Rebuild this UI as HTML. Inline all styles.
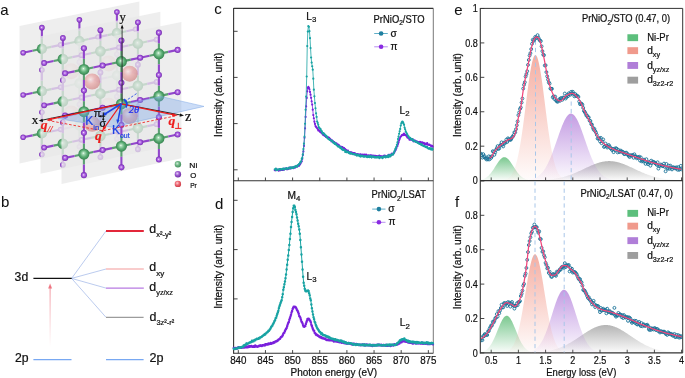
<!DOCTYPE html>
<html><head><meta charset="utf-8"><style>
html,body{margin:0;padding:0;background:#fff;width:685px;height:378px;overflow:hidden}
svg{display:block;will-change:transform}
</style></head><body>
<svg width="685" height="378" viewBox="0 0 685 378">
<defs><clipPath id="clipe"><rect x="480.8" y="8.9" width="201.4" height="171.2"/></clipPath>
<clipPath id="clipf"><rect x="480.8" y="181.1" width="201.4" height="171.3"/></clipPath>
<linearGradient id="grek" gradientUnits="userSpaceOnUse" x1="0" y1="161.1" x2="0" y2="180.6"><stop offset="0" stop-color="#9c9c9c" stop-opacity="0.75"/><stop offset="1" stop-color="#9c9c9c" stop-opacity="0.03"/></linearGradient>
<linearGradient id="greg" gradientUnits="userSpaceOnUse" x1="0" y1="157.2" x2="0" y2="180.6"><stop offset="0" stop-color="#6cc283" stop-opacity="0.9"/><stop offset="1" stop-color="#6cc283" stop-opacity="0.03"/></linearGradient>
<linearGradient id="grev" gradientUnits="userSpaceOnUse" x1="0" y1="113.6" x2="0" y2="180.6"><stop offset="0" stop-color="#b584dc" stop-opacity="0.8"/><stop offset="1" stop-color="#b584dc" stop-opacity="0.03"/></linearGradient>
<linearGradient id="grep" gradientUnits="userSpaceOnUse" x1="0" y1="55.1" x2="0" y2="180.6"><stop offset="0" stop-color="#f3a092" stop-opacity="0.85"/><stop offset="1" stop-color="#f3a092" stop-opacity="0.03"/></linearGradient>
<linearGradient id="grfk" gradientUnits="userSpaceOnUse" x1="0" y1="325" x2="0" y2="352.9"><stop offset="0" stop-color="#9c9c9c" stop-opacity="0.75"/><stop offset="1" stop-color="#9c9c9c" stop-opacity="0.03"/></linearGradient>
<linearGradient id="grfg" gradientUnits="userSpaceOnUse" x1="0" y1="315.7" x2="0" y2="352.9"><stop offset="0" stop-color="#6cc283" stop-opacity="0.9"/><stop offset="1" stop-color="#6cc283" stop-opacity="0.03"/></linearGradient>
<linearGradient id="grfv" gradientUnits="userSpaceOnUse" x1="0" y1="289.7" x2="0" y2="352.9"><stop offset="0" stop-color="#b584dc" stop-opacity="0.8"/><stop offset="1" stop-color="#b584dc" stop-opacity="0.03"/></linearGradient>
<linearGradient id="grfp" gradientUnits="userSpaceOnUse" x1="0" y1="254.2" x2="0" y2="352.9"><stop offset="0" stop-color="#f3a092" stop-opacity="0.85"/><stop offset="1" stop-color="#f3a092" stop-opacity="0.03"/></linearGradient>
<linearGradient id="redarrow" x1="0" y1="347" x2="0" y2="284" gradientUnits="userSpaceOnUse"><stop offset="0" stop-color="#f07a85" stop-opacity="0"/><stop offset="1" stop-color="#ec6674" stop-opacity="0.85"/></linearGradient>
<radialGradient id="gNi" cx="0.5" cy="0.5" r="0.55" fx="0.45" fy="0.42"><stop offset="0" stop-color="#f4fff7"/><stop offset="0.18" stop-color="#a9dcb7"/><stop offset="0.55" stop-color="#5dae76"/><stop offset="0.85" stop-color="#3d8e57"/><stop offset="1" stop-color="#2c7043"/></radialGradient>
<radialGradient id="gO" cx="0.5" cy="0.5" r="0.55" fx="0.45" fy="0.45"><stop offset="0" stop-color="#fbe2ff"/><stop offset="0.25" stop-color="#c084ea"/><stop offset="0.65" stop-color="#9444d2"/><stop offset="1" stop-color="#6a2a9e"/></radialGradient>
<radialGradient id="gPr" cx="0.4" cy="0.38" r="0.68"><stop offset="0" stop-color="#ffe4e4"/><stop offset="0.4" stop-color="#ea8f8f"/><stop offset="1" stop-color="#c45a5a"/></radialGradient>
<radialGradient id="gPrL" cx="0.4" cy="0.38" r="0.68"><stop offset="0" stop-color="#ffd0d4"/><stop offset="0.45" stop-color="#ee6a76"/><stop offset="1" stop-color="#c8333f"/></radialGradient>
<radialGradient id="gNiL" cx="0.4" cy="0.38" r="0.68"><stop offset="0" stop-color="#cfeed6"/><stop offset="0.45" stop-color="#6fb585"/><stop offset="1" stop-color="#3f8a58"/></radialGradient>
<radialGradient id="gOL" cx="0.4" cy="0.38" r="0.68"><stop offset="0" stop-color="#e6cdf7"/><stop offset="0.45" stop-color="#9d5bd0"/><stop offset="1" stop-color="#6a2aa0"/></radialGradient></defs>
<rect width="685" height="378" fill="#fff"/>
<text x="0.3" y="14.6" font-size="15" fill="#111" font-family='"Liberation Sans", sans-serif' stroke-width="0.05" stroke="#111">a</text>
<text x="1" y="207.3" font-size="15" fill="#111" font-family='"Liberation Sans", sans-serif' stroke-width="0.05" stroke="#111">b</text>
<text x="214.2" y="13.9" font-size="15" fill="#111" font-family='"Liberation Sans", sans-serif' stroke-width="0.05" stroke="#111">c</text>
<text x="215" y="209.2" font-size="15" fill="#111" font-family='"Liberation Sans", sans-serif' stroke-width="0.05" stroke="#111">d</text>
<text x="454.2" y="14.6" font-size="15" fill="#111" font-family='"Liberation Sans", sans-serif' stroke-width="0.05" stroke="#111">e</text>
<text x="455" y="207" font-size="15" fill="#111" font-family='"Liberation Sans", sans-serif' stroke-width="0.05" stroke="#111">f</text>
<path d="M233.6 8.4H433.3" stroke="#333" stroke-width="1.1" fill="none"/>
<path d="M433.3 8.4V353.3" stroke="#555" stroke-width="0.8" fill="none"/>
<path d="M233.6 7.9V353.8" stroke="#333" stroke-width="1.1" fill="none"/>
<path d="M233.6 180.7H433.3" stroke="#333" stroke-width="1.1" fill="none"/>
<path d="M233.6 353.3H433.3" stroke="#333" stroke-width="1.1" fill="none"/>
<path d="M233.6 31.3h4M233.6 77.4h4M233.6 123.6h4M233.6 169.8h4M233.6 200.3h4M233.6 249.6h4M233.6 298.9h4M233.6 348.2h4M238.3 180.7v-3.2M238.3 353.3v-3.2M265.45 180.7v-3.2M265.45 353.3v-3.2M292.6 180.7v-3.2M292.6 353.3v-3.2M319.75 180.7v-3.2M319.75 353.3v-3.2M346.9 180.7v-3.2M346.9 353.3v-3.2M374.05 180.7v-3.2M374.05 353.3v-3.2M401.2 180.7v-3.2M401.2 353.3v-3.2M428.35 180.7v-3.2M428.35 353.3v-3.2" stroke="#333" stroke-width="0.9" fill="none"/>
<text x="238.3" y="364.1" font-size="10.2" fill="#111" font-family='"Liberation Sans", sans-serif' text-anchor="middle" textLength="16.3" lengthAdjust="spacingAndGlyphs"  stroke="#111" stroke-width="0.22">840</text>
<text x="265.45" y="364.1" font-size="10.2" fill="#111" font-family='"Liberation Sans", sans-serif' text-anchor="middle" textLength="16.3" lengthAdjust="spacingAndGlyphs"  stroke="#111" stroke-width="0.22">845</text>
<text x="292.6" y="364.1" font-size="10.2" fill="#111" font-family='"Liberation Sans", sans-serif' text-anchor="middle" textLength="16.3" lengthAdjust="spacingAndGlyphs"  stroke="#111" stroke-width="0.22">850</text>
<text x="319.75" y="364.1" font-size="10.2" fill="#111" font-family='"Liberation Sans", sans-serif' text-anchor="middle" textLength="16.3" lengthAdjust="spacingAndGlyphs"  stroke="#111" stroke-width="0.22">855</text>
<text x="346.9" y="364.1" font-size="10.2" fill="#111" font-family='"Liberation Sans", sans-serif' text-anchor="middle" textLength="16.3" lengthAdjust="spacingAndGlyphs"  stroke="#111" stroke-width="0.22">860</text>
<text x="374.05" y="364.1" font-size="10.2" fill="#111" font-family='"Liberation Sans", sans-serif' text-anchor="middle" textLength="16.3" lengthAdjust="spacingAndGlyphs"  stroke="#111" stroke-width="0.22">865</text>
<text x="401.2" y="364.1" font-size="10.2" fill="#111" font-family='"Liberation Sans", sans-serif' text-anchor="middle" textLength="16.3" lengthAdjust="spacingAndGlyphs"  stroke="#111" stroke-width="0.22">870</text>
<text x="428.35" y="364.1" font-size="10.2" fill="#111" font-family='"Liberation Sans", sans-serif' text-anchor="middle" textLength="16.3" lengthAdjust="spacingAndGlyphs"  stroke="#111" stroke-width="0.22">875</text>
<text x="290.5" y="375.6" font-size="10.3" fill="#111" font-family='"Liberation Sans", sans-serif' textLength="86.5" lengthAdjust="spacingAndGlyphs"  stroke="#111" stroke-width="0.22">Photon energy (eV)</text>
<text transform="translate(221.5,136.9) rotate(-90)" font-size="10" fill="#111" font-family='"Liberation Sans", sans-serif' textLength="84.3" lengthAdjust="spacingAndGlyphs" stroke="#111" stroke-width="0.22">Intensity (arb. unit)</text>
<text transform="translate(221.5,308.8) rotate(-90)" font-size="10" fill="#111" font-family='"Liberation Sans", sans-serif' textLength="84.3" lengthAdjust="spacingAndGlyphs" stroke="#111" stroke-width="0.22">Intensity (arb. unit)</text>
<path d="M480.3 8.4H682.7V352.9" stroke="#333" stroke-width="1.0" fill="none"/>
<path d="M480.3 7.9V353.4" stroke="#333" stroke-width="1.1" fill="none"/>
<path d="M480.3 180.6H682.7M480.3 352.9H682.7" stroke="#333" stroke-width="1.1" fill="none"/>
<path d="M480.3 180.6h4M480.3 352.9h4M480.3 146.18h4M480.3 318.5h4M480.3 111.76h4M480.3 284.1h4M480.3 77.34h4M480.3 249.7h4M480.3 42.92h4M480.3 215.3h4M480.3 8.5h4M480.3 180.9h4M491.2 180.6v-3.2M491.2 352.9v-3.2M518.4 180.6v-3.2M518.4 352.9v-3.2M545.6 180.6v-3.2M545.6 352.9v-3.2M572.8 180.6v-3.2M572.8 352.9v-3.2M600 180.6v-3.2M600 352.9v-3.2M627.2 180.6v-3.2M627.2 352.9v-3.2M654.4 180.6v-3.2M654.4 352.9v-3.2M681.6 180.6v-3.2M681.6 352.9v-3.2" stroke="#333" stroke-width="0.9" fill="none"/>
<text x="477.8" y="184.3" font-size="10.2" fill="#111" font-family='"Liberation Sans", sans-serif' text-anchor="end" textLength="5" lengthAdjust="spacingAndGlyphs"  stroke="#111" stroke-width="0.22">0</text>
<text x="477.8" y="149.88" font-size="10.2" fill="#111" font-family='"Liberation Sans", sans-serif' text-anchor="end" textLength="12.6" lengthAdjust="spacingAndGlyphs"  stroke="#111" stroke-width="0.22">0.2</text>
<text x="477.8" y="115.46" font-size="10.2" fill="#111" font-family='"Liberation Sans", sans-serif' text-anchor="end" textLength="12.6" lengthAdjust="spacingAndGlyphs"  stroke="#111" stroke-width="0.22">0.4</text>
<text x="477.8" y="81.04" font-size="10.2" fill="#111" font-family='"Liberation Sans", sans-serif' text-anchor="end" textLength="12.6" lengthAdjust="spacingAndGlyphs"  stroke="#111" stroke-width="0.22">0.6</text>
<text x="477.8" y="46.62" font-size="10.2" fill="#111" font-family='"Liberation Sans", sans-serif' text-anchor="end" textLength="12.6" lengthAdjust="spacingAndGlyphs"  stroke="#111" stroke-width="0.22">0.8</text>
<text x="477.8" y="12.2" font-size="10.2" fill="#111" font-family='"Liberation Sans", sans-serif' text-anchor="end" textLength="5" lengthAdjust="spacingAndGlyphs"  stroke="#111" stroke-width="0.22">1</text>
<text x="477.8" y="356.6" font-size="10.2" fill="#111" font-family='"Liberation Sans", sans-serif' text-anchor="end" textLength="5" lengthAdjust="spacingAndGlyphs"  stroke="#111" stroke-width="0.22">0</text>
<text x="477.8" y="322.2" font-size="10.2" fill="#111" font-family='"Liberation Sans", sans-serif' text-anchor="end" textLength="12.6" lengthAdjust="spacingAndGlyphs"  stroke="#111" stroke-width="0.22">0.2</text>
<text x="477.8" y="287.8" font-size="10.2" fill="#111" font-family='"Liberation Sans", sans-serif' text-anchor="end" textLength="12.6" lengthAdjust="spacingAndGlyphs"  stroke="#111" stroke-width="0.22">0.4</text>
<text x="477.8" y="253.4" font-size="10.2" fill="#111" font-family='"Liberation Sans", sans-serif' text-anchor="end" textLength="12.6" lengthAdjust="spacingAndGlyphs"  stroke="#111" stroke-width="0.22">0.6</text>
<text x="477.8" y="219" font-size="10.2" fill="#111" font-family='"Liberation Sans", sans-serif' text-anchor="end" textLength="12.6" lengthAdjust="spacingAndGlyphs"  stroke="#111" stroke-width="0.22">0.8</text>
<text x="491.2" y="363.9" font-size="10.2" fill="#111" font-family='"Liberation Sans", sans-serif' text-anchor="middle" textLength="12.6" lengthAdjust="spacingAndGlyphs"  stroke="#111" stroke-width="0.22">0.5</text>
<text x="518.4" y="363.9" font-size="10.2" fill="#111" font-family='"Liberation Sans", sans-serif' text-anchor="middle" textLength="5" lengthAdjust="spacingAndGlyphs"  stroke="#111" stroke-width="0.22">1</text>
<text x="545.6" y="363.9" font-size="10.2" fill="#111" font-family='"Liberation Sans", sans-serif' text-anchor="middle" textLength="12.6" lengthAdjust="spacingAndGlyphs"  stroke="#111" stroke-width="0.22">1.5</text>
<text x="572.8" y="363.9" font-size="10.2" fill="#111" font-family='"Liberation Sans", sans-serif' text-anchor="middle" textLength="5" lengthAdjust="spacingAndGlyphs"  stroke="#111" stroke-width="0.22">2</text>
<text x="600" y="363.9" font-size="10.2" fill="#111" font-family='"Liberation Sans", sans-serif' text-anchor="middle" textLength="12.6" lengthAdjust="spacingAndGlyphs"  stroke="#111" stroke-width="0.22">2.5</text>
<text x="627.2" y="363.9" font-size="10.2" fill="#111" font-family='"Liberation Sans", sans-serif' text-anchor="middle" textLength="5" lengthAdjust="spacingAndGlyphs"  stroke="#111" stroke-width="0.22">3</text>
<text x="654.4" y="363.9" font-size="10.2" fill="#111" font-family='"Liberation Sans", sans-serif' text-anchor="middle" textLength="12.6" lengthAdjust="spacingAndGlyphs"  stroke="#111" stroke-width="0.22">3.5</text>
<text x="681.6" y="363.9" font-size="10.2" fill="#111" font-family='"Liberation Sans", sans-serif' text-anchor="middle" textLength="5" lengthAdjust="spacingAndGlyphs"  stroke="#111" stroke-width="0.22">4</text>
<text x="546.3" y="375.6" font-size="10.3" fill="#111" font-family='"Liberation Sans", sans-serif' textLength="70" lengthAdjust="spacingAndGlyphs"  stroke="#111" stroke-width="0.22">Energy loss (eV)</text>
<text transform="translate(461.2,137.0) rotate(-90)" font-size="10" fill="#111" font-family='"Liberation Sans", sans-serif' textLength="84" lengthAdjust="spacingAndGlyphs" stroke="#111" stroke-width="0.22">Intensity (arb. unit)</text>
<text transform="translate(461.2,309.2) rotate(-90)" font-size="10" fill="#111" font-family='"Liberation Sans", sans-serif' textLength="84" lengthAdjust="spacingAndGlyphs" stroke="#111" stroke-width="0.22">Intensity (arb. unit)</text>
<path d="M274.8 170.2 275.35 170.33 275.9 170.07 276.45 169.77 277 169.95 277.55 169.69 278.1 170.13 278.65 170.67 279.2 169.81 279.75 169.72 280.3 170.17 280.85 170.07 281.4 169.91 281.95 169.39 282.5 169.74 283.05 170.01 283.6 169.04 284.15 169.38 284.7 168.68 285.25 168.89 285.8 168.57 286.35 169.22 286.9 168.66 287.45 169.25 288 169.09 288.55 168.83 289.1 167.66 289.65 168.43 290.2 168.53 290.75 168.48 291.3 167.61 291.85 167.95 292.4 167.58 292.95 167.5 293.5 168.18 294.05 167.16 294.6 167.33 295.15 167.54 295.7 166.68 296.25 166.68 296.8 166.54 297.35 166.26 297.9 165.38 298.45 165.63 299 165.81 299.55 164 300.1 164.4 300.65 163.2 301.2 161.78 301.75 161.4 302.3 158.74 302.85 155.01 303.4 151.41 303.95 145.92 304.5 137.85 305.05 128.37 305.6 116.94 306.15 106.35 306.7 97.93 307.25 91.31 307.8 87.88 308.35 86.89 308.9 87.84 309.45 89.27 310 91.88 310.55 94.65 311.1 97.79 311.65 101.36 312.2 104.59 312.75 109.65 313.3 115.11 313.85 118.23 314.4 121.67 314.95 123.92 315.5 126.07 316.05 126.96 316.6 127.45 317.15 128.24 317.7 129.01 318.25 130.49 318.8 130.26 319.35 130.91 319.9 131.76 320.45 132.07 321 132.54 321.55 132.61 322.1 133.58 322.65 133.84 323.2 134.99 323.75 135.17 324.3 135.27 324.85 135.98 325.4 135.91 325.95 136.94 326.5 136.86 327.05 137.52 327.6 137.07 328.15 138.2 328.7 137.68 329.25 137.91 329.8 139.08 330.35 139.19 330.9 140.06 331.45 141.38 332 140.38 332.55 140.86 333.1 141.61 333.65 142.13 334.2 142.21 334.75 142.59 335.3 143.39 335.85 143.69 336.4 143.38 336.95 144.2 337.5 144.63 338.05 144.52 338.6 145.49 339.15 145.36 339.7 146.54 340.25 146.55 340.8 146.87 341.35 146.93 341.9 147.52 342.45 147.05 343 147.81 343.55 148.86 344.1 148.11 344.65 149.82 345.2 149.01 345.75 150.49 346.3 150.1 346.85 151.16 347.4 151.17 347.95 150.71 348.5 152.24 349.05 152.57 349.6 152.12 350.15 152.23 350.7 152.47 351.25 152.29 351.8 153.4 352.35 152.83 352.9 153.22 353.45 153.04 354 153.27 354.55 153.12 355.1 154.4 355.65 153.9 356.2 154.53 356.75 154.23 357.3 154.02 357.85 154.29 358.4 154.29 358.95 154.64 359.5 154.56 360.05 154.67 360.6 154.26 361.15 154.6 361.7 155.77 362.25 154.8 362.8 154.69 363.35 155.38 363.9 155.93 364.45 154.7 365 155.31 365.55 155.18 366.1 154.72 366.65 155.89 367.2 155.6 367.75 155.68 368.3 155.35 368.85 155.93 369.4 155.52 369.95 155.73 370.5 155.33 371.05 155.31 371.6 156.49 372.15 155.7 372.7 156.09 373.25 155.97 373.8 155.81 374.35 155.81 374.9 156.35 375.45 155.96 376 156.05 376.55 156.14 377.1 156.68 377.65 156.47 378.2 156.35 378.75 155.94 379.3 155.58 379.85 156.63 380.4 156.63 380.95 156.13 381.5 156.43 382.05 156.52 382.6 156.53 383.15 156.55 383.7 155.9 384.25 156.76 384.8 155.49 385.35 156.4 385.9 156.2 386.45 156.33 387 156.73 387.55 156.51 388.1 155.27 388.65 154.95 389.2 155.95 389.75 154.97 390.3 155.24 390.85 155.43 391.4 154.11 391.95 153.66 392.5 154.44 393.05 153.98 393.6 153.34 394.15 152.79 394.7 151.59 395.25 150.39 395.8 149.87 396.35 148.21 396.9 146.52 397.45 145.96 398 143.97 398.55 142.45 399.1 140.3 399.65 139.01 400.2 137.52 400.75 136.48 401.3 136.19 401.85 135.04 402.4 134.94 402.95 134.51 403.5 135.11 404.05 133.69 404.6 134.99 405.15 134.92 405.7 135.34 406.25 135.22 406.8 136.29 407.35 137.47 407.9 137.67 408.45 138.23 409 138.54 409.55 139.63 410.1 139.5 410.65 138.85 411.2 139.77 411.75 139.39 412.3 138.98 412.85 140.35 413.4 141.32 413.95 140.86 414.5 140.43 415.05 140.65 415.6 141.71 416.15 141.41 416.7 141.5 417.25 141.59 417.8 141.76 418.35 142.24 418.9 142.27 419.45 142.25 420 141.83 420.55 142.68 421.1 142.29 421.65 143.24 422.2 142.33 422.75 143 423.3 143.21 423.85 142.78 424.4 144.31 424.95 144.36 425.5 143.65 426.05 144.37 426.6 144.35 427.15 143.17 427.7 144.62 428.25 144.64 428.8 144.87 429.35 144.51 429.9 145.04 430.45 145.24 431 146.03 431.55 145.81 432.1 145.82 432.65 146.68" stroke="#7a20dc" stroke-width="0.8" fill="none"/>
<path d="M273.7 170.2a1.1 1.1 0 1 0 2.2 0a1.1 1.1 0 1 0 -2.2 0M274.25 170.33a1.1 1.1 0 1 0 2.2 0a1.1 1.1 0 1 0 -2.2 0M274.8 170.07a1.1 1.1 0 1 0 2.2 0a1.1 1.1 0 1 0 -2.2 0M275.35 169.77a1.1 1.1 0 1 0 2.2 0a1.1 1.1 0 1 0 -2.2 0M275.9 169.95a1.1 1.1 0 1 0 2.2 0a1.1 1.1 0 1 0 -2.2 0M276.45 169.69a1.1 1.1 0 1 0 2.2 0a1.1 1.1 0 1 0 -2.2 0M277 170.13a1.1 1.1 0 1 0 2.2 0a1.1 1.1 0 1 0 -2.2 0M277.55 170.67a1.1 1.1 0 1 0 2.2 0a1.1 1.1 0 1 0 -2.2 0M278.1 169.81a1.1 1.1 0 1 0 2.2 0a1.1 1.1 0 1 0 -2.2 0M278.65 169.72a1.1 1.1 0 1 0 2.2 0a1.1 1.1 0 1 0 -2.2 0M279.2 170.17a1.1 1.1 0 1 0 2.2 0a1.1 1.1 0 1 0 -2.2 0M279.75 170.07a1.1 1.1 0 1 0 2.2 0a1.1 1.1 0 1 0 -2.2 0M280.3 169.91a1.1 1.1 0 1 0 2.2 0a1.1 1.1 0 1 0 -2.2 0M280.85 169.39a1.1 1.1 0 1 0 2.2 0a1.1 1.1 0 1 0 -2.2 0M281.4 169.74a1.1 1.1 0 1 0 2.2 0a1.1 1.1 0 1 0 -2.2 0M281.95 170.01a1.1 1.1 0 1 0 2.2 0a1.1 1.1 0 1 0 -2.2 0M282.5 169.04a1.1 1.1 0 1 0 2.2 0a1.1 1.1 0 1 0 -2.2 0M283.05 169.38a1.1 1.1 0 1 0 2.2 0a1.1 1.1 0 1 0 -2.2 0M283.6 168.68a1.1 1.1 0 1 0 2.2 0a1.1 1.1 0 1 0 -2.2 0M284.15 168.89a1.1 1.1 0 1 0 2.2 0a1.1 1.1 0 1 0 -2.2 0M284.7 168.57a1.1 1.1 0 1 0 2.2 0a1.1 1.1 0 1 0 -2.2 0M285.25 169.22a1.1 1.1 0 1 0 2.2 0a1.1 1.1 0 1 0 -2.2 0M285.8 168.66a1.1 1.1 0 1 0 2.2 0a1.1 1.1 0 1 0 -2.2 0M286.35 169.25a1.1 1.1 0 1 0 2.2 0a1.1 1.1 0 1 0 -2.2 0M286.9 169.09a1.1 1.1 0 1 0 2.2 0a1.1 1.1 0 1 0 -2.2 0M287.45 168.83a1.1 1.1 0 1 0 2.2 0a1.1 1.1 0 1 0 -2.2 0M288 167.66a1.1 1.1 0 1 0 2.2 0a1.1 1.1 0 1 0 -2.2 0M288.55 168.43a1.1 1.1 0 1 0 2.2 0a1.1 1.1 0 1 0 -2.2 0M289.1 168.53a1.1 1.1 0 1 0 2.2 0a1.1 1.1 0 1 0 -2.2 0M289.65 168.48a1.1 1.1 0 1 0 2.2 0a1.1 1.1 0 1 0 -2.2 0M290.2 167.61a1.1 1.1 0 1 0 2.2 0a1.1 1.1 0 1 0 -2.2 0M290.75 167.95a1.1 1.1 0 1 0 2.2 0a1.1 1.1 0 1 0 -2.2 0M291.3 167.58a1.1 1.1 0 1 0 2.2 0a1.1 1.1 0 1 0 -2.2 0M291.85 167.5a1.1 1.1 0 1 0 2.2 0a1.1 1.1 0 1 0 -2.2 0M292.4 168.18a1.1 1.1 0 1 0 2.2 0a1.1 1.1 0 1 0 -2.2 0M292.95 167.16a1.1 1.1 0 1 0 2.2 0a1.1 1.1 0 1 0 -2.2 0M293.5 167.33a1.1 1.1 0 1 0 2.2 0a1.1 1.1 0 1 0 -2.2 0M294.05 167.54a1.1 1.1 0 1 0 2.2 0a1.1 1.1 0 1 0 -2.2 0M294.6 166.68a1.1 1.1 0 1 0 2.2 0a1.1 1.1 0 1 0 -2.2 0M295.15 166.68a1.1 1.1 0 1 0 2.2 0a1.1 1.1 0 1 0 -2.2 0M295.7 166.54a1.1 1.1 0 1 0 2.2 0a1.1 1.1 0 1 0 -2.2 0M296.25 166.26a1.1 1.1 0 1 0 2.2 0a1.1 1.1 0 1 0 -2.2 0M296.8 165.38a1.1 1.1 0 1 0 2.2 0a1.1 1.1 0 1 0 -2.2 0M297.35 165.63a1.1 1.1 0 1 0 2.2 0a1.1 1.1 0 1 0 -2.2 0M297.9 165.81a1.1 1.1 0 1 0 2.2 0a1.1 1.1 0 1 0 -2.2 0M298.45 164a1.1 1.1 0 1 0 2.2 0a1.1 1.1 0 1 0 -2.2 0M299 164.4a1.1 1.1 0 1 0 2.2 0a1.1 1.1 0 1 0 -2.2 0M299.55 163.2a1.1 1.1 0 1 0 2.2 0a1.1 1.1 0 1 0 -2.2 0M300.1 161.78a1.1 1.1 0 1 0 2.2 0a1.1 1.1 0 1 0 -2.2 0M300.65 161.4a1.1 1.1 0 1 0 2.2 0a1.1 1.1 0 1 0 -2.2 0M301.2 158.74a1.1 1.1 0 1 0 2.2 0a1.1 1.1 0 1 0 -2.2 0M301.75 155.01a1.1 1.1 0 1 0 2.2 0a1.1 1.1 0 1 0 -2.2 0M302.3 151.41a1.1 1.1 0 1 0 2.2 0a1.1 1.1 0 1 0 -2.2 0M302.85 145.92a1.1 1.1 0 1 0 2.2 0a1.1 1.1 0 1 0 -2.2 0M303.4 137.85a1.1 1.1 0 1 0 2.2 0a1.1 1.1 0 1 0 -2.2 0M303.95 128.37a1.1 1.1 0 1 0 2.2 0a1.1 1.1 0 1 0 -2.2 0M304.5 116.94a1.1 1.1 0 1 0 2.2 0a1.1 1.1 0 1 0 -2.2 0M305.05 106.35a1.1 1.1 0 1 0 2.2 0a1.1 1.1 0 1 0 -2.2 0M305.6 97.93a1.1 1.1 0 1 0 2.2 0a1.1 1.1 0 1 0 -2.2 0M306.15 91.31a1.1 1.1 0 1 0 2.2 0a1.1 1.1 0 1 0 -2.2 0M306.7 87.88a1.1 1.1 0 1 0 2.2 0a1.1 1.1 0 1 0 -2.2 0M307.25 86.89a1.1 1.1 0 1 0 2.2 0a1.1 1.1 0 1 0 -2.2 0M307.8 87.84a1.1 1.1 0 1 0 2.2 0a1.1 1.1 0 1 0 -2.2 0M308.35 89.27a1.1 1.1 0 1 0 2.2 0a1.1 1.1 0 1 0 -2.2 0M308.9 91.88a1.1 1.1 0 1 0 2.2 0a1.1 1.1 0 1 0 -2.2 0M309.45 94.65a1.1 1.1 0 1 0 2.2 0a1.1 1.1 0 1 0 -2.2 0M310 97.79a1.1 1.1 0 1 0 2.2 0a1.1 1.1 0 1 0 -2.2 0M310.55 101.36a1.1 1.1 0 1 0 2.2 0a1.1 1.1 0 1 0 -2.2 0M311.1 104.59a1.1 1.1 0 1 0 2.2 0a1.1 1.1 0 1 0 -2.2 0M311.65 109.65a1.1 1.1 0 1 0 2.2 0a1.1 1.1 0 1 0 -2.2 0M312.2 115.11a1.1 1.1 0 1 0 2.2 0a1.1 1.1 0 1 0 -2.2 0M312.75 118.23a1.1 1.1 0 1 0 2.2 0a1.1 1.1 0 1 0 -2.2 0M313.3 121.67a1.1 1.1 0 1 0 2.2 0a1.1 1.1 0 1 0 -2.2 0M313.85 123.92a1.1 1.1 0 1 0 2.2 0a1.1 1.1 0 1 0 -2.2 0M314.4 126.07a1.1 1.1 0 1 0 2.2 0a1.1 1.1 0 1 0 -2.2 0M314.95 126.96a1.1 1.1 0 1 0 2.2 0a1.1 1.1 0 1 0 -2.2 0M315.5 127.45a1.1 1.1 0 1 0 2.2 0a1.1 1.1 0 1 0 -2.2 0M316.05 128.24a1.1 1.1 0 1 0 2.2 0a1.1 1.1 0 1 0 -2.2 0M316.6 129.01a1.1 1.1 0 1 0 2.2 0a1.1 1.1 0 1 0 -2.2 0M317.15 130.49a1.1 1.1 0 1 0 2.2 0a1.1 1.1 0 1 0 -2.2 0M317.7 130.26a1.1 1.1 0 1 0 2.2 0a1.1 1.1 0 1 0 -2.2 0M318.25 130.91a1.1 1.1 0 1 0 2.2 0a1.1 1.1 0 1 0 -2.2 0M318.8 131.76a1.1 1.1 0 1 0 2.2 0a1.1 1.1 0 1 0 -2.2 0M319.35 132.07a1.1 1.1 0 1 0 2.2 0a1.1 1.1 0 1 0 -2.2 0M319.9 132.54a1.1 1.1 0 1 0 2.2 0a1.1 1.1 0 1 0 -2.2 0M320.45 132.61a1.1 1.1 0 1 0 2.2 0a1.1 1.1 0 1 0 -2.2 0M321 133.58a1.1 1.1 0 1 0 2.2 0a1.1 1.1 0 1 0 -2.2 0M321.55 133.84a1.1 1.1 0 1 0 2.2 0a1.1 1.1 0 1 0 -2.2 0M322.1 134.99a1.1 1.1 0 1 0 2.2 0a1.1 1.1 0 1 0 -2.2 0M322.65 135.17a1.1 1.1 0 1 0 2.2 0a1.1 1.1 0 1 0 -2.2 0M323.2 135.27a1.1 1.1 0 1 0 2.2 0a1.1 1.1 0 1 0 -2.2 0M323.75 135.98a1.1 1.1 0 1 0 2.2 0a1.1 1.1 0 1 0 -2.2 0M324.3 135.91a1.1 1.1 0 1 0 2.2 0a1.1 1.1 0 1 0 -2.2 0M324.85 136.94a1.1 1.1 0 1 0 2.2 0a1.1 1.1 0 1 0 -2.2 0M325.4 136.86a1.1 1.1 0 1 0 2.2 0a1.1 1.1 0 1 0 -2.2 0M325.95 137.52a1.1 1.1 0 1 0 2.2 0a1.1 1.1 0 1 0 -2.2 0M326.5 137.07a1.1 1.1 0 1 0 2.2 0a1.1 1.1 0 1 0 -2.2 0M327.05 138.2a1.1 1.1 0 1 0 2.2 0a1.1 1.1 0 1 0 -2.2 0M327.6 137.68a1.1 1.1 0 1 0 2.2 0a1.1 1.1 0 1 0 -2.2 0M328.15 137.91a1.1 1.1 0 1 0 2.2 0a1.1 1.1 0 1 0 -2.2 0M328.7 139.08a1.1 1.1 0 1 0 2.2 0a1.1 1.1 0 1 0 -2.2 0M329.25 139.19a1.1 1.1 0 1 0 2.2 0a1.1 1.1 0 1 0 -2.2 0M329.8 140.06a1.1 1.1 0 1 0 2.2 0a1.1 1.1 0 1 0 -2.2 0M330.35 141.38a1.1 1.1 0 1 0 2.2 0a1.1 1.1 0 1 0 -2.2 0M330.9 140.38a1.1 1.1 0 1 0 2.2 0a1.1 1.1 0 1 0 -2.2 0M331.45 140.86a1.1 1.1 0 1 0 2.2 0a1.1 1.1 0 1 0 -2.2 0M332 141.61a1.1 1.1 0 1 0 2.2 0a1.1 1.1 0 1 0 -2.2 0M332.55 142.13a1.1 1.1 0 1 0 2.2 0a1.1 1.1 0 1 0 -2.2 0M333.1 142.21a1.1 1.1 0 1 0 2.2 0a1.1 1.1 0 1 0 -2.2 0M333.65 142.59a1.1 1.1 0 1 0 2.2 0a1.1 1.1 0 1 0 -2.2 0M334.2 143.39a1.1 1.1 0 1 0 2.2 0a1.1 1.1 0 1 0 -2.2 0M334.75 143.69a1.1 1.1 0 1 0 2.2 0a1.1 1.1 0 1 0 -2.2 0M335.3 143.38a1.1 1.1 0 1 0 2.2 0a1.1 1.1 0 1 0 -2.2 0M335.85 144.2a1.1 1.1 0 1 0 2.2 0a1.1 1.1 0 1 0 -2.2 0M336.4 144.63a1.1 1.1 0 1 0 2.2 0a1.1 1.1 0 1 0 -2.2 0M336.95 144.52a1.1 1.1 0 1 0 2.2 0a1.1 1.1 0 1 0 -2.2 0M337.5 145.49a1.1 1.1 0 1 0 2.2 0a1.1 1.1 0 1 0 -2.2 0M338.05 145.36a1.1 1.1 0 1 0 2.2 0a1.1 1.1 0 1 0 -2.2 0M338.6 146.54a1.1 1.1 0 1 0 2.2 0a1.1 1.1 0 1 0 -2.2 0M339.15 146.55a1.1 1.1 0 1 0 2.2 0a1.1 1.1 0 1 0 -2.2 0M339.7 146.87a1.1 1.1 0 1 0 2.2 0a1.1 1.1 0 1 0 -2.2 0M340.25 146.93a1.1 1.1 0 1 0 2.2 0a1.1 1.1 0 1 0 -2.2 0M340.8 147.52a1.1 1.1 0 1 0 2.2 0a1.1 1.1 0 1 0 -2.2 0M341.35 147.05a1.1 1.1 0 1 0 2.2 0a1.1 1.1 0 1 0 -2.2 0M341.9 147.81a1.1 1.1 0 1 0 2.2 0a1.1 1.1 0 1 0 -2.2 0M342.45 148.86a1.1 1.1 0 1 0 2.2 0a1.1 1.1 0 1 0 -2.2 0M343 148.11a1.1 1.1 0 1 0 2.2 0a1.1 1.1 0 1 0 -2.2 0M343.55 149.82a1.1 1.1 0 1 0 2.2 0a1.1 1.1 0 1 0 -2.2 0M344.1 149.01a1.1 1.1 0 1 0 2.2 0a1.1 1.1 0 1 0 -2.2 0M344.65 150.49a1.1 1.1 0 1 0 2.2 0a1.1 1.1 0 1 0 -2.2 0M345.2 150.1a1.1 1.1 0 1 0 2.2 0a1.1 1.1 0 1 0 -2.2 0M345.75 151.16a1.1 1.1 0 1 0 2.2 0a1.1 1.1 0 1 0 -2.2 0M346.3 151.17a1.1 1.1 0 1 0 2.2 0a1.1 1.1 0 1 0 -2.2 0M346.85 150.71a1.1 1.1 0 1 0 2.2 0a1.1 1.1 0 1 0 -2.2 0M347.4 152.24a1.1 1.1 0 1 0 2.2 0a1.1 1.1 0 1 0 -2.2 0M347.95 152.57a1.1 1.1 0 1 0 2.2 0a1.1 1.1 0 1 0 -2.2 0M348.5 152.12a1.1 1.1 0 1 0 2.2 0a1.1 1.1 0 1 0 -2.2 0M349.05 152.23a1.1 1.1 0 1 0 2.2 0a1.1 1.1 0 1 0 -2.2 0M349.6 152.47a1.1 1.1 0 1 0 2.2 0a1.1 1.1 0 1 0 -2.2 0M350.15 152.29a1.1 1.1 0 1 0 2.2 0a1.1 1.1 0 1 0 -2.2 0M350.7 153.4a1.1 1.1 0 1 0 2.2 0a1.1 1.1 0 1 0 -2.2 0M351.25 152.83a1.1 1.1 0 1 0 2.2 0a1.1 1.1 0 1 0 -2.2 0M351.8 153.22a1.1 1.1 0 1 0 2.2 0a1.1 1.1 0 1 0 -2.2 0M352.35 153.04a1.1 1.1 0 1 0 2.2 0a1.1 1.1 0 1 0 -2.2 0M352.9 153.27a1.1 1.1 0 1 0 2.2 0a1.1 1.1 0 1 0 -2.2 0M353.45 153.12a1.1 1.1 0 1 0 2.2 0a1.1 1.1 0 1 0 -2.2 0M354 154.4a1.1 1.1 0 1 0 2.2 0a1.1 1.1 0 1 0 -2.2 0M354.55 153.9a1.1 1.1 0 1 0 2.2 0a1.1 1.1 0 1 0 -2.2 0M355.1 154.53a1.1 1.1 0 1 0 2.2 0a1.1 1.1 0 1 0 -2.2 0M355.65 154.23a1.1 1.1 0 1 0 2.2 0a1.1 1.1 0 1 0 -2.2 0M356.2 154.02a1.1 1.1 0 1 0 2.2 0a1.1 1.1 0 1 0 -2.2 0M356.75 154.29a1.1 1.1 0 1 0 2.2 0a1.1 1.1 0 1 0 -2.2 0M357.3 154.29a1.1 1.1 0 1 0 2.2 0a1.1 1.1 0 1 0 -2.2 0M357.85 154.64a1.1 1.1 0 1 0 2.2 0a1.1 1.1 0 1 0 -2.2 0M358.4 154.56a1.1 1.1 0 1 0 2.2 0a1.1 1.1 0 1 0 -2.2 0M358.95 154.67a1.1 1.1 0 1 0 2.2 0a1.1 1.1 0 1 0 -2.2 0M359.5 154.26a1.1 1.1 0 1 0 2.2 0a1.1 1.1 0 1 0 -2.2 0M360.05 154.6a1.1 1.1 0 1 0 2.2 0a1.1 1.1 0 1 0 -2.2 0M360.6 155.77a1.1 1.1 0 1 0 2.2 0a1.1 1.1 0 1 0 -2.2 0M361.15 154.8a1.1 1.1 0 1 0 2.2 0a1.1 1.1 0 1 0 -2.2 0M361.7 154.69a1.1 1.1 0 1 0 2.2 0a1.1 1.1 0 1 0 -2.2 0M362.25 155.38a1.1 1.1 0 1 0 2.2 0a1.1 1.1 0 1 0 -2.2 0M362.8 155.93a1.1 1.1 0 1 0 2.2 0a1.1 1.1 0 1 0 -2.2 0M363.35 154.7a1.1 1.1 0 1 0 2.2 0a1.1 1.1 0 1 0 -2.2 0M363.9 155.31a1.1 1.1 0 1 0 2.2 0a1.1 1.1 0 1 0 -2.2 0M364.45 155.18a1.1 1.1 0 1 0 2.2 0a1.1 1.1 0 1 0 -2.2 0M365 154.72a1.1 1.1 0 1 0 2.2 0a1.1 1.1 0 1 0 -2.2 0M365.55 155.89a1.1 1.1 0 1 0 2.2 0a1.1 1.1 0 1 0 -2.2 0M366.1 155.6a1.1 1.1 0 1 0 2.2 0a1.1 1.1 0 1 0 -2.2 0M366.65 155.68a1.1 1.1 0 1 0 2.2 0a1.1 1.1 0 1 0 -2.2 0M367.2 155.35a1.1 1.1 0 1 0 2.2 0a1.1 1.1 0 1 0 -2.2 0M367.75 155.93a1.1 1.1 0 1 0 2.2 0a1.1 1.1 0 1 0 -2.2 0M368.3 155.52a1.1 1.1 0 1 0 2.2 0a1.1 1.1 0 1 0 -2.2 0M368.85 155.73a1.1 1.1 0 1 0 2.2 0a1.1 1.1 0 1 0 -2.2 0M369.4 155.33a1.1 1.1 0 1 0 2.2 0a1.1 1.1 0 1 0 -2.2 0M369.95 155.31a1.1 1.1 0 1 0 2.2 0a1.1 1.1 0 1 0 -2.2 0M370.5 156.49a1.1 1.1 0 1 0 2.2 0a1.1 1.1 0 1 0 -2.2 0M371.05 155.7a1.1 1.1 0 1 0 2.2 0a1.1 1.1 0 1 0 -2.2 0M371.6 156.09a1.1 1.1 0 1 0 2.2 0a1.1 1.1 0 1 0 -2.2 0M372.15 155.97a1.1 1.1 0 1 0 2.2 0a1.1 1.1 0 1 0 -2.2 0M372.7 155.81a1.1 1.1 0 1 0 2.2 0a1.1 1.1 0 1 0 -2.2 0M373.25 155.81a1.1 1.1 0 1 0 2.2 0a1.1 1.1 0 1 0 -2.2 0M373.8 156.35a1.1 1.1 0 1 0 2.2 0a1.1 1.1 0 1 0 -2.2 0M374.35 155.96a1.1 1.1 0 1 0 2.2 0a1.1 1.1 0 1 0 -2.2 0M374.9 156.05a1.1 1.1 0 1 0 2.2 0a1.1 1.1 0 1 0 -2.2 0M375.45 156.14a1.1 1.1 0 1 0 2.2 0a1.1 1.1 0 1 0 -2.2 0M376 156.68a1.1 1.1 0 1 0 2.2 0a1.1 1.1 0 1 0 -2.2 0M376.55 156.47a1.1 1.1 0 1 0 2.2 0a1.1 1.1 0 1 0 -2.2 0M377.1 156.35a1.1 1.1 0 1 0 2.2 0a1.1 1.1 0 1 0 -2.2 0M377.65 155.94a1.1 1.1 0 1 0 2.2 0a1.1 1.1 0 1 0 -2.2 0M378.2 155.58a1.1 1.1 0 1 0 2.2 0a1.1 1.1 0 1 0 -2.2 0M378.75 156.63a1.1 1.1 0 1 0 2.2 0a1.1 1.1 0 1 0 -2.2 0M379.3 156.63a1.1 1.1 0 1 0 2.2 0a1.1 1.1 0 1 0 -2.2 0M379.85 156.13a1.1 1.1 0 1 0 2.2 0a1.1 1.1 0 1 0 -2.2 0M380.4 156.43a1.1 1.1 0 1 0 2.2 0a1.1 1.1 0 1 0 -2.2 0M380.95 156.52a1.1 1.1 0 1 0 2.2 0a1.1 1.1 0 1 0 -2.2 0M381.5 156.53a1.1 1.1 0 1 0 2.2 0a1.1 1.1 0 1 0 -2.2 0M382.05 156.55a1.1 1.1 0 1 0 2.2 0a1.1 1.1 0 1 0 -2.2 0M382.6 155.9a1.1 1.1 0 1 0 2.2 0a1.1 1.1 0 1 0 -2.2 0M383.15 156.76a1.1 1.1 0 1 0 2.2 0a1.1 1.1 0 1 0 -2.2 0M383.7 155.49a1.1 1.1 0 1 0 2.2 0a1.1 1.1 0 1 0 -2.2 0M384.25 156.4a1.1 1.1 0 1 0 2.2 0a1.1 1.1 0 1 0 -2.2 0M384.8 156.2a1.1 1.1 0 1 0 2.2 0a1.1 1.1 0 1 0 -2.2 0M385.35 156.33a1.1 1.1 0 1 0 2.2 0a1.1 1.1 0 1 0 -2.2 0M385.9 156.73a1.1 1.1 0 1 0 2.2 0a1.1 1.1 0 1 0 -2.2 0M386.45 156.51a1.1 1.1 0 1 0 2.2 0a1.1 1.1 0 1 0 -2.2 0M387 155.27a1.1 1.1 0 1 0 2.2 0a1.1 1.1 0 1 0 -2.2 0M387.55 154.95a1.1 1.1 0 1 0 2.2 0a1.1 1.1 0 1 0 -2.2 0M388.1 155.95a1.1 1.1 0 1 0 2.2 0a1.1 1.1 0 1 0 -2.2 0M388.65 154.97a1.1 1.1 0 1 0 2.2 0a1.1 1.1 0 1 0 -2.2 0M389.2 155.24a1.1 1.1 0 1 0 2.2 0a1.1 1.1 0 1 0 -2.2 0M389.75 155.43a1.1 1.1 0 1 0 2.2 0a1.1 1.1 0 1 0 -2.2 0M390.3 154.11a1.1 1.1 0 1 0 2.2 0a1.1 1.1 0 1 0 -2.2 0M390.85 153.66a1.1 1.1 0 1 0 2.2 0a1.1 1.1 0 1 0 -2.2 0M391.4 154.44a1.1 1.1 0 1 0 2.2 0a1.1 1.1 0 1 0 -2.2 0M391.95 153.98a1.1 1.1 0 1 0 2.2 0a1.1 1.1 0 1 0 -2.2 0M392.5 153.34a1.1 1.1 0 1 0 2.2 0a1.1 1.1 0 1 0 -2.2 0M393.05 152.79a1.1 1.1 0 1 0 2.2 0a1.1 1.1 0 1 0 -2.2 0M393.6 151.59a1.1 1.1 0 1 0 2.2 0a1.1 1.1 0 1 0 -2.2 0M394.15 150.39a1.1 1.1 0 1 0 2.2 0a1.1 1.1 0 1 0 -2.2 0M394.7 149.87a1.1 1.1 0 1 0 2.2 0a1.1 1.1 0 1 0 -2.2 0M395.25 148.21a1.1 1.1 0 1 0 2.2 0a1.1 1.1 0 1 0 -2.2 0M395.8 146.52a1.1 1.1 0 1 0 2.2 0a1.1 1.1 0 1 0 -2.2 0M396.35 145.96a1.1 1.1 0 1 0 2.2 0a1.1 1.1 0 1 0 -2.2 0M396.9 143.97a1.1 1.1 0 1 0 2.2 0a1.1 1.1 0 1 0 -2.2 0M397.45 142.45a1.1 1.1 0 1 0 2.2 0a1.1 1.1 0 1 0 -2.2 0M398 140.3a1.1 1.1 0 1 0 2.2 0a1.1 1.1 0 1 0 -2.2 0M398.55 139.01a1.1 1.1 0 1 0 2.2 0a1.1 1.1 0 1 0 -2.2 0M399.1 137.52a1.1 1.1 0 1 0 2.2 0a1.1 1.1 0 1 0 -2.2 0M399.65 136.48a1.1 1.1 0 1 0 2.2 0a1.1 1.1 0 1 0 -2.2 0M400.2 136.19a1.1 1.1 0 1 0 2.2 0a1.1 1.1 0 1 0 -2.2 0M400.75 135.04a1.1 1.1 0 1 0 2.2 0a1.1 1.1 0 1 0 -2.2 0M401.3 134.94a1.1 1.1 0 1 0 2.2 0a1.1 1.1 0 1 0 -2.2 0M401.85 134.51a1.1 1.1 0 1 0 2.2 0a1.1 1.1 0 1 0 -2.2 0M402.4 135.11a1.1 1.1 0 1 0 2.2 0a1.1 1.1 0 1 0 -2.2 0M402.95 133.69a1.1 1.1 0 1 0 2.2 0a1.1 1.1 0 1 0 -2.2 0M403.5 134.99a1.1 1.1 0 1 0 2.2 0a1.1 1.1 0 1 0 -2.2 0M404.05 134.92a1.1 1.1 0 1 0 2.2 0a1.1 1.1 0 1 0 -2.2 0M404.6 135.34a1.1 1.1 0 1 0 2.2 0a1.1 1.1 0 1 0 -2.2 0M405.15 135.22a1.1 1.1 0 1 0 2.2 0a1.1 1.1 0 1 0 -2.2 0M405.7 136.29a1.1 1.1 0 1 0 2.2 0a1.1 1.1 0 1 0 -2.2 0M406.25 137.47a1.1 1.1 0 1 0 2.2 0a1.1 1.1 0 1 0 -2.2 0M406.8 137.67a1.1 1.1 0 1 0 2.2 0a1.1 1.1 0 1 0 -2.2 0M407.35 138.23a1.1 1.1 0 1 0 2.2 0a1.1 1.1 0 1 0 -2.2 0M407.9 138.54a1.1 1.1 0 1 0 2.2 0a1.1 1.1 0 1 0 -2.2 0M408.45 139.63a1.1 1.1 0 1 0 2.2 0a1.1 1.1 0 1 0 -2.2 0M409 139.5a1.1 1.1 0 1 0 2.2 0a1.1 1.1 0 1 0 -2.2 0M409.55 138.85a1.1 1.1 0 1 0 2.2 0a1.1 1.1 0 1 0 -2.2 0M410.1 139.77a1.1 1.1 0 1 0 2.2 0a1.1 1.1 0 1 0 -2.2 0M410.65 139.39a1.1 1.1 0 1 0 2.2 0a1.1 1.1 0 1 0 -2.2 0M411.2 138.98a1.1 1.1 0 1 0 2.2 0a1.1 1.1 0 1 0 -2.2 0M411.75 140.35a1.1 1.1 0 1 0 2.2 0a1.1 1.1 0 1 0 -2.2 0M412.3 141.32a1.1 1.1 0 1 0 2.2 0a1.1 1.1 0 1 0 -2.2 0M412.85 140.86a1.1 1.1 0 1 0 2.2 0a1.1 1.1 0 1 0 -2.2 0M413.4 140.43a1.1 1.1 0 1 0 2.2 0a1.1 1.1 0 1 0 -2.2 0M413.95 140.65a1.1 1.1 0 1 0 2.2 0a1.1 1.1 0 1 0 -2.2 0M414.5 141.71a1.1 1.1 0 1 0 2.2 0a1.1 1.1 0 1 0 -2.2 0M415.05 141.41a1.1 1.1 0 1 0 2.2 0a1.1 1.1 0 1 0 -2.2 0M415.6 141.5a1.1 1.1 0 1 0 2.2 0a1.1 1.1 0 1 0 -2.2 0M416.15 141.59a1.1 1.1 0 1 0 2.2 0a1.1 1.1 0 1 0 -2.2 0M416.7 141.76a1.1 1.1 0 1 0 2.2 0a1.1 1.1 0 1 0 -2.2 0M417.25 142.24a1.1 1.1 0 1 0 2.2 0a1.1 1.1 0 1 0 -2.2 0M417.8 142.27a1.1 1.1 0 1 0 2.2 0a1.1 1.1 0 1 0 -2.2 0M418.35 142.25a1.1 1.1 0 1 0 2.2 0a1.1 1.1 0 1 0 -2.2 0M418.9 141.83a1.1 1.1 0 1 0 2.2 0a1.1 1.1 0 1 0 -2.2 0M419.45 142.68a1.1 1.1 0 1 0 2.2 0a1.1 1.1 0 1 0 -2.2 0M420 142.29a1.1 1.1 0 1 0 2.2 0a1.1 1.1 0 1 0 -2.2 0M420.55 143.24a1.1 1.1 0 1 0 2.2 0a1.1 1.1 0 1 0 -2.2 0M421.1 142.33a1.1 1.1 0 1 0 2.2 0a1.1 1.1 0 1 0 -2.2 0M421.65 143a1.1 1.1 0 1 0 2.2 0a1.1 1.1 0 1 0 -2.2 0M422.2 143.21a1.1 1.1 0 1 0 2.2 0a1.1 1.1 0 1 0 -2.2 0M422.75 142.78a1.1 1.1 0 1 0 2.2 0a1.1 1.1 0 1 0 -2.2 0M423.3 144.31a1.1 1.1 0 1 0 2.2 0a1.1 1.1 0 1 0 -2.2 0M423.85 144.36a1.1 1.1 0 1 0 2.2 0a1.1 1.1 0 1 0 -2.2 0M424.4 143.65a1.1 1.1 0 1 0 2.2 0a1.1 1.1 0 1 0 -2.2 0M424.95 144.37a1.1 1.1 0 1 0 2.2 0a1.1 1.1 0 1 0 -2.2 0M425.5 144.35a1.1 1.1 0 1 0 2.2 0a1.1 1.1 0 1 0 -2.2 0M426.05 143.17a1.1 1.1 0 1 0 2.2 0a1.1 1.1 0 1 0 -2.2 0M426.6 144.62a1.1 1.1 0 1 0 2.2 0a1.1 1.1 0 1 0 -2.2 0M427.15 144.64a1.1 1.1 0 1 0 2.2 0a1.1 1.1 0 1 0 -2.2 0M427.7 144.87a1.1 1.1 0 1 0 2.2 0a1.1 1.1 0 1 0 -2.2 0M428.25 144.51a1.1 1.1 0 1 0 2.2 0a1.1 1.1 0 1 0 -2.2 0M428.8 145.04a1.1 1.1 0 1 0 2.2 0a1.1 1.1 0 1 0 -2.2 0M429.35 145.24a1.1 1.1 0 1 0 2.2 0a1.1 1.1 0 1 0 -2.2 0M429.9 146.03a1.1 1.1 0 1 0 2.2 0a1.1 1.1 0 1 0 -2.2 0M430.45 145.81a1.1 1.1 0 1 0 2.2 0a1.1 1.1 0 1 0 -2.2 0M431 145.82a1.1 1.1 0 1 0 2.2 0a1.1 1.1 0 1 0 -2.2 0M431.55 146.68a1.1 1.1 0 1 0 2.2 0a1.1 1.1 0 1 0 -2.2 0" fill="#7a20dc"/>
<path d="M274.8 169.35 275.35 169.38 275.9 168.7 276.45 170.18 277 169.87 277.55 169.8 278.1 169.65 278.65 169.35 279.2 169.36 279.75 169.11 280.3 169.09 280.85 169.16 281.4 169.77 281.95 169.3 282.5 168.98 283.05 168.71 283.6 168.64 284.15 169.6 284.7 169.06 285.25 168.81 285.8 168.57 286.35 168.17 286.9 168.58 287.45 168.94 288 168.31 288.55 168.31 289.1 168.24 289.65 168.31 290.2 167.45 290.75 167.95 291.3 167.56 291.85 168.21 292.4 167.31 292.95 167.76 293.5 168.02 294.05 167 294.6 166.68 295.15 166.83 295.7 166.52 296.25 165.83 296.8 166.21 297.35 166.6 297.9 165.23 298.45 164.86 299 164.03 299.55 164.07 300.1 162.61 300.65 161.72 301.2 161.6 301.75 158.9 302.3 157.48 302.85 154.42 303.4 149.06 303.95 143.7 304.5 136.53 305.05 123.77 305.6 109.73 306.15 96.49 306.7 76.52 307.25 46.07 307.8 31.55 308.35 26.19 308.9 26.84 309.45 31.19 310 38.13 310.55 48.12 311.1 57.49 311.65 62.55 312.2 66.25 312.75 69.65 313.3 78.69 313.85 89.65 314.4 96.29 314.95 103.12 315.5 108.27 316.05 113.32 316.6 116.96 317.15 121.53 317.7 122.97 318.25 124.85 318.8 127.19 319.35 128.2 319.9 128.77 320.45 128.94 321 130.34 321.55 130.92 322.1 132.18 322.65 133.53 323.2 133.22 323.75 133.37 324.3 133.81 324.85 134.91 325.4 135.44 325.95 135.57 326.5 136.7 327.05 136.68 327.6 138.23 328.15 138.72 328.7 139.22 329.25 139 329.8 139.91 330.35 140.05 330.9 140.37 331.45 140.8 332 140.78 332.55 141.13 333.1 142.55 333.65 142.53 334.2 143.15 334.75 143.94 335.3 143.15 335.85 144.02 336.4 144.89 336.95 145.43 337.5 145.51 338.05 146.57 338.6 146.61 339.15 146.37 339.7 146.88 340.25 148.03 340.8 148.24 341.35 147.54 341.9 149.37 342.45 149.39 343 150.08 343.55 149.66 344.1 150.05 344.65 150.01 345.2 151.99 345.75 151.09 346.3 152.2 346.85 151.49 347.4 152.14 347.95 151.59 348.5 152.42 349.05 153.27 349.6 152.49 350.15 153.74 350.7 153.6 351.25 153.16 351.8 153.59 352.35 153.78 352.9 154.13 353.45 154.07 354 154.1 354.55 154.49 355.1 154.3 355.65 154.33 356.2 155.02 356.75 155.56 357.3 154.6 357.85 155.4 358.4 155.22 358.95 155.18 359.5 156.1 360.05 155.58 360.6 156.57 361.15 155.63 361.7 156.24 362.25 156.05 362.8 155.89 363.35 156.58 363.9 156.32 364.45 156.73 365 156.51 365.55 156.11 366.1 156.61 366.65 156.74 367.2 157.21 367.75 156.42 368.3 156.86 368.85 156.15 369.4 157.25 369.95 156.51 370.5 156.22 371.05 157.04 371.6 157.59 372.15 156.44 372.7 156.67 373.25 156.86 373.8 156.71 374.35 157.42 374.9 156.91 375.45 156.98 376 157.59 376.55 157 377.1 157.56 377.65 156.94 378.2 156.84 378.75 156.57 379.3 158.24 379.85 157.26 380.4 157.5 380.95 157.36 381.5 157.43 382.05 157.34 382.6 158.14 383.15 156.77 383.7 156.48 384.25 156.67 384.8 156.46 385.35 157.33 385.9 157.29 386.45 156.41 387 156.13 387.55 156.51 388.1 157.21 388.65 155.2 389.2 156.55 389.75 155.65 390.3 156.38 390.85 155.19 391.4 155.25 391.95 154.32 392.5 154.07 393.05 154.57 393.6 153.57 394.15 152.07 394.7 150.76 395.25 149.07 395.8 148.28 396.35 146.73 396.9 144.76 397.45 142.37 398 139.11 398.55 136.71 399.1 133.74 399.65 131.32 400.2 128.9 400.75 125.53 401.3 123.36 401.85 122.16 402.4 121.58 402.95 122.11 403.5 123.4 404.05 124.85 404.6 127.61 405.15 129.25 405.7 131.27 406.25 132.54 406.8 133.54 407.35 134.53 407.9 135.75 408.45 136.36 409 137.38 409.55 137.88 410.1 137.81 410.65 138.94 411.2 138.75 411.75 139.47 412.3 139.96 412.85 139.47 413.4 140.73 413.95 141.04 414.5 141.17 415.05 141.34 415.6 141.64 416.15 141.65 416.7 142.25 417.25 142.4 417.8 142.96 418.35 142.64 418.9 143.56 419.45 143.79 420 143.94 420.55 144.08 421.1 144.8 421.65 144.09 422.2 145.32 422.75 145.51 423.3 145.8 423.85 146.12 424.4 145.92 424.95 146.36 425.5 147.02 426.05 147.18 426.6 147.34 427.15 146.81 427.7 147.98 428.25 148.51 428.8 148.69 429.35 148.58 429.9 148.01 430.45 149.37 431 149.11 431.55 148.27 432.1 149.81 432.65 149.19" stroke="#18a3a3" stroke-width="0.8" fill="none"/>
<path d="M273.7 169.35a1.1 1.1 0 1 0 2.2 0a1.1 1.1 0 1 0 -2.2 0M274.25 169.38a1.1 1.1 0 1 0 2.2 0a1.1 1.1 0 1 0 -2.2 0M274.8 168.7a1.1 1.1 0 1 0 2.2 0a1.1 1.1 0 1 0 -2.2 0M275.35 170.18a1.1 1.1 0 1 0 2.2 0a1.1 1.1 0 1 0 -2.2 0M275.9 169.87a1.1 1.1 0 1 0 2.2 0a1.1 1.1 0 1 0 -2.2 0M276.45 169.8a1.1 1.1 0 1 0 2.2 0a1.1 1.1 0 1 0 -2.2 0M277 169.65a1.1 1.1 0 1 0 2.2 0a1.1 1.1 0 1 0 -2.2 0M277.55 169.35a1.1 1.1 0 1 0 2.2 0a1.1 1.1 0 1 0 -2.2 0M278.1 169.36a1.1 1.1 0 1 0 2.2 0a1.1 1.1 0 1 0 -2.2 0M278.65 169.11a1.1 1.1 0 1 0 2.2 0a1.1 1.1 0 1 0 -2.2 0M279.2 169.09a1.1 1.1 0 1 0 2.2 0a1.1 1.1 0 1 0 -2.2 0M279.75 169.16a1.1 1.1 0 1 0 2.2 0a1.1 1.1 0 1 0 -2.2 0M280.3 169.77a1.1 1.1 0 1 0 2.2 0a1.1 1.1 0 1 0 -2.2 0M280.85 169.3a1.1 1.1 0 1 0 2.2 0a1.1 1.1 0 1 0 -2.2 0M281.4 168.98a1.1 1.1 0 1 0 2.2 0a1.1 1.1 0 1 0 -2.2 0M281.95 168.71a1.1 1.1 0 1 0 2.2 0a1.1 1.1 0 1 0 -2.2 0M282.5 168.64a1.1 1.1 0 1 0 2.2 0a1.1 1.1 0 1 0 -2.2 0M283.05 169.6a1.1 1.1 0 1 0 2.2 0a1.1 1.1 0 1 0 -2.2 0M283.6 169.06a1.1 1.1 0 1 0 2.2 0a1.1 1.1 0 1 0 -2.2 0M284.15 168.81a1.1 1.1 0 1 0 2.2 0a1.1 1.1 0 1 0 -2.2 0M284.7 168.57a1.1 1.1 0 1 0 2.2 0a1.1 1.1 0 1 0 -2.2 0M285.25 168.17a1.1 1.1 0 1 0 2.2 0a1.1 1.1 0 1 0 -2.2 0M285.8 168.58a1.1 1.1 0 1 0 2.2 0a1.1 1.1 0 1 0 -2.2 0M286.35 168.94a1.1 1.1 0 1 0 2.2 0a1.1 1.1 0 1 0 -2.2 0M286.9 168.31a1.1 1.1 0 1 0 2.2 0a1.1 1.1 0 1 0 -2.2 0M287.45 168.31a1.1 1.1 0 1 0 2.2 0a1.1 1.1 0 1 0 -2.2 0M288 168.24a1.1 1.1 0 1 0 2.2 0a1.1 1.1 0 1 0 -2.2 0M288.55 168.31a1.1 1.1 0 1 0 2.2 0a1.1 1.1 0 1 0 -2.2 0M289.1 167.45a1.1 1.1 0 1 0 2.2 0a1.1 1.1 0 1 0 -2.2 0M289.65 167.95a1.1 1.1 0 1 0 2.2 0a1.1 1.1 0 1 0 -2.2 0M290.2 167.56a1.1 1.1 0 1 0 2.2 0a1.1 1.1 0 1 0 -2.2 0M290.75 168.21a1.1 1.1 0 1 0 2.2 0a1.1 1.1 0 1 0 -2.2 0M291.3 167.31a1.1 1.1 0 1 0 2.2 0a1.1 1.1 0 1 0 -2.2 0M291.85 167.76a1.1 1.1 0 1 0 2.2 0a1.1 1.1 0 1 0 -2.2 0M292.4 168.02a1.1 1.1 0 1 0 2.2 0a1.1 1.1 0 1 0 -2.2 0M292.95 167a1.1 1.1 0 1 0 2.2 0a1.1 1.1 0 1 0 -2.2 0M293.5 166.68a1.1 1.1 0 1 0 2.2 0a1.1 1.1 0 1 0 -2.2 0M294.05 166.83a1.1 1.1 0 1 0 2.2 0a1.1 1.1 0 1 0 -2.2 0M294.6 166.52a1.1 1.1 0 1 0 2.2 0a1.1 1.1 0 1 0 -2.2 0M295.15 165.83a1.1 1.1 0 1 0 2.2 0a1.1 1.1 0 1 0 -2.2 0M295.7 166.21a1.1 1.1 0 1 0 2.2 0a1.1 1.1 0 1 0 -2.2 0M296.25 166.6a1.1 1.1 0 1 0 2.2 0a1.1 1.1 0 1 0 -2.2 0M296.8 165.23a1.1 1.1 0 1 0 2.2 0a1.1 1.1 0 1 0 -2.2 0M297.35 164.86a1.1 1.1 0 1 0 2.2 0a1.1 1.1 0 1 0 -2.2 0M297.9 164.03a1.1 1.1 0 1 0 2.2 0a1.1 1.1 0 1 0 -2.2 0M298.45 164.07a1.1 1.1 0 1 0 2.2 0a1.1 1.1 0 1 0 -2.2 0M299 162.61a1.1 1.1 0 1 0 2.2 0a1.1 1.1 0 1 0 -2.2 0M299.55 161.72a1.1 1.1 0 1 0 2.2 0a1.1 1.1 0 1 0 -2.2 0M300.1 161.6a1.1 1.1 0 1 0 2.2 0a1.1 1.1 0 1 0 -2.2 0M300.65 158.9a1.1 1.1 0 1 0 2.2 0a1.1 1.1 0 1 0 -2.2 0M301.2 157.48a1.1 1.1 0 1 0 2.2 0a1.1 1.1 0 1 0 -2.2 0M301.75 154.42a1.1 1.1 0 1 0 2.2 0a1.1 1.1 0 1 0 -2.2 0M302.3 149.06a1.1 1.1 0 1 0 2.2 0a1.1 1.1 0 1 0 -2.2 0M302.85 143.7a1.1 1.1 0 1 0 2.2 0a1.1 1.1 0 1 0 -2.2 0M303.4 136.53a1.1 1.1 0 1 0 2.2 0a1.1 1.1 0 1 0 -2.2 0M303.95 123.77a1.1 1.1 0 1 0 2.2 0a1.1 1.1 0 1 0 -2.2 0M304.5 109.73a1.1 1.1 0 1 0 2.2 0a1.1 1.1 0 1 0 -2.2 0M305.05 96.49a1.1 1.1 0 1 0 2.2 0a1.1 1.1 0 1 0 -2.2 0M305.6 76.52a1.1 1.1 0 1 0 2.2 0a1.1 1.1 0 1 0 -2.2 0M306.15 46.07a1.1 1.1 0 1 0 2.2 0a1.1 1.1 0 1 0 -2.2 0M306.7 31.55a1.1 1.1 0 1 0 2.2 0a1.1 1.1 0 1 0 -2.2 0M307.25 26.19a1.1 1.1 0 1 0 2.2 0a1.1 1.1 0 1 0 -2.2 0M307.8 26.84a1.1 1.1 0 1 0 2.2 0a1.1 1.1 0 1 0 -2.2 0M308.35 31.19a1.1 1.1 0 1 0 2.2 0a1.1 1.1 0 1 0 -2.2 0M308.9 38.13a1.1 1.1 0 1 0 2.2 0a1.1 1.1 0 1 0 -2.2 0M309.45 48.12a1.1 1.1 0 1 0 2.2 0a1.1 1.1 0 1 0 -2.2 0M310 57.49a1.1 1.1 0 1 0 2.2 0a1.1 1.1 0 1 0 -2.2 0M310.55 62.55a1.1 1.1 0 1 0 2.2 0a1.1 1.1 0 1 0 -2.2 0M311.1 66.25a1.1 1.1 0 1 0 2.2 0a1.1 1.1 0 1 0 -2.2 0M311.65 69.65a1.1 1.1 0 1 0 2.2 0a1.1 1.1 0 1 0 -2.2 0M312.2 78.69a1.1 1.1 0 1 0 2.2 0a1.1 1.1 0 1 0 -2.2 0M312.75 89.65a1.1 1.1 0 1 0 2.2 0a1.1 1.1 0 1 0 -2.2 0M313.3 96.29a1.1 1.1 0 1 0 2.2 0a1.1 1.1 0 1 0 -2.2 0M313.85 103.12a1.1 1.1 0 1 0 2.2 0a1.1 1.1 0 1 0 -2.2 0M314.4 108.27a1.1 1.1 0 1 0 2.2 0a1.1 1.1 0 1 0 -2.2 0M314.95 113.32a1.1 1.1 0 1 0 2.2 0a1.1 1.1 0 1 0 -2.2 0M315.5 116.96a1.1 1.1 0 1 0 2.2 0a1.1 1.1 0 1 0 -2.2 0M316.05 121.53a1.1 1.1 0 1 0 2.2 0a1.1 1.1 0 1 0 -2.2 0M316.6 122.97a1.1 1.1 0 1 0 2.2 0a1.1 1.1 0 1 0 -2.2 0M317.15 124.85a1.1 1.1 0 1 0 2.2 0a1.1 1.1 0 1 0 -2.2 0M317.7 127.19a1.1 1.1 0 1 0 2.2 0a1.1 1.1 0 1 0 -2.2 0M318.25 128.2a1.1 1.1 0 1 0 2.2 0a1.1 1.1 0 1 0 -2.2 0M318.8 128.77a1.1 1.1 0 1 0 2.2 0a1.1 1.1 0 1 0 -2.2 0M319.35 128.94a1.1 1.1 0 1 0 2.2 0a1.1 1.1 0 1 0 -2.2 0M319.9 130.34a1.1 1.1 0 1 0 2.2 0a1.1 1.1 0 1 0 -2.2 0M320.45 130.92a1.1 1.1 0 1 0 2.2 0a1.1 1.1 0 1 0 -2.2 0M321 132.18a1.1 1.1 0 1 0 2.2 0a1.1 1.1 0 1 0 -2.2 0M321.55 133.53a1.1 1.1 0 1 0 2.2 0a1.1 1.1 0 1 0 -2.2 0M322.1 133.22a1.1 1.1 0 1 0 2.2 0a1.1 1.1 0 1 0 -2.2 0M322.65 133.37a1.1 1.1 0 1 0 2.2 0a1.1 1.1 0 1 0 -2.2 0M323.2 133.81a1.1 1.1 0 1 0 2.2 0a1.1 1.1 0 1 0 -2.2 0M323.75 134.91a1.1 1.1 0 1 0 2.2 0a1.1 1.1 0 1 0 -2.2 0M324.3 135.44a1.1 1.1 0 1 0 2.2 0a1.1 1.1 0 1 0 -2.2 0M324.85 135.57a1.1 1.1 0 1 0 2.2 0a1.1 1.1 0 1 0 -2.2 0M325.4 136.7a1.1 1.1 0 1 0 2.2 0a1.1 1.1 0 1 0 -2.2 0M325.95 136.68a1.1 1.1 0 1 0 2.2 0a1.1 1.1 0 1 0 -2.2 0M326.5 138.23a1.1 1.1 0 1 0 2.2 0a1.1 1.1 0 1 0 -2.2 0M327.05 138.72a1.1 1.1 0 1 0 2.2 0a1.1 1.1 0 1 0 -2.2 0M327.6 139.22a1.1 1.1 0 1 0 2.2 0a1.1 1.1 0 1 0 -2.2 0M328.15 139a1.1 1.1 0 1 0 2.2 0a1.1 1.1 0 1 0 -2.2 0M328.7 139.91a1.1 1.1 0 1 0 2.2 0a1.1 1.1 0 1 0 -2.2 0M329.25 140.05a1.1 1.1 0 1 0 2.2 0a1.1 1.1 0 1 0 -2.2 0M329.8 140.37a1.1 1.1 0 1 0 2.2 0a1.1 1.1 0 1 0 -2.2 0M330.35 140.8a1.1 1.1 0 1 0 2.2 0a1.1 1.1 0 1 0 -2.2 0M330.9 140.78a1.1 1.1 0 1 0 2.2 0a1.1 1.1 0 1 0 -2.2 0M331.45 141.13a1.1 1.1 0 1 0 2.2 0a1.1 1.1 0 1 0 -2.2 0M332 142.55a1.1 1.1 0 1 0 2.2 0a1.1 1.1 0 1 0 -2.2 0M332.55 142.53a1.1 1.1 0 1 0 2.2 0a1.1 1.1 0 1 0 -2.2 0M333.1 143.15a1.1 1.1 0 1 0 2.2 0a1.1 1.1 0 1 0 -2.2 0M333.65 143.94a1.1 1.1 0 1 0 2.2 0a1.1 1.1 0 1 0 -2.2 0M334.2 143.15a1.1 1.1 0 1 0 2.2 0a1.1 1.1 0 1 0 -2.2 0M334.75 144.02a1.1 1.1 0 1 0 2.2 0a1.1 1.1 0 1 0 -2.2 0M335.3 144.89a1.1 1.1 0 1 0 2.2 0a1.1 1.1 0 1 0 -2.2 0M335.85 145.43a1.1 1.1 0 1 0 2.2 0a1.1 1.1 0 1 0 -2.2 0M336.4 145.51a1.1 1.1 0 1 0 2.2 0a1.1 1.1 0 1 0 -2.2 0M336.95 146.57a1.1 1.1 0 1 0 2.2 0a1.1 1.1 0 1 0 -2.2 0M337.5 146.61a1.1 1.1 0 1 0 2.2 0a1.1 1.1 0 1 0 -2.2 0M338.05 146.37a1.1 1.1 0 1 0 2.2 0a1.1 1.1 0 1 0 -2.2 0M338.6 146.88a1.1 1.1 0 1 0 2.2 0a1.1 1.1 0 1 0 -2.2 0M339.15 148.03a1.1 1.1 0 1 0 2.2 0a1.1 1.1 0 1 0 -2.2 0M339.7 148.24a1.1 1.1 0 1 0 2.2 0a1.1 1.1 0 1 0 -2.2 0M340.25 147.54a1.1 1.1 0 1 0 2.2 0a1.1 1.1 0 1 0 -2.2 0M340.8 149.37a1.1 1.1 0 1 0 2.2 0a1.1 1.1 0 1 0 -2.2 0M341.35 149.39a1.1 1.1 0 1 0 2.2 0a1.1 1.1 0 1 0 -2.2 0M341.9 150.08a1.1 1.1 0 1 0 2.2 0a1.1 1.1 0 1 0 -2.2 0M342.45 149.66a1.1 1.1 0 1 0 2.2 0a1.1 1.1 0 1 0 -2.2 0M343 150.05a1.1 1.1 0 1 0 2.2 0a1.1 1.1 0 1 0 -2.2 0M343.55 150.01a1.1 1.1 0 1 0 2.2 0a1.1 1.1 0 1 0 -2.2 0M344.1 151.99a1.1 1.1 0 1 0 2.2 0a1.1 1.1 0 1 0 -2.2 0M344.65 151.09a1.1 1.1 0 1 0 2.2 0a1.1 1.1 0 1 0 -2.2 0M345.2 152.2a1.1 1.1 0 1 0 2.2 0a1.1 1.1 0 1 0 -2.2 0M345.75 151.49a1.1 1.1 0 1 0 2.2 0a1.1 1.1 0 1 0 -2.2 0M346.3 152.14a1.1 1.1 0 1 0 2.2 0a1.1 1.1 0 1 0 -2.2 0M346.85 151.59a1.1 1.1 0 1 0 2.2 0a1.1 1.1 0 1 0 -2.2 0M347.4 152.42a1.1 1.1 0 1 0 2.2 0a1.1 1.1 0 1 0 -2.2 0M347.95 153.27a1.1 1.1 0 1 0 2.2 0a1.1 1.1 0 1 0 -2.2 0M348.5 152.49a1.1 1.1 0 1 0 2.2 0a1.1 1.1 0 1 0 -2.2 0M349.05 153.74a1.1 1.1 0 1 0 2.2 0a1.1 1.1 0 1 0 -2.2 0M349.6 153.6a1.1 1.1 0 1 0 2.2 0a1.1 1.1 0 1 0 -2.2 0M350.15 153.16a1.1 1.1 0 1 0 2.2 0a1.1 1.1 0 1 0 -2.2 0M350.7 153.59a1.1 1.1 0 1 0 2.2 0a1.1 1.1 0 1 0 -2.2 0M351.25 153.78a1.1 1.1 0 1 0 2.2 0a1.1 1.1 0 1 0 -2.2 0M351.8 154.13a1.1 1.1 0 1 0 2.2 0a1.1 1.1 0 1 0 -2.2 0M352.35 154.07a1.1 1.1 0 1 0 2.2 0a1.1 1.1 0 1 0 -2.2 0M352.9 154.1a1.1 1.1 0 1 0 2.2 0a1.1 1.1 0 1 0 -2.2 0M353.45 154.49a1.1 1.1 0 1 0 2.2 0a1.1 1.1 0 1 0 -2.2 0M354 154.3a1.1 1.1 0 1 0 2.2 0a1.1 1.1 0 1 0 -2.2 0M354.55 154.33a1.1 1.1 0 1 0 2.2 0a1.1 1.1 0 1 0 -2.2 0M355.1 155.02a1.1 1.1 0 1 0 2.2 0a1.1 1.1 0 1 0 -2.2 0M355.65 155.56a1.1 1.1 0 1 0 2.2 0a1.1 1.1 0 1 0 -2.2 0M356.2 154.6a1.1 1.1 0 1 0 2.2 0a1.1 1.1 0 1 0 -2.2 0M356.75 155.4a1.1 1.1 0 1 0 2.2 0a1.1 1.1 0 1 0 -2.2 0M357.3 155.22a1.1 1.1 0 1 0 2.2 0a1.1 1.1 0 1 0 -2.2 0M357.85 155.18a1.1 1.1 0 1 0 2.2 0a1.1 1.1 0 1 0 -2.2 0M358.4 156.1a1.1 1.1 0 1 0 2.2 0a1.1 1.1 0 1 0 -2.2 0M358.95 155.58a1.1 1.1 0 1 0 2.2 0a1.1 1.1 0 1 0 -2.2 0M359.5 156.57a1.1 1.1 0 1 0 2.2 0a1.1 1.1 0 1 0 -2.2 0M360.05 155.63a1.1 1.1 0 1 0 2.2 0a1.1 1.1 0 1 0 -2.2 0M360.6 156.24a1.1 1.1 0 1 0 2.2 0a1.1 1.1 0 1 0 -2.2 0M361.15 156.05a1.1 1.1 0 1 0 2.2 0a1.1 1.1 0 1 0 -2.2 0M361.7 155.89a1.1 1.1 0 1 0 2.2 0a1.1 1.1 0 1 0 -2.2 0M362.25 156.58a1.1 1.1 0 1 0 2.2 0a1.1 1.1 0 1 0 -2.2 0M362.8 156.32a1.1 1.1 0 1 0 2.2 0a1.1 1.1 0 1 0 -2.2 0M363.35 156.73a1.1 1.1 0 1 0 2.2 0a1.1 1.1 0 1 0 -2.2 0M363.9 156.51a1.1 1.1 0 1 0 2.2 0a1.1 1.1 0 1 0 -2.2 0M364.45 156.11a1.1 1.1 0 1 0 2.2 0a1.1 1.1 0 1 0 -2.2 0M365 156.61a1.1 1.1 0 1 0 2.2 0a1.1 1.1 0 1 0 -2.2 0M365.55 156.74a1.1 1.1 0 1 0 2.2 0a1.1 1.1 0 1 0 -2.2 0M366.1 157.21a1.1 1.1 0 1 0 2.2 0a1.1 1.1 0 1 0 -2.2 0M366.65 156.42a1.1 1.1 0 1 0 2.2 0a1.1 1.1 0 1 0 -2.2 0M367.2 156.86a1.1 1.1 0 1 0 2.2 0a1.1 1.1 0 1 0 -2.2 0M367.75 156.15a1.1 1.1 0 1 0 2.2 0a1.1 1.1 0 1 0 -2.2 0M368.3 157.25a1.1 1.1 0 1 0 2.2 0a1.1 1.1 0 1 0 -2.2 0M368.85 156.51a1.1 1.1 0 1 0 2.2 0a1.1 1.1 0 1 0 -2.2 0M369.4 156.22a1.1 1.1 0 1 0 2.2 0a1.1 1.1 0 1 0 -2.2 0M369.95 157.04a1.1 1.1 0 1 0 2.2 0a1.1 1.1 0 1 0 -2.2 0M370.5 157.59a1.1 1.1 0 1 0 2.2 0a1.1 1.1 0 1 0 -2.2 0M371.05 156.44a1.1 1.1 0 1 0 2.2 0a1.1 1.1 0 1 0 -2.2 0M371.6 156.67a1.1 1.1 0 1 0 2.2 0a1.1 1.1 0 1 0 -2.2 0M372.15 156.86a1.1 1.1 0 1 0 2.2 0a1.1 1.1 0 1 0 -2.2 0M372.7 156.71a1.1 1.1 0 1 0 2.2 0a1.1 1.1 0 1 0 -2.2 0M373.25 157.42a1.1 1.1 0 1 0 2.2 0a1.1 1.1 0 1 0 -2.2 0M373.8 156.91a1.1 1.1 0 1 0 2.2 0a1.1 1.1 0 1 0 -2.2 0M374.35 156.98a1.1 1.1 0 1 0 2.2 0a1.1 1.1 0 1 0 -2.2 0M374.9 157.59a1.1 1.1 0 1 0 2.2 0a1.1 1.1 0 1 0 -2.2 0M375.45 157a1.1 1.1 0 1 0 2.2 0a1.1 1.1 0 1 0 -2.2 0M376 157.56a1.1 1.1 0 1 0 2.2 0a1.1 1.1 0 1 0 -2.2 0M376.55 156.94a1.1 1.1 0 1 0 2.2 0a1.1 1.1 0 1 0 -2.2 0M377.1 156.84a1.1 1.1 0 1 0 2.2 0a1.1 1.1 0 1 0 -2.2 0M377.65 156.57a1.1 1.1 0 1 0 2.2 0a1.1 1.1 0 1 0 -2.2 0M378.2 158.24a1.1 1.1 0 1 0 2.2 0a1.1 1.1 0 1 0 -2.2 0M378.75 157.26a1.1 1.1 0 1 0 2.2 0a1.1 1.1 0 1 0 -2.2 0M379.3 157.5a1.1 1.1 0 1 0 2.2 0a1.1 1.1 0 1 0 -2.2 0M379.85 157.36a1.1 1.1 0 1 0 2.2 0a1.1 1.1 0 1 0 -2.2 0M380.4 157.43a1.1 1.1 0 1 0 2.2 0a1.1 1.1 0 1 0 -2.2 0M380.95 157.34a1.1 1.1 0 1 0 2.2 0a1.1 1.1 0 1 0 -2.2 0M381.5 158.14a1.1 1.1 0 1 0 2.2 0a1.1 1.1 0 1 0 -2.2 0M382.05 156.77a1.1 1.1 0 1 0 2.2 0a1.1 1.1 0 1 0 -2.2 0M382.6 156.48a1.1 1.1 0 1 0 2.2 0a1.1 1.1 0 1 0 -2.2 0M383.15 156.67a1.1 1.1 0 1 0 2.2 0a1.1 1.1 0 1 0 -2.2 0M383.7 156.46a1.1 1.1 0 1 0 2.2 0a1.1 1.1 0 1 0 -2.2 0M384.25 157.33a1.1 1.1 0 1 0 2.2 0a1.1 1.1 0 1 0 -2.2 0M384.8 157.29a1.1 1.1 0 1 0 2.2 0a1.1 1.1 0 1 0 -2.2 0M385.35 156.41a1.1 1.1 0 1 0 2.2 0a1.1 1.1 0 1 0 -2.2 0M385.9 156.13a1.1 1.1 0 1 0 2.2 0a1.1 1.1 0 1 0 -2.2 0M386.45 156.51a1.1 1.1 0 1 0 2.2 0a1.1 1.1 0 1 0 -2.2 0M387 157.21a1.1 1.1 0 1 0 2.2 0a1.1 1.1 0 1 0 -2.2 0M387.55 155.2a1.1 1.1 0 1 0 2.2 0a1.1 1.1 0 1 0 -2.2 0M388.1 156.55a1.1 1.1 0 1 0 2.2 0a1.1 1.1 0 1 0 -2.2 0M388.65 155.65a1.1 1.1 0 1 0 2.2 0a1.1 1.1 0 1 0 -2.2 0M389.2 156.38a1.1 1.1 0 1 0 2.2 0a1.1 1.1 0 1 0 -2.2 0M389.75 155.19a1.1 1.1 0 1 0 2.2 0a1.1 1.1 0 1 0 -2.2 0M390.3 155.25a1.1 1.1 0 1 0 2.2 0a1.1 1.1 0 1 0 -2.2 0M390.85 154.32a1.1 1.1 0 1 0 2.2 0a1.1 1.1 0 1 0 -2.2 0M391.4 154.07a1.1 1.1 0 1 0 2.2 0a1.1 1.1 0 1 0 -2.2 0M391.95 154.57a1.1 1.1 0 1 0 2.2 0a1.1 1.1 0 1 0 -2.2 0M392.5 153.57a1.1 1.1 0 1 0 2.2 0a1.1 1.1 0 1 0 -2.2 0M393.05 152.07a1.1 1.1 0 1 0 2.2 0a1.1 1.1 0 1 0 -2.2 0M393.6 150.76a1.1 1.1 0 1 0 2.2 0a1.1 1.1 0 1 0 -2.2 0M394.15 149.07a1.1 1.1 0 1 0 2.2 0a1.1 1.1 0 1 0 -2.2 0M394.7 148.28a1.1 1.1 0 1 0 2.2 0a1.1 1.1 0 1 0 -2.2 0M395.25 146.73a1.1 1.1 0 1 0 2.2 0a1.1 1.1 0 1 0 -2.2 0M395.8 144.76a1.1 1.1 0 1 0 2.2 0a1.1 1.1 0 1 0 -2.2 0M396.35 142.37a1.1 1.1 0 1 0 2.2 0a1.1 1.1 0 1 0 -2.2 0M396.9 139.11a1.1 1.1 0 1 0 2.2 0a1.1 1.1 0 1 0 -2.2 0M397.45 136.71a1.1 1.1 0 1 0 2.2 0a1.1 1.1 0 1 0 -2.2 0M398 133.74a1.1 1.1 0 1 0 2.2 0a1.1 1.1 0 1 0 -2.2 0M398.55 131.32a1.1 1.1 0 1 0 2.2 0a1.1 1.1 0 1 0 -2.2 0M399.1 128.9a1.1 1.1 0 1 0 2.2 0a1.1 1.1 0 1 0 -2.2 0M399.65 125.53a1.1 1.1 0 1 0 2.2 0a1.1 1.1 0 1 0 -2.2 0M400.2 123.36a1.1 1.1 0 1 0 2.2 0a1.1 1.1 0 1 0 -2.2 0M400.75 122.16a1.1 1.1 0 1 0 2.2 0a1.1 1.1 0 1 0 -2.2 0M401.3 121.58a1.1 1.1 0 1 0 2.2 0a1.1 1.1 0 1 0 -2.2 0M401.85 122.11a1.1 1.1 0 1 0 2.2 0a1.1 1.1 0 1 0 -2.2 0M402.4 123.4a1.1 1.1 0 1 0 2.2 0a1.1 1.1 0 1 0 -2.2 0M402.95 124.85a1.1 1.1 0 1 0 2.2 0a1.1 1.1 0 1 0 -2.2 0M403.5 127.61a1.1 1.1 0 1 0 2.2 0a1.1 1.1 0 1 0 -2.2 0M404.05 129.25a1.1 1.1 0 1 0 2.2 0a1.1 1.1 0 1 0 -2.2 0M404.6 131.27a1.1 1.1 0 1 0 2.2 0a1.1 1.1 0 1 0 -2.2 0M405.15 132.54a1.1 1.1 0 1 0 2.2 0a1.1 1.1 0 1 0 -2.2 0M405.7 133.54a1.1 1.1 0 1 0 2.2 0a1.1 1.1 0 1 0 -2.2 0M406.25 134.53a1.1 1.1 0 1 0 2.2 0a1.1 1.1 0 1 0 -2.2 0M406.8 135.75a1.1 1.1 0 1 0 2.2 0a1.1 1.1 0 1 0 -2.2 0M407.35 136.36a1.1 1.1 0 1 0 2.2 0a1.1 1.1 0 1 0 -2.2 0M407.9 137.38a1.1 1.1 0 1 0 2.2 0a1.1 1.1 0 1 0 -2.2 0M408.45 137.88a1.1 1.1 0 1 0 2.2 0a1.1 1.1 0 1 0 -2.2 0M409 137.81a1.1 1.1 0 1 0 2.2 0a1.1 1.1 0 1 0 -2.2 0M409.55 138.94a1.1 1.1 0 1 0 2.2 0a1.1 1.1 0 1 0 -2.2 0M410.1 138.75a1.1 1.1 0 1 0 2.2 0a1.1 1.1 0 1 0 -2.2 0M410.65 139.47a1.1 1.1 0 1 0 2.2 0a1.1 1.1 0 1 0 -2.2 0M411.2 139.96a1.1 1.1 0 1 0 2.2 0a1.1 1.1 0 1 0 -2.2 0M411.75 139.47a1.1 1.1 0 1 0 2.2 0a1.1 1.1 0 1 0 -2.2 0M412.3 140.73a1.1 1.1 0 1 0 2.2 0a1.1 1.1 0 1 0 -2.2 0M412.85 141.04a1.1 1.1 0 1 0 2.2 0a1.1 1.1 0 1 0 -2.2 0M413.4 141.17a1.1 1.1 0 1 0 2.2 0a1.1 1.1 0 1 0 -2.2 0M413.95 141.34a1.1 1.1 0 1 0 2.2 0a1.1 1.1 0 1 0 -2.2 0M414.5 141.64a1.1 1.1 0 1 0 2.2 0a1.1 1.1 0 1 0 -2.2 0M415.05 141.65a1.1 1.1 0 1 0 2.2 0a1.1 1.1 0 1 0 -2.2 0M415.6 142.25a1.1 1.1 0 1 0 2.2 0a1.1 1.1 0 1 0 -2.2 0M416.15 142.4a1.1 1.1 0 1 0 2.2 0a1.1 1.1 0 1 0 -2.2 0M416.7 142.96a1.1 1.1 0 1 0 2.2 0a1.1 1.1 0 1 0 -2.2 0M417.25 142.64a1.1 1.1 0 1 0 2.2 0a1.1 1.1 0 1 0 -2.2 0M417.8 143.56a1.1 1.1 0 1 0 2.2 0a1.1 1.1 0 1 0 -2.2 0M418.35 143.79a1.1 1.1 0 1 0 2.2 0a1.1 1.1 0 1 0 -2.2 0M418.9 143.94a1.1 1.1 0 1 0 2.2 0a1.1 1.1 0 1 0 -2.2 0M419.45 144.08a1.1 1.1 0 1 0 2.2 0a1.1 1.1 0 1 0 -2.2 0M420 144.8a1.1 1.1 0 1 0 2.2 0a1.1 1.1 0 1 0 -2.2 0M420.55 144.09a1.1 1.1 0 1 0 2.2 0a1.1 1.1 0 1 0 -2.2 0M421.1 145.32a1.1 1.1 0 1 0 2.2 0a1.1 1.1 0 1 0 -2.2 0M421.65 145.51a1.1 1.1 0 1 0 2.2 0a1.1 1.1 0 1 0 -2.2 0M422.2 145.8a1.1 1.1 0 1 0 2.2 0a1.1 1.1 0 1 0 -2.2 0M422.75 146.12a1.1 1.1 0 1 0 2.2 0a1.1 1.1 0 1 0 -2.2 0M423.3 145.92a1.1 1.1 0 1 0 2.2 0a1.1 1.1 0 1 0 -2.2 0M423.85 146.36a1.1 1.1 0 1 0 2.2 0a1.1 1.1 0 1 0 -2.2 0M424.4 147.02a1.1 1.1 0 1 0 2.2 0a1.1 1.1 0 1 0 -2.2 0M424.95 147.18a1.1 1.1 0 1 0 2.2 0a1.1 1.1 0 1 0 -2.2 0M425.5 147.34a1.1 1.1 0 1 0 2.2 0a1.1 1.1 0 1 0 -2.2 0M426.05 146.81a1.1 1.1 0 1 0 2.2 0a1.1 1.1 0 1 0 -2.2 0M426.6 147.98a1.1 1.1 0 1 0 2.2 0a1.1 1.1 0 1 0 -2.2 0M427.15 148.51a1.1 1.1 0 1 0 2.2 0a1.1 1.1 0 1 0 -2.2 0M427.7 148.69a1.1 1.1 0 1 0 2.2 0a1.1 1.1 0 1 0 -2.2 0M428.25 148.58a1.1 1.1 0 1 0 2.2 0a1.1 1.1 0 1 0 -2.2 0M428.8 148.01a1.1 1.1 0 1 0 2.2 0a1.1 1.1 0 1 0 -2.2 0M429.35 149.37a1.1 1.1 0 1 0 2.2 0a1.1 1.1 0 1 0 -2.2 0M429.9 149.11a1.1 1.1 0 1 0 2.2 0a1.1 1.1 0 1 0 -2.2 0M430.45 148.27a1.1 1.1 0 1 0 2.2 0a1.1 1.1 0 1 0 -2.2 0M431 149.81a1.1 1.1 0 1 0 2.2 0a1.1 1.1 0 1 0 -2.2 0M431.55 149.19a1.1 1.1 0 1 0 2.2 0a1.1 1.1 0 1 0 -2.2 0" fill="#18a3a3"/>
<path d="M233.8 348.01 234.35 348.13 234.9 348.62 235.45 348.05 236 348.17 236.55 348.53 237.1 348.42 237.65 347.84 238.2 347.73 238.75 347.36 239.3 347.47 239.85 347.74 240.4 347.68 240.95 347.54 241.5 347.75 242.05 347.17 242.6 347.34 243.15 347.53 243.7 347.44 244.25 347.54 244.8 347.3 245.35 347.04 245.9 347.2 246.45 346.74 247 346.51 247.55 347.13 248.1 346.9 248.65 346.96 249.2 346.32 249.75 346.68 250.3 346.57 250.85 346.45 251.4 345.99 251.95 346.53 252.5 346.86 253.05 346.66 253.6 346.32 254.15 346.45 254.7 346.64 255.25 345.53 255.8 346.27 256.35 346.41 256.9 346.39 257.45 346.63 258 346.39 258.55 346.07 259.1 345.98 259.65 346.04 260.2 345.56 260.75 345.61 261.3 345.8 261.85 346.01 262.4 345.27 262.95 345.2 263.5 345.16 264.05 345.4 264.6 344.87 265.15 345.21 265.7 344.37 266.25 344.49 266.8 344.37 267.35 344.54 267.9 344.5 268.45 343.61 269 343.66 269.55 343.9 270.1 343.46 270.65 343.05 271.2 343.66 271.75 343.33 272.3 343.16 272.85 342.69 273.4 342.94 273.95 342.36 274.5 342.53 275.05 341.69 275.6 341.44 276.15 341.47 276.7 340.88 277.25 340.96 277.8 340.47 278.35 339.72 278.9 339.6 279.45 339 280 338.79 280.55 337.66 281.1 336.99 281.65 336.7 282.2 336.19 282.75 335.28 283.3 333.86 283.85 333.04 284.4 332.52 284.95 331.06 285.5 329.78 286.05 329 286.6 327.91 287.15 326.19 287.7 324.46 288.25 322.93 288.8 321.89 289.35 319.74 289.9 318.19 290.45 316.51 291 314.69 291.55 312.46 292.1 310.94 292.65 308.92 293.2 307.66 293.75 306.73 294.3 306.98 294.85 306.7 295.4 306.94 295.95 307.68 296.5 308.68 297.05 310.19 297.6 310.74 298.15 312.15 298.7 313.66 299.25 315.89 299.8 316.79 300.35 317.86 300.9 319.58 301.45 321.47 302 322.22 302.55 323.51 303.1 325.45 303.65 326.46 304.2 326.77 304.75 326.08 305.3 326.01 305.85 324.12 306.4 322.13 306.95 320.68 307.5 318.89 308.05 319.24 308.6 318.75 309.15 319.22 309.7 320.15 310.25 320.94 310.8 322.21 311.35 324.66 311.9 325.96 312.45 327.72 313 329.13 313.55 330.42 314.1 330.87 314.65 332.83 315.2 333.3 315.75 334.24 316.3 335.11 316.85 335.08 317.4 335.01 317.95 335.7 318.5 335.96 319.05 336.5 319.6 336.99 320.15 336.65 320.7 337.61 321.25 337.3 321.8 338.06 322.35 338.15 322.9 338.27 323.45 338.52 324 338.55 324.55 338.68 325.1 338.51 325.65 339.15 326.2 339.85 326.75 340.02 327.3 339.94 327.85 339.88 328.4 339.58 328.95 340.33 329.5 339.99 330.05 340.1 330.6 340.14 331.15 340.36 331.7 340.31 332.25 340.52 332.8 340.33 333.35 340.66 333.9 341.56 334.45 340.97 335 341.02 335.55 341.35 336.1 341.51 336.65 341.06 337.2 341.43 337.75 341.87 338.3 341.77 338.85 341.83 339.4 342.36 339.95 341.79 340.5 342.12 341.05 342.04 341.6 342.75 342.15 341.82 342.7 342.32 343.25 342.47 343.8 342.93 344.35 343.02 344.9 343.37 345.45 342.58 346 343.38 346.55 343.17 347.1 343.16 347.65 343.61 348.2 343.26 348.75 343 349.3 343.59 349.85 343.33 350.4 343.66 350.95 344.03 351.5 344.08 352.05 344.53 352.6 344.06 353.15 343.73 353.7 344.03 354.25 344.04 354.8 344.01 355.35 344.56 355.9 344.29 356.45 343.95 357 344.8 357.55 344.6 358.1 344.79 358.65 344.75 359.2 344.94 359.75 344.8 360.3 345.19 360.85 344.97 361.4 344.99 361.95 345.02 362.5 344.49 363.05 344.9 363.6 344.9 364.15 345.07 364.7 344.62 365.25 345.55 365.8 345.11 366.35 344.74 366.9 344.61 367.45 345.06 368 345.14 368.55 344.97 369.1 345.23 369.65 345.03 370.2 345.4 370.75 345.03 371.3 345.25 371.85 345.56 372.4 346.05 372.95 344.98 373.5 345.15 374.05 345.05 374.6 345.53 375.15 344.96 375.7 345.15 376.25 345.29 376.8 345.01 377.35 345.01 377.9 345.16 378.45 344.67 379 344.87 379.55 345.18 380.1 345.34 380.65 345.24 381.2 344.77 381.75 345.16 382.3 345.54 382.85 345.47 383.4 345.28 383.95 345.03 384.5 345.49 385.05 345.13 385.6 344.95 386.15 345.06 386.7 345.73 387.25 345.37 387.8 345.65 388.35 345.16 388.9 345.58 389.45 345.12 390 345.25 390.55 346.04 391.1 345.5 391.65 345.08 392.2 345.16 392.75 345.22 393.3 345.42 393.85 344.83 394.4 344.37 394.95 344.72 395.5 344.71 396.05 344.59 396.6 344.77 397.15 344.26 397.7 344.18 398.25 343.35 398.8 343.6 399.35 343.58 399.9 342.8 400.45 342.3 401 341.96 401.55 342.13 402.1 341.02 402.65 341.05 403.2 341.14 403.75 341.26 404.3 341.02 404.85 341.38 405.4 341.36 405.95 341.63 406.5 341.68 407.05 341.51 407.6 341.99 408.15 342.4 408.7 341.98 409.25 342.31 409.8 342.67 410.35 342.22 410.9 342.65 411.45 342.33 412 343.04 412.55 343.44 413.1 343.4 413.65 342.77 414.2 343.09 414.75 342.94 415.3 342.97 415.85 343.44 416.4 342.61 416.95 343.35 417.5 343.05 418.05 343.52 418.6 343.18 419.15 342.95 419.7 343.27 420.25 343.43 420.8 343.26 421.35 343.42 421.9 343.15 422.45 342.69 423 343.63 423.55 343.6 424.1 343.46 424.65 343.47 425.2 343.79 425.75 343.37 426.3 343.32 426.85 343.5 427.4 343.94 427.95 343.19 428.5 343.99 429.05 343.46 429.6 343.34 430.15 344.07 430.7 343.69 431.25 343.35 431.8 343.65 432.35 344.06 432.9 344.15" stroke="#7a20dc" stroke-width="1.0" fill="none"/>
<path d="M232.55 348.01a1.25 1.25 0 1 0 2.5 0a1.25 1.25 0 1 0 -2.5 0M233.1 348.13a1.25 1.25 0 1 0 2.5 0a1.25 1.25 0 1 0 -2.5 0M233.65 348.62a1.25 1.25 0 1 0 2.5 0a1.25 1.25 0 1 0 -2.5 0M234.2 348.05a1.25 1.25 0 1 0 2.5 0a1.25 1.25 0 1 0 -2.5 0M234.75 348.17a1.25 1.25 0 1 0 2.5 0a1.25 1.25 0 1 0 -2.5 0M235.3 348.53a1.25 1.25 0 1 0 2.5 0a1.25 1.25 0 1 0 -2.5 0M235.85 348.42a1.25 1.25 0 1 0 2.5 0a1.25 1.25 0 1 0 -2.5 0M236.4 347.84a1.25 1.25 0 1 0 2.5 0a1.25 1.25 0 1 0 -2.5 0M236.95 347.73a1.25 1.25 0 1 0 2.5 0a1.25 1.25 0 1 0 -2.5 0M237.5 347.36a1.25 1.25 0 1 0 2.5 0a1.25 1.25 0 1 0 -2.5 0M238.05 347.47a1.25 1.25 0 1 0 2.5 0a1.25 1.25 0 1 0 -2.5 0M238.6 347.74a1.25 1.25 0 1 0 2.5 0a1.25 1.25 0 1 0 -2.5 0M239.15 347.68a1.25 1.25 0 1 0 2.5 0a1.25 1.25 0 1 0 -2.5 0M239.7 347.54a1.25 1.25 0 1 0 2.5 0a1.25 1.25 0 1 0 -2.5 0M240.25 347.75a1.25 1.25 0 1 0 2.5 0a1.25 1.25 0 1 0 -2.5 0M240.8 347.17a1.25 1.25 0 1 0 2.5 0a1.25 1.25 0 1 0 -2.5 0M241.35 347.34a1.25 1.25 0 1 0 2.5 0a1.25 1.25 0 1 0 -2.5 0M241.9 347.53a1.25 1.25 0 1 0 2.5 0a1.25 1.25 0 1 0 -2.5 0M242.45 347.44a1.25 1.25 0 1 0 2.5 0a1.25 1.25 0 1 0 -2.5 0M243 347.54a1.25 1.25 0 1 0 2.5 0a1.25 1.25 0 1 0 -2.5 0M243.55 347.3a1.25 1.25 0 1 0 2.5 0a1.25 1.25 0 1 0 -2.5 0M244.1 347.04a1.25 1.25 0 1 0 2.5 0a1.25 1.25 0 1 0 -2.5 0M244.65 347.2a1.25 1.25 0 1 0 2.5 0a1.25 1.25 0 1 0 -2.5 0M245.2 346.74a1.25 1.25 0 1 0 2.5 0a1.25 1.25 0 1 0 -2.5 0M245.75 346.51a1.25 1.25 0 1 0 2.5 0a1.25 1.25 0 1 0 -2.5 0M246.3 347.13a1.25 1.25 0 1 0 2.5 0a1.25 1.25 0 1 0 -2.5 0M246.85 346.9a1.25 1.25 0 1 0 2.5 0a1.25 1.25 0 1 0 -2.5 0M247.4 346.96a1.25 1.25 0 1 0 2.5 0a1.25 1.25 0 1 0 -2.5 0M247.95 346.32a1.25 1.25 0 1 0 2.5 0a1.25 1.25 0 1 0 -2.5 0M248.5 346.68a1.25 1.25 0 1 0 2.5 0a1.25 1.25 0 1 0 -2.5 0M249.05 346.57a1.25 1.25 0 1 0 2.5 0a1.25 1.25 0 1 0 -2.5 0M249.6 346.45a1.25 1.25 0 1 0 2.5 0a1.25 1.25 0 1 0 -2.5 0M250.15 345.99a1.25 1.25 0 1 0 2.5 0a1.25 1.25 0 1 0 -2.5 0M250.7 346.53a1.25 1.25 0 1 0 2.5 0a1.25 1.25 0 1 0 -2.5 0M251.25 346.86a1.25 1.25 0 1 0 2.5 0a1.25 1.25 0 1 0 -2.5 0M251.8 346.66a1.25 1.25 0 1 0 2.5 0a1.25 1.25 0 1 0 -2.5 0M252.35 346.32a1.25 1.25 0 1 0 2.5 0a1.25 1.25 0 1 0 -2.5 0M252.9 346.45a1.25 1.25 0 1 0 2.5 0a1.25 1.25 0 1 0 -2.5 0M253.45 346.64a1.25 1.25 0 1 0 2.5 0a1.25 1.25 0 1 0 -2.5 0M254 345.53a1.25 1.25 0 1 0 2.5 0a1.25 1.25 0 1 0 -2.5 0M254.55 346.27a1.25 1.25 0 1 0 2.5 0a1.25 1.25 0 1 0 -2.5 0M255.1 346.41a1.25 1.25 0 1 0 2.5 0a1.25 1.25 0 1 0 -2.5 0M255.65 346.39a1.25 1.25 0 1 0 2.5 0a1.25 1.25 0 1 0 -2.5 0M256.2 346.63a1.25 1.25 0 1 0 2.5 0a1.25 1.25 0 1 0 -2.5 0M256.75 346.39a1.25 1.25 0 1 0 2.5 0a1.25 1.25 0 1 0 -2.5 0M257.3 346.07a1.25 1.25 0 1 0 2.5 0a1.25 1.25 0 1 0 -2.5 0M257.85 345.98a1.25 1.25 0 1 0 2.5 0a1.25 1.25 0 1 0 -2.5 0M258.4 346.04a1.25 1.25 0 1 0 2.5 0a1.25 1.25 0 1 0 -2.5 0M258.95 345.56a1.25 1.25 0 1 0 2.5 0a1.25 1.25 0 1 0 -2.5 0M259.5 345.61a1.25 1.25 0 1 0 2.5 0a1.25 1.25 0 1 0 -2.5 0M260.05 345.8a1.25 1.25 0 1 0 2.5 0a1.25 1.25 0 1 0 -2.5 0M260.6 346.01a1.25 1.25 0 1 0 2.5 0a1.25 1.25 0 1 0 -2.5 0M261.15 345.27a1.25 1.25 0 1 0 2.5 0a1.25 1.25 0 1 0 -2.5 0M261.7 345.2a1.25 1.25 0 1 0 2.5 0a1.25 1.25 0 1 0 -2.5 0M262.25 345.16a1.25 1.25 0 1 0 2.5 0a1.25 1.25 0 1 0 -2.5 0M262.8 345.4a1.25 1.25 0 1 0 2.5 0a1.25 1.25 0 1 0 -2.5 0M263.35 344.87a1.25 1.25 0 1 0 2.5 0a1.25 1.25 0 1 0 -2.5 0M263.9 345.21a1.25 1.25 0 1 0 2.5 0a1.25 1.25 0 1 0 -2.5 0M264.45 344.37a1.25 1.25 0 1 0 2.5 0a1.25 1.25 0 1 0 -2.5 0M265 344.49a1.25 1.25 0 1 0 2.5 0a1.25 1.25 0 1 0 -2.5 0M265.55 344.37a1.25 1.25 0 1 0 2.5 0a1.25 1.25 0 1 0 -2.5 0M266.1 344.54a1.25 1.25 0 1 0 2.5 0a1.25 1.25 0 1 0 -2.5 0M266.65 344.5a1.25 1.25 0 1 0 2.5 0a1.25 1.25 0 1 0 -2.5 0M267.2 343.61a1.25 1.25 0 1 0 2.5 0a1.25 1.25 0 1 0 -2.5 0M267.75 343.66a1.25 1.25 0 1 0 2.5 0a1.25 1.25 0 1 0 -2.5 0M268.3 343.9a1.25 1.25 0 1 0 2.5 0a1.25 1.25 0 1 0 -2.5 0M268.85 343.46a1.25 1.25 0 1 0 2.5 0a1.25 1.25 0 1 0 -2.5 0M269.4 343.05a1.25 1.25 0 1 0 2.5 0a1.25 1.25 0 1 0 -2.5 0M269.95 343.66a1.25 1.25 0 1 0 2.5 0a1.25 1.25 0 1 0 -2.5 0M270.5 343.33a1.25 1.25 0 1 0 2.5 0a1.25 1.25 0 1 0 -2.5 0M271.05 343.16a1.25 1.25 0 1 0 2.5 0a1.25 1.25 0 1 0 -2.5 0M271.6 342.69a1.25 1.25 0 1 0 2.5 0a1.25 1.25 0 1 0 -2.5 0M272.15 342.94a1.25 1.25 0 1 0 2.5 0a1.25 1.25 0 1 0 -2.5 0M272.7 342.36a1.25 1.25 0 1 0 2.5 0a1.25 1.25 0 1 0 -2.5 0M273.25 342.53a1.25 1.25 0 1 0 2.5 0a1.25 1.25 0 1 0 -2.5 0M273.8 341.69a1.25 1.25 0 1 0 2.5 0a1.25 1.25 0 1 0 -2.5 0M274.35 341.44a1.25 1.25 0 1 0 2.5 0a1.25 1.25 0 1 0 -2.5 0M274.9 341.47a1.25 1.25 0 1 0 2.5 0a1.25 1.25 0 1 0 -2.5 0M275.45 340.88a1.25 1.25 0 1 0 2.5 0a1.25 1.25 0 1 0 -2.5 0M276 340.96a1.25 1.25 0 1 0 2.5 0a1.25 1.25 0 1 0 -2.5 0M276.55 340.47a1.25 1.25 0 1 0 2.5 0a1.25 1.25 0 1 0 -2.5 0M277.1 339.72a1.25 1.25 0 1 0 2.5 0a1.25 1.25 0 1 0 -2.5 0M277.65 339.6a1.25 1.25 0 1 0 2.5 0a1.25 1.25 0 1 0 -2.5 0M278.2 339a1.25 1.25 0 1 0 2.5 0a1.25 1.25 0 1 0 -2.5 0M278.75 338.79a1.25 1.25 0 1 0 2.5 0a1.25 1.25 0 1 0 -2.5 0M279.3 337.66a1.25 1.25 0 1 0 2.5 0a1.25 1.25 0 1 0 -2.5 0M279.85 336.99a1.25 1.25 0 1 0 2.5 0a1.25 1.25 0 1 0 -2.5 0M280.4 336.7a1.25 1.25 0 1 0 2.5 0a1.25 1.25 0 1 0 -2.5 0M280.95 336.19a1.25 1.25 0 1 0 2.5 0a1.25 1.25 0 1 0 -2.5 0M281.5 335.28a1.25 1.25 0 1 0 2.5 0a1.25 1.25 0 1 0 -2.5 0M282.05 333.86a1.25 1.25 0 1 0 2.5 0a1.25 1.25 0 1 0 -2.5 0M282.6 333.04a1.25 1.25 0 1 0 2.5 0a1.25 1.25 0 1 0 -2.5 0M283.15 332.52a1.25 1.25 0 1 0 2.5 0a1.25 1.25 0 1 0 -2.5 0M283.7 331.06a1.25 1.25 0 1 0 2.5 0a1.25 1.25 0 1 0 -2.5 0M284.25 329.78a1.25 1.25 0 1 0 2.5 0a1.25 1.25 0 1 0 -2.5 0M284.8 329a1.25 1.25 0 1 0 2.5 0a1.25 1.25 0 1 0 -2.5 0M285.35 327.91a1.25 1.25 0 1 0 2.5 0a1.25 1.25 0 1 0 -2.5 0M285.9 326.19a1.25 1.25 0 1 0 2.5 0a1.25 1.25 0 1 0 -2.5 0M286.45 324.46a1.25 1.25 0 1 0 2.5 0a1.25 1.25 0 1 0 -2.5 0M287 322.93a1.25 1.25 0 1 0 2.5 0a1.25 1.25 0 1 0 -2.5 0M287.55 321.89a1.25 1.25 0 1 0 2.5 0a1.25 1.25 0 1 0 -2.5 0M288.1 319.74a1.25 1.25 0 1 0 2.5 0a1.25 1.25 0 1 0 -2.5 0M288.65 318.19a1.25 1.25 0 1 0 2.5 0a1.25 1.25 0 1 0 -2.5 0M289.2 316.51a1.25 1.25 0 1 0 2.5 0a1.25 1.25 0 1 0 -2.5 0M289.75 314.69a1.25 1.25 0 1 0 2.5 0a1.25 1.25 0 1 0 -2.5 0M290.3 312.46a1.25 1.25 0 1 0 2.5 0a1.25 1.25 0 1 0 -2.5 0M290.85 310.94a1.25 1.25 0 1 0 2.5 0a1.25 1.25 0 1 0 -2.5 0M291.4 308.92a1.25 1.25 0 1 0 2.5 0a1.25 1.25 0 1 0 -2.5 0M291.95 307.66a1.25 1.25 0 1 0 2.5 0a1.25 1.25 0 1 0 -2.5 0M292.5 306.73a1.25 1.25 0 1 0 2.5 0a1.25 1.25 0 1 0 -2.5 0M293.05 306.98a1.25 1.25 0 1 0 2.5 0a1.25 1.25 0 1 0 -2.5 0M293.6 306.7a1.25 1.25 0 1 0 2.5 0a1.25 1.25 0 1 0 -2.5 0M294.15 306.94a1.25 1.25 0 1 0 2.5 0a1.25 1.25 0 1 0 -2.5 0M294.7 307.68a1.25 1.25 0 1 0 2.5 0a1.25 1.25 0 1 0 -2.5 0M295.25 308.68a1.25 1.25 0 1 0 2.5 0a1.25 1.25 0 1 0 -2.5 0M295.8 310.19a1.25 1.25 0 1 0 2.5 0a1.25 1.25 0 1 0 -2.5 0M296.35 310.74a1.25 1.25 0 1 0 2.5 0a1.25 1.25 0 1 0 -2.5 0M296.9 312.15a1.25 1.25 0 1 0 2.5 0a1.25 1.25 0 1 0 -2.5 0M297.45 313.66a1.25 1.25 0 1 0 2.5 0a1.25 1.25 0 1 0 -2.5 0M298 315.89a1.25 1.25 0 1 0 2.5 0a1.25 1.25 0 1 0 -2.5 0M298.55 316.79a1.25 1.25 0 1 0 2.5 0a1.25 1.25 0 1 0 -2.5 0M299.1 317.86a1.25 1.25 0 1 0 2.5 0a1.25 1.25 0 1 0 -2.5 0M299.65 319.58a1.25 1.25 0 1 0 2.5 0a1.25 1.25 0 1 0 -2.5 0M300.2 321.47a1.25 1.25 0 1 0 2.5 0a1.25 1.25 0 1 0 -2.5 0M300.75 322.22a1.25 1.25 0 1 0 2.5 0a1.25 1.25 0 1 0 -2.5 0M301.3 323.51a1.25 1.25 0 1 0 2.5 0a1.25 1.25 0 1 0 -2.5 0M301.85 325.45a1.25 1.25 0 1 0 2.5 0a1.25 1.25 0 1 0 -2.5 0M302.4 326.46a1.25 1.25 0 1 0 2.5 0a1.25 1.25 0 1 0 -2.5 0M302.95 326.77a1.25 1.25 0 1 0 2.5 0a1.25 1.25 0 1 0 -2.5 0M303.5 326.08a1.25 1.25 0 1 0 2.5 0a1.25 1.25 0 1 0 -2.5 0M304.05 326.01a1.25 1.25 0 1 0 2.5 0a1.25 1.25 0 1 0 -2.5 0M304.6 324.12a1.25 1.25 0 1 0 2.5 0a1.25 1.25 0 1 0 -2.5 0M305.15 322.13a1.25 1.25 0 1 0 2.5 0a1.25 1.25 0 1 0 -2.5 0M305.7 320.68a1.25 1.25 0 1 0 2.5 0a1.25 1.25 0 1 0 -2.5 0M306.25 318.89a1.25 1.25 0 1 0 2.5 0a1.25 1.25 0 1 0 -2.5 0M306.8 319.24a1.25 1.25 0 1 0 2.5 0a1.25 1.25 0 1 0 -2.5 0M307.35 318.75a1.25 1.25 0 1 0 2.5 0a1.25 1.25 0 1 0 -2.5 0M307.9 319.22a1.25 1.25 0 1 0 2.5 0a1.25 1.25 0 1 0 -2.5 0M308.45 320.15a1.25 1.25 0 1 0 2.5 0a1.25 1.25 0 1 0 -2.5 0M309 320.94a1.25 1.25 0 1 0 2.5 0a1.25 1.25 0 1 0 -2.5 0M309.55 322.21a1.25 1.25 0 1 0 2.5 0a1.25 1.25 0 1 0 -2.5 0M310.1 324.66a1.25 1.25 0 1 0 2.5 0a1.25 1.25 0 1 0 -2.5 0M310.65 325.96a1.25 1.25 0 1 0 2.5 0a1.25 1.25 0 1 0 -2.5 0M311.2 327.72a1.25 1.25 0 1 0 2.5 0a1.25 1.25 0 1 0 -2.5 0M311.75 329.13a1.25 1.25 0 1 0 2.5 0a1.25 1.25 0 1 0 -2.5 0M312.3 330.42a1.25 1.25 0 1 0 2.5 0a1.25 1.25 0 1 0 -2.5 0M312.85 330.87a1.25 1.25 0 1 0 2.5 0a1.25 1.25 0 1 0 -2.5 0M313.4 332.83a1.25 1.25 0 1 0 2.5 0a1.25 1.25 0 1 0 -2.5 0M313.95 333.3a1.25 1.25 0 1 0 2.5 0a1.25 1.25 0 1 0 -2.5 0M314.5 334.24a1.25 1.25 0 1 0 2.5 0a1.25 1.25 0 1 0 -2.5 0M315.05 335.11a1.25 1.25 0 1 0 2.5 0a1.25 1.25 0 1 0 -2.5 0M315.6 335.08a1.25 1.25 0 1 0 2.5 0a1.25 1.25 0 1 0 -2.5 0M316.15 335.01a1.25 1.25 0 1 0 2.5 0a1.25 1.25 0 1 0 -2.5 0M316.7 335.7a1.25 1.25 0 1 0 2.5 0a1.25 1.25 0 1 0 -2.5 0M317.25 335.96a1.25 1.25 0 1 0 2.5 0a1.25 1.25 0 1 0 -2.5 0M317.8 336.5a1.25 1.25 0 1 0 2.5 0a1.25 1.25 0 1 0 -2.5 0M318.35 336.99a1.25 1.25 0 1 0 2.5 0a1.25 1.25 0 1 0 -2.5 0M318.9 336.65a1.25 1.25 0 1 0 2.5 0a1.25 1.25 0 1 0 -2.5 0M319.45 337.61a1.25 1.25 0 1 0 2.5 0a1.25 1.25 0 1 0 -2.5 0M320 337.3a1.25 1.25 0 1 0 2.5 0a1.25 1.25 0 1 0 -2.5 0M320.55 338.06a1.25 1.25 0 1 0 2.5 0a1.25 1.25 0 1 0 -2.5 0M321.1 338.15a1.25 1.25 0 1 0 2.5 0a1.25 1.25 0 1 0 -2.5 0M321.65 338.27a1.25 1.25 0 1 0 2.5 0a1.25 1.25 0 1 0 -2.5 0M322.2 338.52a1.25 1.25 0 1 0 2.5 0a1.25 1.25 0 1 0 -2.5 0M322.75 338.55a1.25 1.25 0 1 0 2.5 0a1.25 1.25 0 1 0 -2.5 0M323.3 338.68a1.25 1.25 0 1 0 2.5 0a1.25 1.25 0 1 0 -2.5 0M323.85 338.51a1.25 1.25 0 1 0 2.5 0a1.25 1.25 0 1 0 -2.5 0M324.4 339.15a1.25 1.25 0 1 0 2.5 0a1.25 1.25 0 1 0 -2.5 0M324.95 339.85a1.25 1.25 0 1 0 2.5 0a1.25 1.25 0 1 0 -2.5 0M325.5 340.02a1.25 1.25 0 1 0 2.5 0a1.25 1.25 0 1 0 -2.5 0M326.05 339.94a1.25 1.25 0 1 0 2.5 0a1.25 1.25 0 1 0 -2.5 0M326.6 339.88a1.25 1.25 0 1 0 2.5 0a1.25 1.25 0 1 0 -2.5 0M327.15 339.58a1.25 1.25 0 1 0 2.5 0a1.25 1.25 0 1 0 -2.5 0M327.7 340.33a1.25 1.25 0 1 0 2.5 0a1.25 1.25 0 1 0 -2.5 0M328.25 339.99a1.25 1.25 0 1 0 2.5 0a1.25 1.25 0 1 0 -2.5 0M328.8 340.1a1.25 1.25 0 1 0 2.5 0a1.25 1.25 0 1 0 -2.5 0M329.35 340.14a1.25 1.25 0 1 0 2.5 0a1.25 1.25 0 1 0 -2.5 0M329.9 340.36a1.25 1.25 0 1 0 2.5 0a1.25 1.25 0 1 0 -2.5 0M330.45 340.31a1.25 1.25 0 1 0 2.5 0a1.25 1.25 0 1 0 -2.5 0M331 340.52a1.25 1.25 0 1 0 2.5 0a1.25 1.25 0 1 0 -2.5 0M331.55 340.33a1.25 1.25 0 1 0 2.5 0a1.25 1.25 0 1 0 -2.5 0M332.1 340.66a1.25 1.25 0 1 0 2.5 0a1.25 1.25 0 1 0 -2.5 0M332.65 341.56a1.25 1.25 0 1 0 2.5 0a1.25 1.25 0 1 0 -2.5 0M333.2 340.97a1.25 1.25 0 1 0 2.5 0a1.25 1.25 0 1 0 -2.5 0M333.75 341.02a1.25 1.25 0 1 0 2.5 0a1.25 1.25 0 1 0 -2.5 0M334.3 341.35a1.25 1.25 0 1 0 2.5 0a1.25 1.25 0 1 0 -2.5 0M334.85 341.51a1.25 1.25 0 1 0 2.5 0a1.25 1.25 0 1 0 -2.5 0M335.4 341.06a1.25 1.25 0 1 0 2.5 0a1.25 1.25 0 1 0 -2.5 0M335.95 341.43a1.25 1.25 0 1 0 2.5 0a1.25 1.25 0 1 0 -2.5 0M336.5 341.87a1.25 1.25 0 1 0 2.5 0a1.25 1.25 0 1 0 -2.5 0M337.05 341.77a1.25 1.25 0 1 0 2.5 0a1.25 1.25 0 1 0 -2.5 0M337.6 341.83a1.25 1.25 0 1 0 2.5 0a1.25 1.25 0 1 0 -2.5 0M338.15 342.36a1.25 1.25 0 1 0 2.5 0a1.25 1.25 0 1 0 -2.5 0M338.7 341.79a1.25 1.25 0 1 0 2.5 0a1.25 1.25 0 1 0 -2.5 0M339.25 342.12a1.25 1.25 0 1 0 2.5 0a1.25 1.25 0 1 0 -2.5 0M339.8 342.04a1.25 1.25 0 1 0 2.5 0a1.25 1.25 0 1 0 -2.5 0M340.35 342.75a1.25 1.25 0 1 0 2.5 0a1.25 1.25 0 1 0 -2.5 0M340.9 341.82a1.25 1.25 0 1 0 2.5 0a1.25 1.25 0 1 0 -2.5 0M341.45 342.32a1.25 1.25 0 1 0 2.5 0a1.25 1.25 0 1 0 -2.5 0M342 342.47a1.25 1.25 0 1 0 2.5 0a1.25 1.25 0 1 0 -2.5 0M342.55 342.93a1.25 1.25 0 1 0 2.5 0a1.25 1.25 0 1 0 -2.5 0M343.1 343.02a1.25 1.25 0 1 0 2.5 0a1.25 1.25 0 1 0 -2.5 0M343.65 343.37a1.25 1.25 0 1 0 2.5 0a1.25 1.25 0 1 0 -2.5 0M344.2 342.58a1.25 1.25 0 1 0 2.5 0a1.25 1.25 0 1 0 -2.5 0M344.75 343.38a1.25 1.25 0 1 0 2.5 0a1.25 1.25 0 1 0 -2.5 0M345.3 343.17a1.25 1.25 0 1 0 2.5 0a1.25 1.25 0 1 0 -2.5 0M345.85 343.16a1.25 1.25 0 1 0 2.5 0a1.25 1.25 0 1 0 -2.5 0M346.4 343.61a1.25 1.25 0 1 0 2.5 0a1.25 1.25 0 1 0 -2.5 0M346.95 343.26a1.25 1.25 0 1 0 2.5 0a1.25 1.25 0 1 0 -2.5 0M347.5 343a1.25 1.25 0 1 0 2.5 0a1.25 1.25 0 1 0 -2.5 0M348.05 343.59a1.25 1.25 0 1 0 2.5 0a1.25 1.25 0 1 0 -2.5 0M348.6 343.33a1.25 1.25 0 1 0 2.5 0a1.25 1.25 0 1 0 -2.5 0M349.15 343.66a1.25 1.25 0 1 0 2.5 0a1.25 1.25 0 1 0 -2.5 0M349.7 344.03a1.25 1.25 0 1 0 2.5 0a1.25 1.25 0 1 0 -2.5 0M350.25 344.08a1.25 1.25 0 1 0 2.5 0a1.25 1.25 0 1 0 -2.5 0M350.8 344.53a1.25 1.25 0 1 0 2.5 0a1.25 1.25 0 1 0 -2.5 0M351.35 344.06a1.25 1.25 0 1 0 2.5 0a1.25 1.25 0 1 0 -2.5 0M351.9 343.73a1.25 1.25 0 1 0 2.5 0a1.25 1.25 0 1 0 -2.5 0M352.45 344.03a1.25 1.25 0 1 0 2.5 0a1.25 1.25 0 1 0 -2.5 0M353 344.04a1.25 1.25 0 1 0 2.5 0a1.25 1.25 0 1 0 -2.5 0M353.55 344.01a1.25 1.25 0 1 0 2.5 0a1.25 1.25 0 1 0 -2.5 0M354.1 344.56a1.25 1.25 0 1 0 2.5 0a1.25 1.25 0 1 0 -2.5 0M354.65 344.29a1.25 1.25 0 1 0 2.5 0a1.25 1.25 0 1 0 -2.5 0M355.2 343.95a1.25 1.25 0 1 0 2.5 0a1.25 1.25 0 1 0 -2.5 0M355.75 344.8a1.25 1.25 0 1 0 2.5 0a1.25 1.25 0 1 0 -2.5 0M356.3 344.6a1.25 1.25 0 1 0 2.5 0a1.25 1.25 0 1 0 -2.5 0M356.85 344.79a1.25 1.25 0 1 0 2.5 0a1.25 1.25 0 1 0 -2.5 0M357.4 344.75a1.25 1.25 0 1 0 2.5 0a1.25 1.25 0 1 0 -2.5 0M357.95 344.94a1.25 1.25 0 1 0 2.5 0a1.25 1.25 0 1 0 -2.5 0M358.5 344.8a1.25 1.25 0 1 0 2.5 0a1.25 1.25 0 1 0 -2.5 0M359.05 345.19a1.25 1.25 0 1 0 2.5 0a1.25 1.25 0 1 0 -2.5 0M359.6 344.97a1.25 1.25 0 1 0 2.5 0a1.25 1.25 0 1 0 -2.5 0M360.15 344.99a1.25 1.25 0 1 0 2.5 0a1.25 1.25 0 1 0 -2.5 0M360.7 345.02a1.25 1.25 0 1 0 2.5 0a1.25 1.25 0 1 0 -2.5 0M361.25 344.49a1.25 1.25 0 1 0 2.5 0a1.25 1.25 0 1 0 -2.5 0M361.8 344.9a1.25 1.25 0 1 0 2.5 0a1.25 1.25 0 1 0 -2.5 0M362.35 344.9a1.25 1.25 0 1 0 2.5 0a1.25 1.25 0 1 0 -2.5 0M362.9 345.07a1.25 1.25 0 1 0 2.5 0a1.25 1.25 0 1 0 -2.5 0M363.45 344.62a1.25 1.25 0 1 0 2.5 0a1.25 1.25 0 1 0 -2.5 0M364 345.55a1.25 1.25 0 1 0 2.5 0a1.25 1.25 0 1 0 -2.5 0M364.55 345.11a1.25 1.25 0 1 0 2.5 0a1.25 1.25 0 1 0 -2.5 0M365.1 344.74a1.25 1.25 0 1 0 2.5 0a1.25 1.25 0 1 0 -2.5 0M365.65 344.61a1.25 1.25 0 1 0 2.5 0a1.25 1.25 0 1 0 -2.5 0M366.2 345.06a1.25 1.25 0 1 0 2.5 0a1.25 1.25 0 1 0 -2.5 0M366.75 345.14a1.25 1.25 0 1 0 2.5 0a1.25 1.25 0 1 0 -2.5 0M367.3 344.97a1.25 1.25 0 1 0 2.5 0a1.25 1.25 0 1 0 -2.5 0M367.85 345.23a1.25 1.25 0 1 0 2.5 0a1.25 1.25 0 1 0 -2.5 0M368.4 345.03a1.25 1.25 0 1 0 2.5 0a1.25 1.25 0 1 0 -2.5 0M368.95 345.4a1.25 1.25 0 1 0 2.5 0a1.25 1.25 0 1 0 -2.5 0M369.5 345.03a1.25 1.25 0 1 0 2.5 0a1.25 1.25 0 1 0 -2.5 0M370.05 345.25a1.25 1.25 0 1 0 2.5 0a1.25 1.25 0 1 0 -2.5 0M370.6 345.56a1.25 1.25 0 1 0 2.5 0a1.25 1.25 0 1 0 -2.5 0M371.15 346.05a1.25 1.25 0 1 0 2.5 0a1.25 1.25 0 1 0 -2.5 0M371.7 344.98a1.25 1.25 0 1 0 2.5 0a1.25 1.25 0 1 0 -2.5 0M372.25 345.15a1.25 1.25 0 1 0 2.5 0a1.25 1.25 0 1 0 -2.5 0M372.8 345.05a1.25 1.25 0 1 0 2.5 0a1.25 1.25 0 1 0 -2.5 0M373.35 345.53a1.25 1.25 0 1 0 2.5 0a1.25 1.25 0 1 0 -2.5 0M373.9 344.96a1.25 1.25 0 1 0 2.5 0a1.25 1.25 0 1 0 -2.5 0M374.45 345.15a1.25 1.25 0 1 0 2.5 0a1.25 1.25 0 1 0 -2.5 0M375 345.29a1.25 1.25 0 1 0 2.5 0a1.25 1.25 0 1 0 -2.5 0M375.55 345.01a1.25 1.25 0 1 0 2.5 0a1.25 1.25 0 1 0 -2.5 0M376.1 345.01a1.25 1.25 0 1 0 2.5 0a1.25 1.25 0 1 0 -2.5 0M376.65 345.16a1.25 1.25 0 1 0 2.5 0a1.25 1.25 0 1 0 -2.5 0M377.2 344.67a1.25 1.25 0 1 0 2.5 0a1.25 1.25 0 1 0 -2.5 0M377.75 344.87a1.25 1.25 0 1 0 2.5 0a1.25 1.25 0 1 0 -2.5 0M378.3 345.18a1.25 1.25 0 1 0 2.5 0a1.25 1.25 0 1 0 -2.5 0M378.85 345.34a1.25 1.25 0 1 0 2.5 0a1.25 1.25 0 1 0 -2.5 0M379.4 345.24a1.25 1.25 0 1 0 2.5 0a1.25 1.25 0 1 0 -2.5 0M379.95 344.77a1.25 1.25 0 1 0 2.5 0a1.25 1.25 0 1 0 -2.5 0M380.5 345.16a1.25 1.25 0 1 0 2.5 0a1.25 1.25 0 1 0 -2.5 0M381.05 345.54a1.25 1.25 0 1 0 2.5 0a1.25 1.25 0 1 0 -2.5 0M381.6 345.47a1.25 1.25 0 1 0 2.5 0a1.25 1.25 0 1 0 -2.5 0M382.15 345.28a1.25 1.25 0 1 0 2.5 0a1.25 1.25 0 1 0 -2.5 0M382.7 345.03a1.25 1.25 0 1 0 2.5 0a1.25 1.25 0 1 0 -2.5 0M383.25 345.49a1.25 1.25 0 1 0 2.5 0a1.25 1.25 0 1 0 -2.5 0M383.8 345.13a1.25 1.25 0 1 0 2.5 0a1.25 1.25 0 1 0 -2.5 0M384.35 344.95a1.25 1.25 0 1 0 2.5 0a1.25 1.25 0 1 0 -2.5 0M384.9 345.06a1.25 1.25 0 1 0 2.5 0a1.25 1.25 0 1 0 -2.5 0M385.45 345.73a1.25 1.25 0 1 0 2.5 0a1.25 1.25 0 1 0 -2.5 0M386 345.37a1.25 1.25 0 1 0 2.5 0a1.25 1.25 0 1 0 -2.5 0M386.55 345.65a1.25 1.25 0 1 0 2.5 0a1.25 1.25 0 1 0 -2.5 0M387.1 345.16a1.25 1.25 0 1 0 2.5 0a1.25 1.25 0 1 0 -2.5 0M387.65 345.58a1.25 1.25 0 1 0 2.5 0a1.25 1.25 0 1 0 -2.5 0M388.2 345.12a1.25 1.25 0 1 0 2.5 0a1.25 1.25 0 1 0 -2.5 0M388.75 345.25a1.25 1.25 0 1 0 2.5 0a1.25 1.25 0 1 0 -2.5 0M389.3 346.04a1.25 1.25 0 1 0 2.5 0a1.25 1.25 0 1 0 -2.5 0M389.85 345.5a1.25 1.25 0 1 0 2.5 0a1.25 1.25 0 1 0 -2.5 0M390.4 345.08a1.25 1.25 0 1 0 2.5 0a1.25 1.25 0 1 0 -2.5 0M390.95 345.16a1.25 1.25 0 1 0 2.5 0a1.25 1.25 0 1 0 -2.5 0M391.5 345.22a1.25 1.25 0 1 0 2.5 0a1.25 1.25 0 1 0 -2.5 0M392.05 345.42a1.25 1.25 0 1 0 2.5 0a1.25 1.25 0 1 0 -2.5 0M392.6 344.83a1.25 1.25 0 1 0 2.5 0a1.25 1.25 0 1 0 -2.5 0M393.15 344.37a1.25 1.25 0 1 0 2.5 0a1.25 1.25 0 1 0 -2.5 0M393.7 344.72a1.25 1.25 0 1 0 2.5 0a1.25 1.25 0 1 0 -2.5 0M394.25 344.71a1.25 1.25 0 1 0 2.5 0a1.25 1.25 0 1 0 -2.5 0M394.8 344.59a1.25 1.25 0 1 0 2.5 0a1.25 1.25 0 1 0 -2.5 0M395.35 344.77a1.25 1.25 0 1 0 2.5 0a1.25 1.25 0 1 0 -2.5 0M395.9 344.26a1.25 1.25 0 1 0 2.5 0a1.25 1.25 0 1 0 -2.5 0M396.45 344.18a1.25 1.25 0 1 0 2.5 0a1.25 1.25 0 1 0 -2.5 0M397 343.35a1.25 1.25 0 1 0 2.5 0a1.25 1.25 0 1 0 -2.5 0M397.55 343.6a1.25 1.25 0 1 0 2.5 0a1.25 1.25 0 1 0 -2.5 0M398.1 343.58a1.25 1.25 0 1 0 2.5 0a1.25 1.25 0 1 0 -2.5 0M398.65 342.8a1.25 1.25 0 1 0 2.5 0a1.25 1.25 0 1 0 -2.5 0M399.2 342.3a1.25 1.25 0 1 0 2.5 0a1.25 1.25 0 1 0 -2.5 0M399.75 341.96a1.25 1.25 0 1 0 2.5 0a1.25 1.25 0 1 0 -2.5 0M400.3 342.13a1.25 1.25 0 1 0 2.5 0a1.25 1.25 0 1 0 -2.5 0M400.85 341.02a1.25 1.25 0 1 0 2.5 0a1.25 1.25 0 1 0 -2.5 0M401.4 341.05a1.25 1.25 0 1 0 2.5 0a1.25 1.25 0 1 0 -2.5 0M401.95 341.14a1.25 1.25 0 1 0 2.5 0a1.25 1.25 0 1 0 -2.5 0M402.5 341.26a1.25 1.25 0 1 0 2.5 0a1.25 1.25 0 1 0 -2.5 0M403.05 341.02a1.25 1.25 0 1 0 2.5 0a1.25 1.25 0 1 0 -2.5 0M403.6 341.38a1.25 1.25 0 1 0 2.5 0a1.25 1.25 0 1 0 -2.5 0M404.15 341.36a1.25 1.25 0 1 0 2.5 0a1.25 1.25 0 1 0 -2.5 0M404.7 341.63a1.25 1.25 0 1 0 2.5 0a1.25 1.25 0 1 0 -2.5 0M405.25 341.68a1.25 1.25 0 1 0 2.5 0a1.25 1.25 0 1 0 -2.5 0M405.8 341.51a1.25 1.25 0 1 0 2.5 0a1.25 1.25 0 1 0 -2.5 0M406.35 341.99a1.25 1.25 0 1 0 2.5 0a1.25 1.25 0 1 0 -2.5 0M406.9 342.4a1.25 1.25 0 1 0 2.5 0a1.25 1.25 0 1 0 -2.5 0M407.45 341.98a1.25 1.25 0 1 0 2.5 0a1.25 1.25 0 1 0 -2.5 0M408 342.31a1.25 1.25 0 1 0 2.5 0a1.25 1.25 0 1 0 -2.5 0M408.55 342.67a1.25 1.25 0 1 0 2.5 0a1.25 1.25 0 1 0 -2.5 0M409.1 342.22a1.25 1.25 0 1 0 2.5 0a1.25 1.25 0 1 0 -2.5 0M409.65 342.65a1.25 1.25 0 1 0 2.5 0a1.25 1.25 0 1 0 -2.5 0M410.2 342.33a1.25 1.25 0 1 0 2.5 0a1.25 1.25 0 1 0 -2.5 0M410.75 343.04a1.25 1.25 0 1 0 2.5 0a1.25 1.25 0 1 0 -2.5 0M411.3 343.44a1.25 1.25 0 1 0 2.5 0a1.25 1.25 0 1 0 -2.5 0M411.85 343.4a1.25 1.25 0 1 0 2.5 0a1.25 1.25 0 1 0 -2.5 0M412.4 342.77a1.25 1.25 0 1 0 2.5 0a1.25 1.25 0 1 0 -2.5 0M412.95 343.09a1.25 1.25 0 1 0 2.5 0a1.25 1.25 0 1 0 -2.5 0M413.5 342.94a1.25 1.25 0 1 0 2.5 0a1.25 1.25 0 1 0 -2.5 0M414.05 342.97a1.25 1.25 0 1 0 2.5 0a1.25 1.25 0 1 0 -2.5 0M414.6 343.44a1.25 1.25 0 1 0 2.5 0a1.25 1.25 0 1 0 -2.5 0M415.15 342.61a1.25 1.25 0 1 0 2.5 0a1.25 1.25 0 1 0 -2.5 0M415.7 343.35a1.25 1.25 0 1 0 2.5 0a1.25 1.25 0 1 0 -2.5 0M416.25 343.05a1.25 1.25 0 1 0 2.5 0a1.25 1.25 0 1 0 -2.5 0M416.8 343.52a1.25 1.25 0 1 0 2.5 0a1.25 1.25 0 1 0 -2.5 0M417.35 343.18a1.25 1.25 0 1 0 2.5 0a1.25 1.25 0 1 0 -2.5 0M417.9 342.95a1.25 1.25 0 1 0 2.5 0a1.25 1.25 0 1 0 -2.5 0M418.45 343.27a1.25 1.25 0 1 0 2.5 0a1.25 1.25 0 1 0 -2.5 0M419 343.43a1.25 1.25 0 1 0 2.5 0a1.25 1.25 0 1 0 -2.5 0M419.55 343.26a1.25 1.25 0 1 0 2.5 0a1.25 1.25 0 1 0 -2.5 0M420.1 343.42a1.25 1.25 0 1 0 2.5 0a1.25 1.25 0 1 0 -2.5 0M420.65 343.15a1.25 1.25 0 1 0 2.5 0a1.25 1.25 0 1 0 -2.5 0M421.2 342.69a1.25 1.25 0 1 0 2.5 0a1.25 1.25 0 1 0 -2.5 0M421.75 343.63a1.25 1.25 0 1 0 2.5 0a1.25 1.25 0 1 0 -2.5 0M422.3 343.6a1.25 1.25 0 1 0 2.5 0a1.25 1.25 0 1 0 -2.5 0M422.85 343.46a1.25 1.25 0 1 0 2.5 0a1.25 1.25 0 1 0 -2.5 0M423.4 343.47a1.25 1.25 0 1 0 2.5 0a1.25 1.25 0 1 0 -2.5 0M423.95 343.79a1.25 1.25 0 1 0 2.5 0a1.25 1.25 0 1 0 -2.5 0M424.5 343.37a1.25 1.25 0 1 0 2.5 0a1.25 1.25 0 1 0 -2.5 0M425.05 343.32a1.25 1.25 0 1 0 2.5 0a1.25 1.25 0 1 0 -2.5 0M425.6 343.5a1.25 1.25 0 1 0 2.5 0a1.25 1.25 0 1 0 -2.5 0M426.15 343.94a1.25 1.25 0 1 0 2.5 0a1.25 1.25 0 1 0 -2.5 0M426.7 343.19a1.25 1.25 0 1 0 2.5 0a1.25 1.25 0 1 0 -2.5 0M427.25 343.99a1.25 1.25 0 1 0 2.5 0a1.25 1.25 0 1 0 -2.5 0M427.8 343.46a1.25 1.25 0 1 0 2.5 0a1.25 1.25 0 1 0 -2.5 0M428.35 343.34a1.25 1.25 0 1 0 2.5 0a1.25 1.25 0 1 0 -2.5 0M428.9 344.07a1.25 1.25 0 1 0 2.5 0a1.25 1.25 0 1 0 -2.5 0M429.45 343.69a1.25 1.25 0 1 0 2.5 0a1.25 1.25 0 1 0 -2.5 0M430 343.35a1.25 1.25 0 1 0 2.5 0a1.25 1.25 0 1 0 -2.5 0M430.55 343.65a1.25 1.25 0 1 0 2.5 0a1.25 1.25 0 1 0 -2.5 0M431.1 344.06a1.25 1.25 0 1 0 2.5 0a1.25 1.25 0 1 0 -2.5 0M431.65 344.15a1.25 1.25 0 1 0 2.5 0a1.25 1.25 0 1 0 -2.5 0" fill="#7a20dc"/>
<path d="M233.8 348.87 234.35 349.05 234.9 349.06 235.45 348.55 236 348.74 236.55 348.5 237.1 348.21 237.65 348.07 238.2 348.08 238.75 347.91 239.3 347.56 239.85 347.42 240.4 347.69 240.95 347.2 241.5 347.15 242.05 346.96 242.6 346.48 243.15 346.67 243.7 345.41 244.25 345.57 244.8 344.9 245.35 345.22 245.9 344.86 246.45 343.45 247 343.46 247.55 343.68 248.1 343.46 248.65 343.19 249.2 342.71 249.75 342.62 250.3 342.45 250.85 341.99 251.4 342.09 251.95 340.87 252.5 341.51 253.05 340.77 253.6 341.13 254.15 340.52 254.7 340.07 255.25 340.19 255.8 339.54 256.35 339.27 256.9 338.8 257.45 338.98 258 338.85 258.55 338.72 259.1 338.08 259.65 338.15 260.2 337.54 260.75 337.19 261.3 337.06 261.85 336.86 262.4 336.08 262.95 335.73 263.5 335.37 264.05 335.04 264.6 334.33 265.15 334.47 265.7 333.57 266.25 333.35 266.8 332.45 267.35 332.26 267.9 331.68 268.45 330.81 269 330.87 269.55 329.67 270.1 329.35 270.65 328.32 271.2 327.02 271.75 326.26 272.3 325.63 272.85 324.6 273.4 323.62 273.95 322.47 274.5 320.9 275.05 320.18 275.6 318.31 276.15 317.73 276.7 315.85 277.25 314.12 277.8 312.43 278.35 310.67 278.9 308.25 279.45 306.31 280 304.82 280.55 302.91 281.1 301.53 281.65 300.36 282.2 297.2 282.75 294.27 283.3 289.83 283.85 287.18 284.4 284.27 284.95 281.54 285.5 278.34 286.05 274.51 286.6 269.43 287.15 264.79 287.7 259.82 288.25 255.46 288.8 250.07 289.35 244.91 289.9 239.01 290.45 233.8 291 226.92 291.55 221.88 292.1 216.97 292.65 212.09 293.2 208.26 293.75 205.75 294.3 205.7 294.85 207.08 295.4 209.88 295.95 211.95 296.5 214.24 297.05 217.42 297.6 220.48 298.15 223.78 298.7 226.33 299.25 229.52 299.8 233.82 300.35 239.96 300.9 247.22 301.45 254.55 302 261.87 302.55 269.46 303.1 276.63 303.65 282.7 304.2 285.81 304.75 288.81 305.3 290.71 305.85 291.2 306.4 290.85 306.95 291.24 307.5 290.96 308.05 290.57 308.6 291.11 309.15 293.33 309.7 295.33 310.25 298.55 310.8 300.29 311.35 304.41 311.9 308.33 312.45 311.45 313 314.48 313.55 317.17 314.1 319.33 314.65 321.78 315.2 322.64 315.75 324.87 316.3 325.99 316.85 327.44 317.4 328.54 317.95 329.15 318.5 330.04 319.05 331.17 319.6 331.67 320.15 331.95 320.7 333.3 321.25 333.88 321.8 333.2 322.35 334.14 322.9 335.19 323.45 335.02 324 335.17 324.55 335.35 325.1 335.53 325.65 335.89 326.2 336.04 326.75 336.67 327.3 336.57 327.85 336.8 328.4 336.82 328.95 337.4 329.5 337.38 330.05 337.83 330.6 338.42 331.15 338.44 331.7 338.69 332.25 338.85 332.8 338.95 333.35 339.08 333.9 339.2 334.45 339.69 335 339.31 335.55 340.2 336.1 339.96 336.65 339.88 337.2 340.11 337.75 340.2 338.3 340.6 338.85 340.48 339.4 341.19 339.95 340.75 340.5 340.45 341.05 341.05 341.6 340.81 342.15 341.55 342.7 342.01 343.25 342.03 343.8 341.57 344.35 341.88 344.9 342.78 345.45 342.47 346 342.51 346.55 342.95 347.1 343.5 347.65 343.28 348.2 343.05 348.75 343.24 349.3 343.44 349.85 343.18 350.4 343.17 350.95 343.62 351.5 343.44 352.05 343.83 352.6 344.01 353.15 344.8 353.7 343.96 354.25 344.29 354.8 344.37 355.35 344.64 355.9 344.9 356.45 344.51 357 344.45 357.55 344.24 358.1 344.5 358.65 344.97 359.2 344.86 359.75 344.57 360.3 344.79 360.85 344.95 361.4 345.12 361.95 344.81 362.5 344.94 363.05 344.5 363.6 344.72 364.15 345.57 364.7 344.45 365.25 345.02 365.8 345.21 366.35 345.04 366.9 344.92 367.45 345.16 368 345.18 368.55 345.17 369.1 344.63 369.65 345.16 370.2 344.94 370.75 345.04 371.3 345.27 371.85 345.39 372.4 345.47 372.95 345.05 373.5 345.48 374.05 345.55 374.6 345.54 375.15 345.62 375.7 345.16 376.25 345.15 376.8 345.45 377.35 344.79 377.9 345.26 378.45 345.04 379 345.09 379.55 344.68 380.1 344.93 380.65 345.19 381.2 345.47 381.75 345.5 382.3 345.18 382.85 345.14 383.4 344.95 383.95 345.32 384.5 345.13 385.05 345.38 385.6 345.72 386.15 345.18 386.7 344.73 387.25 344.91 387.8 344.71 388.35 344.77 388.9 345.49 389.45 345.14 390 344.59 390.55 345.21 391.1 345.36 391.65 344.83 392.2 344.7 392.75 344.76 393.3 344.9 393.85 344.96 394.4 345.06 394.95 344.99 395.5 344.88 396.05 344.79 396.6 344.29 397.15 343.17 397.7 343.05 398.25 342.64 398.8 341.79 399.35 341.51 399.9 340.57 400.45 339.97 401 340.25 401.55 339.63 402.1 339.19 402.65 339.21 403.2 339.23 403.75 339.15 404.3 338.55 404.85 339.39 405.4 339.77 405.95 339.88 406.5 340.48 407.05 341.02 407.6 340.76 408.15 340.79 408.7 341.93 409.25 341.32 409.8 341.21 410.35 341.76 410.9 341.91 411.45 341.66 412 342.18 412.55 341.86 413.1 341.78 413.65 342.16 414.2 342.38 414.75 342 415.3 342.33 415.85 342.24 416.4 343.14 416.95 342.12 417.5 342.78 418.05 342.37 418.6 342.38 419.15 342.67 419.7 342.75 420.25 342.9 420.8 342.65 421.35 342.4 421.9 342.45 422.45 342.8 423 342.85 423.55 343.13 424.1 342.87 424.65 343.09 425.2 343.26 425.75 342.88 426.3 342.42 426.85 342.54 427.4 342.49 427.95 343.43 428.5 342.73 429.05 343.38 429.6 343.21 430.15 343.58 430.7 343.39 431.25 343.09 431.8 343.08 432.35 343.2 432.9 343.25" stroke="#18a3a3" stroke-width="1.0" fill="none"/>
<path d="M232.55 348.87a1.25 1.25 0 1 0 2.5 0a1.25 1.25 0 1 0 -2.5 0M233.1 349.05a1.25 1.25 0 1 0 2.5 0a1.25 1.25 0 1 0 -2.5 0M233.65 349.06a1.25 1.25 0 1 0 2.5 0a1.25 1.25 0 1 0 -2.5 0M234.2 348.55a1.25 1.25 0 1 0 2.5 0a1.25 1.25 0 1 0 -2.5 0M234.75 348.74a1.25 1.25 0 1 0 2.5 0a1.25 1.25 0 1 0 -2.5 0M235.3 348.5a1.25 1.25 0 1 0 2.5 0a1.25 1.25 0 1 0 -2.5 0M235.85 348.21a1.25 1.25 0 1 0 2.5 0a1.25 1.25 0 1 0 -2.5 0M236.4 348.07a1.25 1.25 0 1 0 2.5 0a1.25 1.25 0 1 0 -2.5 0M236.95 348.08a1.25 1.25 0 1 0 2.5 0a1.25 1.25 0 1 0 -2.5 0M237.5 347.91a1.25 1.25 0 1 0 2.5 0a1.25 1.25 0 1 0 -2.5 0M238.05 347.56a1.25 1.25 0 1 0 2.5 0a1.25 1.25 0 1 0 -2.5 0M238.6 347.42a1.25 1.25 0 1 0 2.5 0a1.25 1.25 0 1 0 -2.5 0M239.15 347.69a1.25 1.25 0 1 0 2.5 0a1.25 1.25 0 1 0 -2.5 0M239.7 347.2a1.25 1.25 0 1 0 2.5 0a1.25 1.25 0 1 0 -2.5 0M240.25 347.15a1.25 1.25 0 1 0 2.5 0a1.25 1.25 0 1 0 -2.5 0M240.8 346.96a1.25 1.25 0 1 0 2.5 0a1.25 1.25 0 1 0 -2.5 0M241.35 346.48a1.25 1.25 0 1 0 2.5 0a1.25 1.25 0 1 0 -2.5 0M241.9 346.67a1.25 1.25 0 1 0 2.5 0a1.25 1.25 0 1 0 -2.5 0M242.45 345.41a1.25 1.25 0 1 0 2.5 0a1.25 1.25 0 1 0 -2.5 0M243 345.57a1.25 1.25 0 1 0 2.5 0a1.25 1.25 0 1 0 -2.5 0M243.55 344.9a1.25 1.25 0 1 0 2.5 0a1.25 1.25 0 1 0 -2.5 0M244.1 345.22a1.25 1.25 0 1 0 2.5 0a1.25 1.25 0 1 0 -2.5 0M244.65 344.86a1.25 1.25 0 1 0 2.5 0a1.25 1.25 0 1 0 -2.5 0M245.2 343.45a1.25 1.25 0 1 0 2.5 0a1.25 1.25 0 1 0 -2.5 0M245.75 343.46a1.25 1.25 0 1 0 2.5 0a1.25 1.25 0 1 0 -2.5 0M246.3 343.68a1.25 1.25 0 1 0 2.5 0a1.25 1.25 0 1 0 -2.5 0M246.85 343.46a1.25 1.25 0 1 0 2.5 0a1.25 1.25 0 1 0 -2.5 0M247.4 343.19a1.25 1.25 0 1 0 2.5 0a1.25 1.25 0 1 0 -2.5 0M247.95 342.71a1.25 1.25 0 1 0 2.5 0a1.25 1.25 0 1 0 -2.5 0M248.5 342.62a1.25 1.25 0 1 0 2.5 0a1.25 1.25 0 1 0 -2.5 0M249.05 342.45a1.25 1.25 0 1 0 2.5 0a1.25 1.25 0 1 0 -2.5 0M249.6 341.99a1.25 1.25 0 1 0 2.5 0a1.25 1.25 0 1 0 -2.5 0M250.15 342.09a1.25 1.25 0 1 0 2.5 0a1.25 1.25 0 1 0 -2.5 0M250.7 340.87a1.25 1.25 0 1 0 2.5 0a1.25 1.25 0 1 0 -2.5 0M251.25 341.51a1.25 1.25 0 1 0 2.5 0a1.25 1.25 0 1 0 -2.5 0M251.8 340.77a1.25 1.25 0 1 0 2.5 0a1.25 1.25 0 1 0 -2.5 0M252.35 341.13a1.25 1.25 0 1 0 2.5 0a1.25 1.25 0 1 0 -2.5 0M252.9 340.52a1.25 1.25 0 1 0 2.5 0a1.25 1.25 0 1 0 -2.5 0M253.45 340.07a1.25 1.25 0 1 0 2.5 0a1.25 1.25 0 1 0 -2.5 0M254 340.19a1.25 1.25 0 1 0 2.5 0a1.25 1.25 0 1 0 -2.5 0M254.55 339.54a1.25 1.25 0 1 0 2.5 0a1.25 1.25 0 1 0 -2.5 0M255.1 339.27a1.25 1.25 0 1 0 2.5 0a1.25 1.25 0 1 0 -2.5 0M255.65 338.8a1.25 1.25 0 1 0 2.5 0a1.25 1.25 0 1 0 -2.5 0M256.2 338.98a1.25 1.25 0 1 0 2.5 0a1.25 1.25 0 1 0 -2.5 0M256.75 338.85a1.25 1.25 0 1 0 2.5 0a1.25 1.25 0 1 0 -2.5 0M257.3 338.72a1.25 1.25 0 1 0 2.5 0a1.25 1.25 0 1 0 -2.5 0M257.85 338.08a1.25 1.25 0 1 0 2.5 0a1.25 1.25 0 1 0 -2.5 0M258.4 338.15a1.25 1.25 0 1 0 2.5 0a1.25 1.25 0 1 0 -2.5 0M258.95 337.54a1.25 1.25 0 1 0 2.5 0a1.25 1.25 0 1 0 -2.5 0M259.5 337.19a1.25 1.25 0 1 0 2.5 0a1.25 1.25 0 1 0 -2.5 0M260.05 337.06a1.25 1.25 0 1 0 2.5 0a1.25 1.25 0 1 0 -2.5 0M260.6 336.86a1.25 1.25 0 1 0 2.5 0a1.25 1.25 0 1 0 -2.5 0M261.15 336.08a1.25 1.25 0 1 0 2.5 0a1.25 1.25 0 1 0 -2.5 0M261.7 335.73a1.25 1.25 0 1 0 2.5 0a1.25 1.25 0 1 0 -2.5 0M262.25 335.37a1.25 1.25 0 1 0 2.5 0a1.25 1.25 0 1 0 -2.5 0M262.8 335.04a1.25 1.25 0 1 0 2.5 0a1.25 1.25 0 1 0 -2.5 0M263.35 334.33a1.25 1.25 0 1 0 2.5 0a1.25 1.25 0 1 0 -2.5 0M263.9 334.47a1.25 1.25 0 1 0 2.5 0a1.25 1.25 0 1 0 -2.5 0M264.45 333.57a1.25 1.25 0 1 0 2.5 0a1.25 1.25 0 1 0 -2.5 0M265 333.35a1.25 1.25 0 1 0 2.5 0a1.25 1.25 0 1 0 -2.5 0M265.55 332.45a1.25 1.25 0 1 0 2.5 0a1.25 1.25 0 1 0 -2.5 0M266.1 332.26a1.25 1.25 0 1 0 2.5 0a1.25 1.25 0 1 0 -2.5 0M266.65 331.68a1.25 1.25 0 1 0 2.5 0a1.25 1.25 0 1 0 -2.5 0M267.2 330.81a1.25 1.25 0 1 0 2.5 0a1.25 1.25 0 1 0 -2.5 0M267.75 330.87a1.25 1.25 0 1 0 2.5 0a1.25 1.25 0 1 0 -2.5 0M268.3 329.67a1.25 1.25 0 1 0 2.5 0a1.25 1.25 0 1 0 -2.5 0M268.85 329.35a1.25 1.25 0 1 0 2.5 0a1.25 1.25 0 1 0 -2.5 0M269.4 328.32a1.25 1.25 0 1 0 2.5 0a1.25 1.25 0 1 0 -2.5 0M269.95 327.02a1.25 1.25 0 1 0 2.5 0a1.25 1.25 0 1 0 -2.5 0M270.5 326.26a1.25 1.25 0 1 0 2.5 0a1.25 1.25 0 1 0 -2.5 0M271.05 325.63a1.25 1.25 0 1 0 2.5 0a1.25 1.25 0 1 0 -2.5 0M271.6 324.6a1.25 1.25 0 1 0 2.5 0a1.25 1.25 0 1 0 -2.5 0M272.15 323.62a1.25 1.25 0 1 0 2.5 0a1.25 1.25 0 1 0 -2.5 0M272.7 322.47a1.25 1.25 0 1 0 2.5 0a1.25 1.25 0 1 0 -2.5 0M273.25 320.9a1.25 1.25 0 1 0 2.5 0a1.25 1.25 0 1 0 -2.5 0M273.8 320.18a1.25 1.25 0 1 0 2.5 0a1.25 1.25 0 1 0 -2.5 0M274.35 318.31a1.25 1.25 0 1 0 2.5 0a1.25 1.25 0 1 0 -2.5 0M274.9 317.73a1.25 1.25 0 1 0 2.5 0a1.25 1.25 0 1 0 -2.5 0M275.45 315.85a1.25 1.25 0 1 0 2.5 0a1.25 1.25 0 1 0 -2.5 0M276 314.12a1.25 1.25 0 1 0 2.5 0a1.25 1.25 0 1 0 -2.5 0M276.55 312.43a1.25 1.25 0 1 0 2.5 0a1.25 1.25 0 1 0 -2.5 0M277.1 310.67a1.25 1.25 0 1 0 2.5 0a1.25 1.25 0 1 0 -2.5 0M277.65 308.25a1.25 1.25 0 1 0 2.5 0a1.25 1.25 0 1 0 -2.5 0M278.2 306.31a1.25 1.25 0 1 0 2.5 0a1.25 1.25 0 1 0 -2.5 0M278.75 304.82a1.25 1.25 0 1 0 2.5 0a1.25 1.25 0 1 0 -2.5 0M279.3 302.91a1.25 1.25 0 1 0 2.5 0a1.25 1.25 0 1 0 -2.5 0M279.85 301.53a1.25 1.25 0 1 0 2.5 0a1.25 1.25 0 1 0 -2.5 0M280.4 300.36a1.25 1.25 0 1 0 2.5 0a1.25 1.25 0 1 0 -2.5 0M280.95 297.2a1.25 1.25 0 1 0 2.5 0a1.25 1.25 0 1 0 -2.5 0M281.5 294.27a1.25 1.25 0 1 0 2.5 0a1.25 1.25 0 1 0 -2.5 0M282.05 289.83a1.25 1.25 0 1 0 2.5 0a1.25 1.25 0 1 0 -2.5 0M282.6 287.18a1.25 1.25 0 1 0 2.5 0a1.25 1.25 0 1 0 -2.5 0M283.15 284.27a1.25 1.25 0 1 0 2.5 0a1.25 1.25 0 1 0 -2.5 0M283.7 281.54a1.25 1.25 0 1 0 2.5 0a1.25 1.25 0 1 0 -2.5 0M284.25 278.34a1.25 1.25 0 1 0 2.5 0a1.25 1.25 0 1 0 -2.5 0M284.8 274.51a1.25 1.25 0 1 0 2.5 0a1.25 1.25 0 1 0 -2.5 0M285.35 269.43a1.25 1.25 0 1 0 2.5 0a1.25 1.25 0 1 0 -2.5 0M285.9 264.79a1.25 1.25 0 1 0 2.5 0a1.25 1.25 0 1 0 -2.5 0M286.45 259.82a1.25 1.25 0 1 0 2.5 0a1.25 1.25 0 1 0 -2.5 0M287 255.46a1.25 1.25 0 1 0 2.5 0a1.25 1.25 0 1 0 -2.5 0M287.55 250.07a1.25 1.25 0 1 0 2.5 0a1.25 1.25 0 1 0 -2.5 0M288.1 244.91a1.25 1.25 0 1 0 2.5 0a1.25 1.25 0 1 0 -2.5 0M288.65 239.01a1.25 1.25 0 1 0 2.5 0a1.25 1.25 0 1 0 -2.5 0M289.2 233.8a1.25 1.25 0 1 0 2.5 0a1.25 1.25 0 1 0 -2.5 0M289.75 226.92a1.25 1.25 0 1 0 2.5 0a1.25 1.25 0 1 0 -2.5 0M290.3 221.88a1.25 1.25 0 1 0 2.5 0a1.25 1.25 0 1 0 -2.5 0M290.85 216.97a1.25 1.25 0 1 0 2.5 0a1.25 1.25 0 1 0 -2.5 0M291.4 212.09a1.25 1.25 0 1 0 2.5 0a1.25 1.25 0 1 0 -2.5 0M291.95 208.26a1.25 1.25 0 1 0 2.5 0a1.25 1.25 0 1 0 -2.5 0M292.5 205.75a1.25 1.25 0 1 0 2.5 0a1.25 1.25 0 1 0 -2.5 0M293.05 205.7a1.25 1.25 0 1 0 2.5 0a1.25 1.25 0 1 0 -2.5 0M293.6 207.08a1.25 1.25 0 1 0 2.5 0a1.25 1.25 0 1 0 -2.5 0M294.15 209.88a1.25 1.25 0 1 0 2.5 0a1.25 1.25 0 1 0 -2.5 0M294.7 211.95a1.25 1.25 0 1 0 2.5 0a1.25 1.25 0 1 0 -2.5 0M295.25 214.24a1.25 1.25 0 1 0 2.5 0a1.25 1.25 0 1 0 -2.5 0M295.8 217.42a1.25 1.25 0 1 0 2.5 0a1.25 1.25 0 1 0 -2.5 0M296.35 220.48a1.25 1.25 0 1 0 2.5 0a1.25 1.25 0 1 0 -2.5 0M296.9 223.78a1.25 1.25 0 1 0 2.5 0a1.25 1.25 0 1 0 -2.5 0M297.45 226.33a1.25 1.25 0 1 0 2.5 0a1.25 1.25 0 1 0 -2.5 0M298 229.52a1.25 1.25 0 1 0 2.5 0a1.25 1.25 0 1 0 -2.5 0M298.55 233.82a1.25 1.25 0 1 0 2.5 0a1.25 1.25 0 1 0 -2.5 0M299.1 239.96a1.25 1.25 0 1 0 2.5 0a1.25 1.25 0 1 0 -2.5 0M299.65 247.22a1.25 1.25 0 1 0 2.5 0a1.25 1.25 0 1 0 -2.5 0M300.2 254.55a1.25 1.25 0 1 0 2.5 0a1.25 1.25 0 1 0 -2.5 0M300.75 261.87a1.25 1.25 0 1 0 2.5 0a1.25 1.25 0 1 0 -2.5 0M301.3 269.46a1.25 1.25 0 1 0 2.5 0a1.25 1.25 0 1 0 -2.5 0M301.85 276.63a1.25 1.25 0 1 0 2.5 0a1.25 1.25 0 1 0 -2.5 0M302.4 282.7a1.25 1.25 0 1 0 2.5 0a1.25 1.25 0 1 0 -2.5 0M302.95 285.81a1.25 1.25 0 1 0 2.5 0a1.25 1.25 0 1 0 -2.5 0M303.5 288.81a1.25 1.25 0 1 0 2.5 0a1.25 1.25 0 1 0 -2.5 0M304.05 290.71a1.25 1.25 0 1 0 2.5 0a1.25 1.25 0 1 0 -2.5 0M304.6 291.2a1.25 1.25 0 1 0 2.5 0a1.25 1.25 0 1 0 -2.5 0M305.15 290.85a1.25 1.25 0 1 0 2.5 0a1.25 1.25 0 1 0 -2.5 0M305.7 291.24a1.25 1.25 0 1 0 2.5 0a1.25 1.25 0 1 0 -2.5 0M306.25 290.96a1.25 1.25 0 1 0 2.5 0a1.25 1.25 0 1 0 -2.5 0M306.8 290.57a1.25 1.25 0 1 0 2.5 0a1.25 1.25 0 1 0 -2.5 0M307.35 291.11a1.25 1.25 0 1 0 2.5 0a1.25 1.25 0 1 0 -2.5 0M307.9 293.33a1.25 1.25 0 1 0 2.5 0a1.25 1.25 0 1 0 -2.5 0M308.45 295.33a1.25 1.25 0 1 0 2.5 0a1.25 1.25 0 1 0 -2.5 0M309 298.55a1.25 1.25 0 1 0 2.5 0a1.25 1.25 0 1 0 -2.5 0M309.55 300.29a1.25 1.25 0 1 0 2.5 0a1.25 1.25 0 1 0 -2.5 0M310.1 304.41a1.25 1.25 0 1 0 2.5 0a1.25 1.25 0 1 0 -2.5 0M310.65 308.33a1.25 1.25 0 1 0 2.5 0a1.25 1.25 0 1 0 -2.5 0M311.2 311.45a1.25 1.25 0 1 0 2.5 0a1.25 1.25 0 1 0 -2.5 0M311.75 314.48a1.25 1.25 0 1 0 2.5 0a1.25 1.25 0 1 0 -2.5 0M312.3 317.17a1.25 1.25 0 1 0 2.5 0a1.25 1.25 0 1 0 -2.5 0M312.85 319.33a1.25 1.25 0 1 0 2.5 0a1.25 1.25 0 1 0 -2.5 0M313.4 321.78a1.25 1.25 0 1 0 2.5 0a1.25 1.25 0 1 0 -2.5 0M313.95 322.64a1.25 1.25 0 1 0 2.5 0a1.25 1.25 0 1 0 -2.5 0M314.5 324.87a1.25 1.25 0 1 0 2.5 0a1.25 1.25 0 1 0 -2.5 0M315.05 325.99a1.25 1.25 0 1 0 2.5 0a1.25 1.25 0 1 0 -2.5 0M315.6 327.44a1.25 1.25 0 1 0 2.5 0a1.25 1.25 0 1 0 -2.5 0M316.15 328.54a1.25 1.25 0 1 0 2.5 0a1.25 1.25 0 1 0 -2.5 0M316.7 329.15a1.25 1.25 0 1 0 2.5 0a1.25 1.25 0 1 0 -2.5 0M317.25 330.04a1.25 1.25 0 1 0 2.5 0a1.25 1.25 0 1 0 -2.5 0M317.8 331.17a1.25 1.25 0 1 0 2.5 0a1.25 1.25 0 1 0 -2.5 0M318.35 331.67a1.25 1.25 0 1 0 2.5 0a1.25 1.25 0 1 0 -2.5 0M318.9 331.95a1.25 1.25 0 1 0 2.5 0a1.25 1.25 0 1 0 -2.5 0M319.45 333.3a1.25 1.25 0 1 0 2.5 0a1.25 1.25 0 1 0 -2.5 0M320 333.88a1.25 1.25 0 1 0 2.5 0a1.25 1.25 0 1 0 -2.5 0M320.55 333.2a1.25 1.25 0 1 0 2.5 0a1.25 1.25 0 1 0 -2.5 0M321.1 334.14a1.25 1.25 0 1 0 2.5 0a1.25 1.25 0 1 0 -2.5 0M321.65 335.19a1.25 1.25 0 1 0 2.5 0a1.25 1.25 0 1 0 -2.5 0M322.2 335.02a1.25 1.25 0 1 0 2.5 0a1.25 1.25 0 1 0 -2.5 0M322.75 335.17a1.25 1.25 0 1 0 2.5 0a1.25 1.25 0 1 0 -2.5 0M323.3 335.35a1.25 1.25 0 1 0 2.5 0a1.25 1.25 0 1 0 -2.5 0M323.85 335.53a1.25 1.25 0 1 0 2.5 0a1.25 1.25 0 1 0 -2.5 0M324.4 335.89a1.25 1.25 0 1 0 2.5 0a1.25 1.25 0 1 0 -2.5 0M324.95 336.04a1.25 1.25 0 1 0 2.5 0a1.25 1.25 0 1 0 -2.5 0M325.5 336.67a1.25 1.25 0 1 0 2.5 0a1.25 1.25 0 1 0 -2.5 0M326.05 336.57a1.25 1.25 0 1 0 2.5 0a1.25 1.25 0 1 0 -2.5 0M326.6 336.8a1.25 1.25 0 1 0 2.5 0a1.25 1.25 0 1 0 -2.5 0M327.15 336.82a1.25 1.25 0 1 0 2.5 0a1.25 1.25 0 1 0 -2.5 0M327.7 337.4a1.25 1.25 0 1 0 2.5 0a1.25 1.25 0 1 0 -2.5 0M328.25 337.38a1.25 1.25 0 1 0 2.5 0a1.25 1.25 0 1 0 -2.5 0M328.8 337.83a1.25 1.25 0 1 0 2.5 0a1.25 1.25 0 1 0 -2.5 0M329.35 338.42a1.25 1.25 0 1 0 2.5 0a1.25 1.25 0 1 0 -2.5 0M329.9 338.44a1.25 1.25 0 1 0 2.5 0a1.25 1.25 0 1 0 -2.5 0M330.45 338.69a1.25 1.25 0 1 0 2.5 0a1.25 1.25 0 1 0 -2.5 0M331 338.85a1.25 1.25 0 1 0 2.5 0a1.25 1.25 0 1 0 -2.5 0M331.55 338.95a1.25 1.25 0 1 0 2.5 0a1.25 1.25 0 1 0 -2.5 0M332.1 339.08a1.25 1.25 0 1 0 2.5 0a1.25 1.25 0 1 0 -2.5 0M332.65 339.2a1.25 1.25 0 1 0 2.5 0a1.25 1.25 0 1 0 -2.5 0M333.2 339.69a1.25 1.25 0 1 0 2.5 0a1.25 1.25 0 1 0 -2.5 0M333.75 339.31a1.25 1.25 0 1 0 2.5 0a1.25 1.25 0 1 0 -2.5 0M334.3 340.2a1.25 1.25 0 1 0 2.5 0a1.25 1.25 0 1 0 -2.5 0M334.85 339.96a1.25 1.25 0 1 0 2.5 0a1.25 1.25 0 1 0 -2.5 0M335.4 339.88a1.25 1.25 0 1 0 2.5 0a1.25 1.25 0 1 0 -2.5 0M335.95 340.11a1.25 1.25 0 1 0 2.5 0a1.25 1.25 0 1 0 -2.5 0M336.5 340.2a1.25 1.25 0 1 0 2.5 0a1.25 1.25 0 1 0 -2.5 0M337.05 340.6a1.25 1.25 0 1 0 2.5 0a1.25 1.25 0 1 0 -2.5 0M337.6 340.48a1.25 1.25 0 1 0 2.5 0a1.25 1.25 0 1 0 -2.5 0M338.15 341.19a1.25 1.25 0 1 0 2.5 0a1.25 1.25 0 1 0 -2.5 0M338.7 340.75a1.25 1.25 0 1 0 2.5 0a1.25 1.25 0 1 0 -2.5 0M339.25 340.45a1.25 1.25 0 1 0 2.5 0a1.25 1.25 0 1 0 -2.5 0M339.8 341.05a1.25 1.25 0 1 0 2.5 0a1.25 1.25 0 1 0 -2.5 0M340.35 340.81a1.25 1.25 0 1 0 2.5 0a1.25 1.25 0 1 0 -2.5 0M340.9 341.55a1.25 1.25 0 1 0 2.5 0a1.25 1.25 0 1 0 -2.5 0M341.45 342.01a1.25 1.25 0 1 0 2.5 0a1.25 1.25 0 1 0 -2.5 0M342 342.03a1.25 1.25 0 1 0 2.5 0a1.25 1.25 0 1 0 -2.5 0M342.55 341.57a1.25 1.25 0 1 0 2.5 0a1.25 1.25 0 1 0 -2.5 0M343.1 341.88a1.25 1.25 0 1 0 2.5 0a1.25 1.25 0 1 0 -2.5 0M343.65 342.78a1.25 1.25 0 1 0 2.5 0a1.25 1.25 0 1 0 -2.5 0M344.2 342.47a1.25 1.25 0 1 0 2.5 0a1.25 1.25 0 1 0 -2.5 0M344.75 342.51a1.25 1.25 0 1 0 2.5 0a1.25 1.25 0 1 0 -2.5 0M345.3 342.95a1.25 1.25 0 1 0 2.5 0a1.25 1.25 0 1 0 -2.5 0M345.85 343.5a1.25 1.25 0 1 0 2.5 0a1.25 1.25 0 1 0 -2.5 0M346.4 343.28a1.25 1.25 0 1 0 2.5 0a1.25 1.25 0 1 0 -2.5 0M346.95 343.05a1.25 1.25 0 1 0 2.5 0a1.25 1.25 0 1 0 -2.5 0M347.5 343.24a1.25 1.25 0 1 0 2.5 0a1.25 1.25 0 1 0 -2.5 0M348.05 343.44a1.25 1.25 0 1 0 2.5 0a1.25 1.25 0 1 0 -2.5 0M348.6 343.18a1.25 1.25 0 1 0 2.5 0a1.25 1.25 0 1 0 -2.5 0M349.15 343.17a1.25 1.25 0 1 0 2.5 0a1.25 1.25 0 1 0 -2.5 0M349.7 343.62a1.25 1.25 0 1 0 2.5 0a1.25 1.25 0 1 0 -2.5 0M350.25 343.44a1.25 1.25 0 1 0 2.5 0a1.25 1.25 0 1 0 -2.5 0M350.8 343.83a1.25 1.25 0 1 0 2.5 0a1.25 1.25 0 1 0 -2.5 0M351.35 344.01a1.25 1.25 0 1 0 2.5 0a1.25 1.25 0 1 0 -2.5 0M351.9 344.8a1.25 1.25 0 1 0 2.5 0a1.25 1.25 0 1 0 -2.5 0M352.45 343.96a1.25 1.25 0 1 0 2.5 0a1.25 1.25 0 1 0 -2.5 0M353 344.29a1.25 1.25 0 1 0 2.5 0a1.25 1.25 0 1 0 -2.5 0M353.55 344.37a1.25 1.25 0 1 0 2.5 0a1.25 1.25 0 1 0 -2.5 0M354.1 344.64a1.25 1.25 0 1 0 2.5 0a1.25 1.25 0 1 0 -2.5 0M354.65 344.9a1.25 1.25 0 1 0 2.5 0a1.25 1.25 0 1 0 -2.5 0M355.2 344.51a1.25 1.25 0 1 0 2.5 0a1.25 1.25 0 1 0 -2.5 0M355.75 344.45a1.25 1.25 0 1 0 2.5 0a1.25 1.25 0 1 0 -2.5 0M356.3 344.24a1.25 1.25 0 1 0 2.5 0a1.25 1.25 0 1 0 -2.5 0M356.85 344.5a1.25 1.25 0 1 0 2.5 0a1.25 1.25 0 1 0 -2.5 0M357.4 344.97a1.25 1.25 0 1 0 2.5 0a1.25 1.25 0 1 0 -2.5 0M357.95 344.86a1.25 1.25 0 1 0 2.5 0a1.25 1.25 0 1 0 -2.5 0M358.5 344.57a1.25 1.25 0 1 0 2.5 0a1.25 1.25 0 1 0 -2.5 0M359.05 344.79a1.25 1.25 0 1 0 2.5 0a1.25 1.25 0 1 0 -2.5 0M359.6 344.95a1.25 1.25 0 1 0 2.5 0a1.25 1.25 0 1 0 -2.5 0M360.15 345.12a1.25 1.25 0 1 0 2.5 0a1.25 1.25 0 1 0 -2.5 0M360.7 344.81a1.25 1.25 0 1 0 2.5 0a1.25 1.25 0 1 0 -2.5 0M361.25 344.94a1.25 1.25 0 1 0 2.5 0a1.25 1.25 0 1 0 -2.5 0M361.8 344.5a1.25 1.25 0 1 0 2.5 0a1.25 1.25 0 1 0 -2.5 0M362.35 344.72a1.25 1.25 0 1 0 2.5 0a1.25 1.25 0 1 0 -2.5 0M362.9 345.57a1.25 1.25 0 1 0 2.5 0a1.25 1.25 0 1 0 -2.5 0M363.45 344.45a1.25 1.25 0 1 0 2.5 0a1.25 1.25 0 1 0 -2.5 0M364 345.02a1.25 1.25 0 1 0 2.5 0a1.25 1.25 0 1 0 -2.5 0M364.55 345.21a1.25 1.25 0 1 0 2.5 0a1.25 1.25 0 1 0 -2.5 0M365.1 345.04a1.25 1.25 0 1 0 2.5 0a1.25 1.25 0 1 0 -2.5 0M365.65 344.92a1.25 1.25 0 1 0 2.5 0a1.25 1.25 0 1 0 -2.5 0M366.2 345.16a1.25 1.25 0 1 0 2.5 0a1.25 1.25 0 1 0 -2.5 0M366.75 345.18a1.25 1.25 0 1 0 2.5 0a1.25 1.25 0 1 0 -2.5 0M367.3 345.17a1.25 1.25 0 1 0 2.5 0a1.25 1.25 0 1 0 -2.5 0M367.85 344.63a1.25 1.25 0 1 0 2.5 0a1.25 1.25 0 1 0 -2.5 0M368.4 345.16a1.25 1.25 0 1 0 2.5 0a1.25 1.25 0 1 0 -2.5 0M368.95 344.94a1.25 1.25 0 1 0 2.5 0a1.25 1.25 0 1 0 -2.5 0M369.5 345.04a1.25 1.25 0 1 0 2.5 0a1.25 1.25 0 1 0 -2.5 0M370.05 345.27a1.25 1.25 0 1 0 2.5 0a1.25 1.25 0 1 0 -2.5 0M370.6 345.39a1.25 1.25 0 1 0 2.5 0a1.25 1.25 0 1 0 -2.5 0M371.15 345.47a1.25 1.25 0 1 0 2.5 0a1.25 1.25 0 1 0 -2.5 0M371.7 345.05a1.25 1.25 0 1 0 2.5 0a1.25 1.25 0 1 0 -2.5 0M372.25 345.48a1.25 1.25 0 1 0 2.5 0a1.25 1.25 0 1 0 -2.5 0M372.8 345.55a1.25 1.25 0 1 0 2.5 0a1.25 1.25 0 1 0 -2.5 0M373.35 345.54a1.25 1.25 0 1 0 2.5 0a1.25 1.25 0 1 0 -2.5 0M373.9 345.62a1.25 1.25 0 1 0 2.5 0a1.25 1.25 0 1 0 -2.5 0M374.45 345.16a1.25 1.25 0 1 0 2.5 0a1.25 1.25 0 1 0 -2.5 0M375 345.15a1.25 1.25 0 1 0 2.5 0a1.25 1.25 0 1 0 -2.5 0M375.55 345.45a1.25 1.25 0 1 0 2.5 0a1.25 1.25 0 1 0 -2.5 0M376.1 344.79a1.25 1.25 0 1 0 2.5 0a1.25 1.25 0 1 0 -2.5 0M376.65 345.26a1.25 1.25 0 1 0 2.5 0a1.25 1.25 0 1 0 -2.5 0M377.2 345.04a1.25 1.25 0 1 0 2.5 0a1.25 1.25 0 1 0 -2.5 0M377.75 345.09a1.25 1.25 0 1 0 2.5 0a1.25 1.25 0 1 0 -2.5 0M378.3 344.68a1.25 1.25 0 1 0 2.5 0a1.25 1.25 0 1 0 -2.5 0M378.85 344.93a1.25 1.25 0 1 0 2.5 0a1.25 1.25 0 1 0 -2.5 0M379.4 345.19a1.25 1.25 0 1 0 2.5 0a1.25 1.25 0 1 0 -2.5 0M379.95 345.47a1.25 1.25 0 1 0 2.5 0a1.25 1.25 0 1 0 -2.5 0M380.5 345.5a1.25 1.25 0 1 0 2.5 0a1.25 1.25 0 1 0 -2.5 0M381.05 345.18a1.25 1.25 0 1 0 2.5 0a1.25 1.25 0 1 0 -2.5 0M381.6 345.14a1.25 1.25 0 1 0 2.5 0a1.25 1.25 0 1 0 -2.5 0M382.15 344.95a1.25 1.25 0 1 0 2.5 0a1.25 1.25 0 1 0 -2.5 0M382.7 345.32a1.25 1.25 0 1 0 2.5 0a1.25 1.25 0 1 0 -2.5 0M383.25 345.13a1.25 1.25 0 1 0 2.5 0a1.25 1.25 0 1 0 -2.5 0M383.8 345.38a1.25 1.25 0 1 0 2.5 0a1.25 1.25 0 1 0 -2.5 0M384.35 345.72a1.25 1.25 0 1 0 2.5 0a1.25 1.25 0 1 0 -2.5 0M384.9 345.18a1.25 1.25 0 1 0 2.5 0a1.25 1.25 0 1 0 -2.5 0M385.45 344.73a1.25 1.25 0 1 0 2.5 0a1.25 1.25 0 1 0 -2.5 0M386 344.91a1.25 1.25 0 1 0 2.5 0a1.25 1.25 0 1 0 -2.5 0M386.55 344.71a1.25 1.25 0 1 0 2.5 0a1.25 1.25 0 1 0 -2.5 0M387.1 344.77a1.25 1.25 0 1 0 2.5 0a1.25 1.25 0 1 0 -2.5 0M387.65 345.49a1.25 1.25 0 1 0 2.5 0a1.25 1.25 0 1 0 -2.5 0M388.2 345.14a1.25 1.25 0 1 0 2.5 0a1.25 1.25 0 1 0 -2.5 0M388.75 344.59a1.25 1.25 0 1 0 2.5 0a1.25 1.25 0 1 0 -2.5 0M389.3 345.21a1.25 1.25 0 1 0 2.5 0a1.25 1.25 0 1 0 -2.5 0M389.85 345.36a1.25 1.25 0 1 0 2.5 0a1.25 1.25 0 1 0 -2.5 0M390.4 344.83a1.25 1.25 0 1 0 2.5 0a1.25 1.25 0 1 0 -2.5 0M390.95 344.7a1.25 1.25 0 1 0 2.5 0a1.25 1.25 0 1 0 -2.5 0M391.5 344.76a1.25 1.25 0 1 0 2.5 0a1.25 1.25 0 1 0 -2.5 0M392.05 344.9a1.25 1.25 0 1 0 2.5 0a1.25 1.25 0 1 0 -2.5 0M392.6 344.96a1.25 1.25 0 1 0 2.5 0a1.25 1.25 0 1 0 -2.5 0M393.15 345.06a1.25 1.25 0 1 0 2.5 0a1.25 1.25 0 1 0 -2.5 0M393.7 344.99a1.25 1.25 0 1 0 2.5 0a1.25 1.25 0 1 0 -2.5 0M394.25 344.88a1.25 1.25 0 1 0 2.5 0a1.25 1.25 0 1 0 -2.5 0M394.8 344.79a1.25 1.25 0 1 0 2.5 0a1.25 1.25 0 1 0 -2.5 0M395.35 344.29a1.25 1.25 0 1 0 2.5 0a1.25 1.25 0 1 0 -2.5 0M395.9 343.17a1.25 1.25 0 1 0 2.5 0a1.25 1.25 0 1 0 -2.5 0M396.45 343.05a1.25 1.25 0 1 0 2.5 0a1.25 1.25 0 1 0 -2.5 0M397 342.64a1.25 1.25 0 1 0 2.5 0a1.25 1.25 0 1 0 -2.5 0M397.55 341.79a1.25 1.25 0 1 0 2.5 0a1.25 1.25 0 1 0 -2.5 0M398.1 341.51a1.25 1.25 0 1 0 2.5 0a1.25 1.25 0 1 0 -2.5 0M398.65 340.57a1.25 1.25 0 1 0 2.5 0a1.25 1.25 0 1 0 -2.5 0M399.2 339.97a1.25 1.25 0 1 0 2.5 0a1.25 1.25 0 1 0 -2.5 0M399.75 340.25a1.25 1.25 0 1 0 2.5 0a1.25 1.25 0 1 0 -2.5 0M400.3 339.63a1.25 1.25 0 1 0 2.5 0a1.25 1.25 0 1 0 -2.5 0M400.85 339.19a1.25 1.25 0 1 0 2.5 0a1.25 1.25 0 1 0 -2.5 0M401.4 339.21a1.25 1.25 0 1 0 2.5 0a1.25 1.25 0 1 0 -2.5 0M401.95 339.23a1.25 1.25 0 1 0 2.5 0a1.25 1.25 0 1 0 -2.5 0M402.5 339.15a1.25 1.25 0 1 0 2.5 0a1.25 1.25 0 1 0 -2.5 0M403.05 338.55a1.25 1.25 0 1 0 2.5 0a1.25 1.25 0 1 0 -2.5 0M403.6 339.39a1.25 1.25 0 1 0 2.5 0a1.25 1.25 0 1 0 -2.5 0M404.15 339.77a1.25 1.25 0 1 0 2.5 0a1.25 1.25 0 1 0 -2.5 0M404.7 339.88a1.25 1.25 0 1 0 2.5 0a1.25 1.25 0 1 0 -2.5 0M405.25 340.48a1.25 1.25 0 1 0 2.5 0a1.25 1.25 0 1 0 -2.5 0M405.8 341.02a1.25 1.25 0 1 0 2.5 0a1.25 1.25 0 1 0 -2.5 0M406.35 340.76a1.25 1.25 0 1 0 2.5 0a1.25 1.25 0 1 0 -2.5 0M406.9 340.79a1.25 1.25 0 1 0 2.5 0a1.25 1.25 0 1 0 -2.5 0M407.45 341.93a1.25 1.25 0 1 0 2.5 0a1.25 1.25 0 1 0 -2.5 0M408 341.32a1.25 1.25 0 1 0 2.5 0a1.25 1.25 0 1 0 -2.5 0M408.55 341.21a1.25 1.25 0 1 0 2.5 0a1.25 1.25 0 1 0 -2.5 0M409.1 341.76a1.25 1.25 0 1 0 2.5 0a1.25 1.25 0 1 0 -2.5 0M409.65 341.91a1.25 1.25 0 1 0 2.5 0a1.25 1.25 0 1 0 -2.5 0M410.2 341.66a1.25 1.25 0 1 0 2.5 0a1.25 1.25 0 1 0 -2.5 0M410.75 342.18a1.25 1.25 0 1 0 2.5 0a1.25 1.25 0 1 0 -2.5 0M411.3 341.86a1.25 1.25 0 1 0 2.5 0a1.25 1.25 0 1 0 -2.5 0M411.85 341.78a1.25 1.25 0 1 0 2.5 0a1.25 1.25 0 1 0 -2.5 0M412.4 342.16a1.25 1.25 0 1 0 2.5 0a1.25 1.25 0 1 0 -2.5 0M412.95 342.38a1.25 1.25 0 1 0 2.5 0a1.25 1.25 0 1 0 -2.5 0M413.5 342a1.25 1.25 0 1 0 2.5 0a1.25 1.25 0 1 0 -2.5 0M414.05 342.33a1.25 1.25 0 1 0 2.5 0a1.25 1.25 0 1 0 -2.5 0M414.6 342.24a1.25 1.25 0 1 0 2.5 0a1.25 1.25 0 1 0 -2.5 0M415.15 343.14a1.25 1.25 0 1 0 2.5 0a1.25 1.25 0 1 0 -2.5 0M415.7 342.12a1.25 1.25 0 1 0 2.5 0a1.25 1.25 0 1 0 -2.5 0M416.25 342.78a1.25 1.25 0 1 0 2.5 0a1.25 1.25 0 1 0 -2.5 0M416.8 342.37a1.25 1.25 0 1 0 2.5 0a1.25 1.25 0 1 0 -2.5 0M417.35 342.38a1.25 1.25 0 1 0 2.5 0a1.25 1.25 0 1 0 -2.5 0M417.9 342.67a1.25 1.25 0 1 0 2.5 0a1.25 1.25 0 1 0 -2.5 0M418.45 342.75a1.25 1.25 0 1 0 2.5 0a1.25 1.25 0 1 0 -2.5 0M419 342.9a1.25 1.25 0 1 0 2.5 0a1.25 1.25 0 1 0 -2.5 0M419.55 342.65a1.25 1.25 0 1 0 2.5 0a1.25 1.25 0 1 0 -2.5 0M420.1 342.4a1.25 1.25 0 1 0 2.5 0a1.25 1.25 0 1 0 -2.5 0M420.65 342.45a1.25 1.25 0 1 0 2.5 0a1.25 1.25 0 1 0 -2.5 0M421.2 342.8a1.25 1.25 0 1 0 2.5 0a1.25 1.25 0 1 0 -2.5 0M421.75 342.85a1.25 1.25 0 1 0 2.5 0a1.25 1.25 0 1 0 -2.5 0M422.3 343.13a1.25 1.25 0 1 0 2.5 0a1.25 1.25 0 1 0 -2.5 0M422.85 342.87a1.25 1.25 0 1 0 2.5 0a1.25 1.25 0 1 0 -2.5 0M423.4 343.09a1.25 1.25 0 1 0 2.5 0a1.25 1.25 0 1 0 -2.5 0M423.95 343.26a1.25 1.25 0 1 0 2.5 0a1.25 1.25 0 1 0 -2.5 0M424.5 342.88a1.25 1.25 0 1 0 2.5 0a1.25 1.25 0 1 0 -2.5 0M425.05 342.42a1.25 1.25 0 1 0 2.5 0a1.25 1.25 0 1 0 -2.5 0M425.6 342.54a1.25 1.25 0 1 0 2.5 0a1.25 1.25 0 1 0 -2.5 0M426.15 342.49a1.25 1.25 0 1 0 2.5 0a1.25 1.25 0 1 0 -2.5 0M426.7 343.43a1.25 1.25 0 1 0 2.5 0a1.25 1.25 0 1 0 -2.5 0M427.25 342.73a1.25 1.25 0 1 0 2.5 0a1.25 1.25 0 1 0 -2.5 0M427.8 343.38a1.25 1.25 0 1 0 2.5 0a1.25 1.25 0 1 0 -2.5 0M428.35 343.21a1.25 1.25 0 1 0 2.5 0a1.25 1.25 0 1 0 -2.5 0M428.9 343.58a1.25 1.25 0 1 0 2.5 0a1.25 1.25 0 1 0 -2.5 0M429.45 343.39a1.25 1.25 0 1 0 2.5 0a1.25 1.25 0 1 0 -2.5 0M430 343.09a1.25 1.25 0 1 0 2.5 0a1.25 1.25 0 1 0 -2.5 0M430.55 343.08a1.25 1.25 0 1 0 2.5 0a1.25 1.25 0 1 0 -2.5 0M431.1 343.2a1.25 1.25 0 1 0 2.5 0a1.25 1.25 0 1 0 -2.5 0M431.65 343.25a1.25 1.25 0 1 0 2.5 0a1.25 1.25 0 1 0 -2.5 0" fill="#18a3a3"/>
<text x="373.6" y="22.8" font-size="10.2" fill="#111" font-family='"Liberation Sans", sans-serif' textLength="51" lengthAdjust="spacingAndGlyphs" stroke="#111" stroke-width="0.22">PrNiO<tspan font-size="7" dy="2.6">2</tspan><tspan dy="-2.6">/STO</tspan></text>
<path d="M374.2 33.5H387.8" stroke="#4fa6c2" stroke-width="0.9"/><circle cx="381.1" cy="33.5" r="2.3" fill="#1f7f9f"/>
<path d="M374.2 46.8H387.8" stroke="#b07ff0" stroke-width="0.9"/><circle cx="381.1" cy="46.8" r="2.3" fill="#8a2be2"/>
<text x="390.4" y="36.6" font-size="10.2" fill="#111" font-family='"Liberation Sans", sans-serif'  stroke="#111" stroke-width="0.22">σ</text>
<text x="390.6" y="49.8" font-size="10.2" fill="#111" font-family='"Liberation Sans", sans-serif'  stroke="#111" stroke-width="0.22">π</text>
<text x="371.6" y="198.1" font-size="10.2" fill="#111" font-family='"Liberation Sans", sans-serif' textLength="54.3" lengthAdjust="spacingAndGlyphs" stroke="#111" stroke-width="0.22">PrNiO<tspan font-size="7" dy="2.6">2</tspan><tspan dy="-2.6">/LSAT</tspan></text>
<path d="M372.2 209.1H385.5" stroke="#4fa6c2" stroke-width="0.9"/><circle cx="378.9" cy="209.1" r="2.3" fill="#1f7f9f"/>
<path d="M372.2 222.3H385.5" stroke="#b07ff0" stroke-width="0.9"/><circle cx="378.9" cy="222.3" r="2.3" fill="#8a2be2"/>
<text x="388.2" y="212.2" font-size="10.2" fill="#111" font-family='"Liberation Sans", sans-serif'  stroke="#111" stroke-width="0.22">σ</text>
<text x="388.4" y="225.4" font-size="10.2" fill="#111" font-family='"Liberation Sans", sans-serif'  stroke="#111" stroke-width="0.22">π</text>
<text x="306.3" y="19.9" font-size="10.2" fill="#111" font-family='"Liberation Sans", sans-serif' stroke="#111" stroke-width="0.22">L<tspan font-size="7.8" dy="2.4">3</tspan></text>
<text x="399.5" y="113.9" font-size="10.2" fill="#111" font-family='"Liberation Sans", sans-serif' stroke="#111" stroke-width="0.22">L<tspan font-size="7.8" dy="2.4">2</tspan></text>
<text x="287.6" y="198.7" font-size="10.2" fill="#111" font-family='"Liberation Sans", sans-serif' stroke="#111" stroke-width="0.22">M<tspan font-size="7.8" dy="2.4">4</tspan></text>
<text x="306.5" y="279.8" font-size="10.2" fill="#111" font-family='"Liberation Sans", sans-serif' stroke="#111" stroke-width="0.22">L<tspan font-size="7.8" dy="2.4">3</tspan></text>
<text x="399.8" y="326.2" font-size="10.2" fill="#111" font-family='"Liberation Sans", sans-serif' stroke="#111" stroke-width="0.22">L<tspan font-size="7.8" dy="2.4">2</tspan></text>
<g clip-path="url(#clipe)">
<path d="M526.7 180.6L526.7 180.52L527.2 180.51L527.7 180.5L528.2 180.5L528.7 180.49L529.2 180.48L529.7 180.48L530.2 180.47L530.7 180.46L531.2 180.45L531.7 180.44L532.2 180.43L532.7 180.42L533.2 180.41L533.7 180.4L534.2 180.38L534.7 180.37L535.2 180.36L535.7 180.34L536.2 180.33L536.7 180.31L537.2 180.29L537.7 180.27L538.2 180.25L538.7 180.23L539.2 180.21L539.7 180.19L540.2 180.17L540.7 180.14L541.2 180.12L541.7 180.09L542.2 180.06L542.7 180.03L543.2 180L543.7 179.97L544.2 179.94L544.7 179.9L545.2 179.86L545.7 179.83L546.2 179.79L546.7 179.74L547.2 179.7L547.7 179.65L548.2 179.61L548.7 179.56L549.2 179.51L549.7 179.45L550.2 179.4L550.7 179.34L551.2 179.28L551.7 179.22L552.2 179.15L552.7 179.08L553.2 179.01L553.7 178.94L554.2 178.87L554.7 178.79L555.2 178.71L555.7 178.62L556.2 178.54L556.7 178.45L557.2 178.36L557.7 178.26L558.2 178.17L558.7 178.06L559.2 177.96L559.7 177.85L560.2 177.74L560.7 177.63L561.2 177.51L561.7 177.39L562.2 177.27L562.7 177.14L563.2 177.01L563.7 176.88L564.2 176.74L564.7 176.6L565.2 176.46L565.7 176.31L566.2 176.16L566.7 176L567.2 175.84L567.7 175.68L568.2 175.52L568.7 175.35L569.2 175.18L569.7 175L570.2 174.82L570.7 174.64L571.2 174.46L571.7 174.27L572.2 174.08L572.7 173.88L573.2 173.69L573.7 173.48L574.2 173.28L574.7 173.08L575.2 172.87L575.7 172.65L576.2 172.44L576.7 172.22L577.2 172L577.7 171.78L578.2 171.56L578.7 171.34L579.2 171.11L579.7 170.88L580.2 170.65L580.7 170.42L581.2 170.19L581.7 169.95L582.2 169.72L582.7 169.48L583.2 169.25L583.7 169.01L584.2 168.77L584.7 168.54L585.2 168.3L585.7 168.06L586.2 167.83L586.7 167.59L587.2 167.36L587.7 167.13L588.2 166.9L588.7 166.67L589.2 166.44L589.7 166.21L590.2 165.99L590.7 165.77L591.2 165.55L591.7 165.34L592.2 165.13L592.7 164.92L593.2 164.71L593.7 164.51L594.2 164.31L594.7 164.12L595.2 163.93L595.7 163.75L596.2 163.57L596.7 163.39L597.2 163.22L597.7 163.06L598.2 162.9L598.7 162.75L599.2 162.6L599.7 162.46L600.2 162.32L600.7 162.2L601.2 162.07L601.7 161.96L602.2 161.85L602.7 161.75L603.2 161.65L603.7 161.57L604.2 161.49L604.7 161.41L605.2 161.35L605.7 161.29L606.2 161.24L606.7 161.2L607.2 161.16L607.7 161.14L608.2 161.12L608.7 161.1L609.2 161.1L609.7 161.1L610.2 161.12L610.7 161.14L611.2 161.16L611.7 161.2L612.2 161.24L612.7 161.29L613.2 161.35L613.7 161.41L614.2 161.49L614.7 161.57L615.2 161.65L615.7 161.75L616.2 161.85L616.7 161.96L617.2 162.07L617.7 162.2L618.2 162.32L618.7 162.46L619.2 162.6L619.7 162.75L620.2 162.9L620.7 163.06L621.2 163.22L621.7 163.39L622.2 163.57L622.7 163.75L623.2 163.93L623.7 164.12L624.2 164.31L624.7 164.51L625.2 164.71L625.7 164.92L626.2 165.13L626.7 165.34L627.2 165.55L627.7 165.77L628.2 165.99L628.7 166.21L629.2 166.44L629.7 166.67L630.2 166.9L630.7 167.13L631.2 167.36L631.7 167.59L632.2 167.83L632.7 168.06L633.2 168.3L633.7 168.54L634.2 168.77L634.7 169.01L635.2 169.25L635.7 169.48L636.2 169.72L636.7 169.95L637.2 170.19L637.7 170.42L638.2 170.65L638.7 170.88L639.2 171.11L639.7 171.34L640.2 171.56L640.7 171.78L641.2 172L641.7 172.22L642.2 172.44L642.7 172.65L643.2 172.87L643.7 173.08L644.2 173.28L644.7 173.48L645.2 173.69L645.7 173.88L646.2 174.08L646.7 174.27L647.2 174.46L647.7 174.64L648.2 174.82L648.7 175L649.2 175.18L649.7 175.35L650.2 175.52L650.7 175.68L651.2 175.84L651.7 176L652.2 176.16L652.7 176.31L653.2 176.46L653.7 176.6L654.2 176.74L654.7 176.88L655.2 177.01L655.7 177.14L656.2 177.27L656.7 177.39L657.2 177.51L657.7 177.63L658.2 177.74L658.7 177.85L659.2 177.96L659.7 178.06L660.2 178.17L660.7 178.26L661.2 178.36L661.7 178.45L662.2 178.54L662.7 178.62L663.2 178.71L663.7 178.79L664.2 178.87L664.7 178.94L665.2 179.01L665.7 179.08L666.2 179.15L666.7 179.22L667.2 179.28L667.7 179.34L668.2 179.4L668.7 179.45L669.2 179.51L669.7 179.56L670.2 179.61L670.7 179.65L671.2 179.7L671.7 179.74L672.2 179.79L672.7 179.83L673.2 179.86L673.7 179.9L674.2 179.94L674.7 179.97L675.2 180L675.7 180.03L676.2 180.06L676.7 180.09L677.2 180.12L677.7 180.14L678.2 180.17L678.7 180.19L679.2 180.21L679.7 180.23L680.2 180.25L680.7 180.27L681.2 180.29L681.7 180.31L682.2 180.33L682.7 180.34L682.7 180.6Z" fill="url(#grek)"/>
<path d="M480.3 180.6L480.3 179.95L480.8 179.85L481.3 179.73L481.8 179.6L482.3 179.45L482.8 179.29L483.3 179.1L483.8 178.9L484.3 178.67L484.8 178.42L485.3 178.14L485.8 177.83L486.3 177.5L486.8 177.14L487.3 176.75L487.8 176.33L488.3 175.88L488.8 175.39L489.3 174.87L489.8 174.32L490.3 173.74L490.8 173.13L491.3 172.49L491.8 171.82L492.3 171.12L492.8 170.4L493.3 169.66L493.8 168.91L494.3 168.13L494.8 167.35L495.3 166.56L495.8 165.78L496.3 164.99L496.8 164.22L497.3 163.46L497.8 162.72L498.3 162L498.8 161.32L499.3 160.67L499.8 160.07L500.3 159.51L500.8 159L501.3 158.55L501.8 158.16L502.3 157.83L502.8 157.57L503.3 157.37L503.8 157.25L504.3 157.2L504.8 157.22L505.3 157.32L505.8 157.48L506.3 157.72L506.8 158.02L507.3 158.38L507.8 158.81L508.3 159.3L508.8 159.84L509.3 160.42L509.8 161.05L510.3 161.72L510.8 162.43L511.3 163.16L511.8 163.91L512.3 164.68L512.8 165.46L513.3 166.25L513.8 167.04L514.3 167.82L514.8 168.6L515.3 169.36L515.8 170.11L516.3 170.84L516.8 171.54L517.3 172.22L517.8 172.88L518.3 173.5L518.8 174.09L519.3 174.66L519.8 175.19L520.3 175.69L520.8 176.15L521.3 176.59L521.8 176.99L522.3 177.36L522.8 177.71L523.3 178.02L523.8 178.31L524.3 178.57L524.8 178.81L525.3 179.02L525.8 179.21L526.3 179.39L526.8 179.54L527.3 179.68L527.8 179.8L528.3 179.91L528.8 180.01L529.3 180.09L529.8 180.16L530.3 180.23L530.8 180.28L531.3 180.33L531.8 180.37L532.3 180.41L532.8 180.44L533.3 180.47L533.8 180.49L533.8 180.6Z" fill="url(#greg)"/>
<path d="M524.8 180.6L524.8 180.31L525.3 180.27L525.8 180.23L526.3 180.19L526.8 180.14L527.3 180.09L527.8 180.03L528.3 179.96L528.8 179.89L529.3 179.81L529.8 179.72L530.3 179.62L530.8 179.51L531.3 179.4L531.8 179.27L532.3 179.13L532.8 178.98L533.3 178.82L533.8 178.64L534.3 178.44L534.8 178.23L535.3 178.01L535.8 177.76L536.3 177.49L536.8 177.21L537.3 176.9L537.8 176.57L538.3 176.22L538.8 175.84L539.3 175.44L539.8 175.01L540.3 174.55L540.8 174.06L541.3 173.54L541.8 172.99L542.3 172.41L542.8 171.79L543.3 171.14L543.8 170.45L544.3 169.73L544.8 168.97L545.3 168.17L545.8 167.34L546.3 166.47L546.8 165.56L547.3 164.61L547.8 163.63L548.3 162.6L548.8 161.54L549.3 160.45L549.8 159.31L550.3 158.14L550.8 156.94L551.3 155.7L551.8 154.44L552.3 153.14L552.8 151.82L553.3 150.47L553.8 149.1L554.3 147.71L554.8 146.3L555.3 144.87L555.8 143.44L556.3 141.99L556.8 140.54L557.3 139.09L557.8 137.64L558.3 136.2L558.8 134.77L559.3 133.35L559.8 131.95L560.3 130.57L560.8 129.22L561.3 127.9L561.8 126.61L562.3 125.36L562.8 124.16L563.3 123L563.8 121.9L564.3 120.85L564.8 119.86L565.3 118.93L565.8 118.07L566.3 117.27L566.8 116.55L567.3 115.9L567.8 115.33L568.3 114.83L568.8 114.42L569.3 114.09L569.8 113.85L570.3 113.68L570.8 113.61L571.3 113.62L571.8 113.71L572.3 113.89L572.8 114.15L573.3 114.5L573.8 114.93L574.3 115.44L574.8 116.02L575.3 116.69L575.8 117.42L576.3 118.23L576.8 119.11L577.3 120.05L577.8 121.05L578.3 122.12L578.8 123.23L579.3 124.4L579.8 125.61L580.3 126.87L580.8 128.16L581.3 129.49L581.8 130.84L582.3 132.23L582.8 133.63L583.3 135.05L583.8 136.49L584.3 137.93L584.8 139.38L585.3 140.83L585.8 142.28L586.3 143.73L586.8 145.16L587.3 146.58L587.8 147.99L588.3 149.38L588.8 150.74L589.3 152.09L589.8 153.4L590.3 154.69L590.8 155.95L591.3 157.18L591.8 158.38L592.3 159.54L592.8 160.67L593.3 161.76L593.8 162.81L594.3 163.83L594.8 164.81L595.3 165.74L595.8 166.65L596.3 167.51L596.8 168.34L597.3 169.12L597.8 169.88L598.3 170.59L598.8 171.27L599.3 171.91L599.8 172.52L600.3 173.1L600.8 173.65L601.3 174.16L601.8 174.64L602.3 175.1L602.8 175.52L603.3 175.92L603.8 176.29L604.3 176.64L604.8 176.97L605.3 177.27L605.8 177.55L606.3 177.81L606.8 178.05L607.3 178.28L607.8 178.48L608.3 178.67L608.8 178.85L609.3 179.01L609.8 179.16L610.3 179.3L610.8 179.42L611.3 179.54L611.8 179.64L612.3 179.74L612.8 179.82L613.3 179.9L613.8 179.97L614.3 180.04L614.8 180.1L615.3 180.15L615.8 180.2L616.3 180.24L616.8 180.28L616.8 180.6Z" fill="url(#grev)"/>
<path d="M503.72 180.6L503.72 180.06L504.22 179.96L504.72 179.84L505.22 179.7L505.72 179.55L506.22 179.36L506.72 179.15L507.22 178.91L507.72 178.63L508.22 178.32L508.72 177.96L509.22 177.55L509.72 177.09L510.22 176.58L510.72 175.99L511.22 175.34L511.72 174.61L512.22 173.8L512.72 172.9L513.22 171.9L513.72 170.8L514.22 169.59L514.72 168.27L515.22 166.82L515.72 165.25L516.22 163.54L516.72 161.7L517.22 159.71L517.72 157.58L518.22 155.3L518.72 152.86L519.22 150.27L519.72 147.54L520.22 144.65L520.72 141.62L521.22 138.44L521.72 135.13L522.22 131.7L522.72 128.14L523.22 124.48L523.72 120.73L524.22 116.9L524.72 113.01L525.22 109.07L525.72 105.11L526.22 101.15L526.72 97.21L527.22 93.31L527.72 89.47L528.22 85.72L528.72 82.08L529.22 78.59L529.72 75.25L530.22 72.1L530.72 69.16L531.22 66.45L531.72 63.99L532.22 61.8L532.72 59.9L533.22 58.29L533.72 57.01L534.22 56.04L534.72 55.41L535.22 55.12L535.72 55.17L536.22 55.56L536.72 56.28L537.22 57.34L537.72 58.71L538.22 60.4L538.72 62.38L539.22 64.65L539.72 67.18L540.22 69.96L540.72 72.96L541.22 76.17L541.72 79.55L542.22 83.09L542.72 86.76L543.22 90.53L543.72 94.39L544.22 98.31L544.72 102.26L545.22 106.22L545.72 110.18L546.22 114.1L546.72 117.98L547.22 121.79L547.72 125.52L548.22 129.15L548.72 132.67L549.22 136.07L549.72 139.35L550.22 142.48L550.72 145.47L551.22 148.32L551.72 151.01L552.22 153.56L552.72 155.95L553.22 158.19L553.72 160.28L554.22 162.23L554.72 164.04L555.22 165.7L555.72 167.24L556.22 168.65L556.72 169.94L557.22 171.12L557.72 172.19L558.22 173.16L558.72 174.03L559.22 174.82L559.72 175.53L560.22 176.16L560.72 176.73L561.22 177.23L561.72 177.67L562.22 178.07L562.72 178.41L563.22 178.72L563.72 178.98L564.22 179.21L564.72 179.42L565.22 179.59L565.72 179.74L566.22 179.87L566.72 179.99L566.72 180.6Z" fill="url(#grep)"/>
<path d="M535.5 40.5V180.6" stroke="#a8c6e8" stroke-width="1" stroke-dasharray="4.2 3.2" fill="none"/>
<path d="M571.2 101.5V180.6" stroke="#a8c6e8" stroke-width="1" stroke-dasharray="4.2 3.2" fill="none"/>
<path d="M479.35 153.61a1.45 1.45 0 1 0 2.9 0a1.45 1.45 0 1 0 -2.9 0M480.15 154.94a1.45 1.45 0 1 0 2.9 0a1.45 1.45 0 1 0 -2.9 0M480.95 157.66a1.45 1.45 0 1 0 2.9 0a1.45 1.45 0 1 0 -2.9 0M481.75 154.12a1.45 1.45 0 1 0 2.9 0a1.45 1.45 0 1 0 -2.9 0M482.55 157.12a1.45 1.45 0 1 0 2.9 0a1.45 1.45 0 1 0 -2.9 0M483.35 156.23a1.45 1.45 0 1 0 2.9 0a1.45 1.45 0 1 0 -2.9 0M484.15 158.17a1.45 1.45 0 1 0 2.9 0a1.45 1.45 0 1 0 -2.9 0M484.95 159.44a1.45 1.45 0 1 0 2.9 0a1.45 1.45 0 1 0 -2.9 0M485.75 158.53a1.45 1.45 0 1 0 2.9 0a1.45 1.45 0 1 0 -2.9 0M486.55 159.5a1.45 1.45 0 1 0 2.9 0a1.45 1.45 0 1 0 -2.9 0M487.35 156.33a1.45 1.45 0 1 0 2.9 0a1.45 1.45 0 1 0 -2.9 0M488.15 159.37a1.45 1.45 0 1 0 2.9 0a1.45 1.45 0 1 0 -2.9 0M488.95 156.81a1.45 1.45 0 1 0 2.9 0a1.45 1.45 0 1 0 -2.9 0M489.75 157.83a1.45 1.45 0 1 0 2.9 0a1.45 1.45 0 1 0 -2.9 0M490.55 156.2a1.45 1.45 0 1 0 2.9 0a1.45 1.45 0 1 0 -2.9 0M491.35 151.2a1.45 1.45 0 1 0 2.9 0a1.45 1.45 0 1 0 -2.9 0M492.15 151.87a1.45 1.45 0 1 0 2.9 0a1.45 1.45 0 1 0 -2.9 0M492.95 154.75a1.45 1.45 0 1 0 2.9 0a1.45 1.45 0 1 0 -2.9 0M493.75 152.44a1.45 1.45 0 1 0 2.9 0a1.45 1.45 0 1 0 -2.9 0M494.55 149.93a1.45 1.45 0 1 0 2.9 0a1.45 1.45 0 1 0 -2.9 0M495.35 148.29a1.45 1.45 0 1 0 2.9 0a1.45 1.45 0 1 0 -2.9 0M496.15 146.13a1.45 1.45 0 1 0 2.9 0a1.45 1.45 0 1 0 -2.9 0M496.95 148.92a1.45 1.45 0 1 0 2.9 0a1.45 1.45 0 1 0 -2.9 0M497.75 148.45a1.45 1.45 0 1 0 2.9 0a1.45 1.45 0 1 0 -2.9 0M498.55 145.74a1.45 1.45 0 1 0 2.9 0a1.45 1.45 0 1 0 -2.9 0M499.35 144.74a1.45 1.45 0 1 0 2.9 0a1.45 1.45 0 1 0 -2.9 0M500.15 142.32a1.45 1.45 0 1 0 2.9 0a1.45 1.45 0 1 0 -2.9 0M500.95 144.8a1.45 1.45 0 1 0 2.9 0a1.45 1.45 0 1 0 -2.9 0M501.75 146.45a1.45 1.45 0 1 0 2.9 0a1.45 1.45 0 1 0 -2.9 0M502.55 142.63a1.45 1.45 0 1 0 2.9 0a1.45 1.45 0 1 0 -2.9 0M503.35 143.47a1.45 1.45 0 1 0 2.9 0a1.45 1.45 0 1 0 -2.9 0M504.15 142.02a1.45 1.45 0 1 0 2.9 0a1.45 1.45 0 1 0 -2.9 0M504.95 139.58a1.45 1.45 0 1 0 2.9 0a1.45 1.45 0 1 0 -2.9 0M505.75 141.99a1.45 1.45 0 1 0 2.9 0a1.45 1.45 0 1 0 -2.9 0M506.55 138.33a1.45 1.45 0 1 0 2.9 0a1.45 1.45 0 1 0 -2.9 0M507.35 139.26a1.45 1.45 0 1 0 2.9 0a1.45 1.45 0 1 0 -2.9 0M508.15 139.56a1.45 1.45 0 1 0 2.9 0a1.45 1.45 0 1 0 -2.9 0M508.95 140.02a1.45 1.45 0 1 0 2.9 0a1.45 1.45 0 1 0 -2.9 0M509.75 139.09a1.45 1.45 0 1 0 2.9 0a1.45 1.45 0 1 0 -2.9 0M510.55 137.3a1.45 1.45 0 1 0 2.9 0a1.45 1.45 0 1 0 -2.9 0M511.35 136.62a1.45 1.45 0 1 0 2.9 0a1.45 1.45 0 1 0 -2.9 0M512.15 135.09a1.45 1.45 0 1 0 2.9 0a1.45 1.45 0 1 0 -2.9 0M512.95 132.29a1.45 1.45 0 1 0 2.9 0a1.45 1.45 0 1 0 -2.9 0M513.75 132.42a1.45 1.45 0 1 0 2.9 0a1.45 1.45 0 1 0 -2.9 0M514.55 129.22a1.45 1.45 0 1 0 2.9 0a1.45 1.45 0 1 0 -2.9 0M515.35 125.26a1.45 1.45 0 1 0 2.9 0a1.45 1.45 0 1 0 -2.9 0M516.15 121.37a1.45 1.45 0 1 0 2.9 0a1.45 1.45 0 1 0 -2.9 0M516.95 115.16a1.45 1.45 0 1 0 2.9 0a1.45 1.45 0 1 0 -2.9 0M517.75 112.39a1.45 1.45 0 1 0 2.9 0a1.45 1.45 0 1 0 -2.9 0M518.55 108.94a1.45 1.45 0 1 0 2.9 0a1.45 1.45 0 1 0 -2.9 0M519.35 107.49a1.45 1.45 0 1 0 2.9 0a1.45 1.45 0 1 0 -2.9 0M520.15 102.53a1.45 1.45 0 1 0 2.9 0a1.45 1.45 0 1 0 -2.9 0M520.95 98.51a1.45 1.45 0 1 0 2.9 0a1.45 1.45 0 1 0 -2.9 0M521.75 88.6a1.45 1.45 0 1 0 2.9 0a1.45 1.45 0 1 0 -2.9 0M522.55 84.77a1.45 1.45 0 1 0 2.9 0a1.45 1.45 0 1 0 -2.9 0M523.35 82.23a1.45 1.45 0 1 0 2.9 0a1.45 1.45 0 1 0 -2.9 0M524.15 76.59a1.45 1.45 0 1 0 2.9 0a1.45 1.45 0 1 0 -2.9 0M524.95 74.15a1.45 1.45 0 1 0 2.9 0a1.45 1.45 0 1 0 -2.9 0M525.75 71.23a1.45 1.45 0 1 0 2.9 0a1.45 1.45 0 1 0 -2.9 0M526.55 64.88a1.45 1.45 0 1 0 2.9 0a1.45 1.45 0 1 0 -2.9 0M527.35 59.96a1.45 1.45 0 1 0 2.9 0a1.45 1.45 0 1 0 -2.9 0M528.15 55.53a1.45 1.45 0 1 0 2.9 0a1.45 1.45 0 1 0 -2.9 0M528.95 53.18a1.45 1.45 0 1 0 2.9 0a1.45 1.45 0 1 0 -2.9 0M529.75 49.15a1.45 1.45 0 1 0 2.9 0a1.45 1.45 0 1 0 -2.9 0M530.55 43.82a1.45 1.45 0 1 0 2.9 0a1.45 1.45 0 1 0 -2.9 0M531.35 39.7a1.45 1.45 0 1 0 2.9 0a1.45 1.45 0 1 0 -2.9 0M532.15 40.96a1.45 1.45 0 1 0 2.9 0a1.45 1.45 0 1 0 -2.9 0M532.95 39.58a1.45 1.45 0 1 0 2.9 0a1.45 1.45 0 1 0 -2.9 0M533.75 36.92a1.45 1.45 0 1 0 2.9 0a1.45 1.45 0 1 0 -2.9 0M534.55 37.84a1.45 1.45 0 1 0 2.9 0a1.45 1.45 0 1 0 -2.9 0M535.35 37.78a1.45 1.45 0 1 0 2.9 0a1.45 1.45 0 1 0 -2.9 0M536.15 35.17a1.45 1.45 0 1 0 2.9 0a1.45 1.45 0 1 0 -2.9 0M536.95 37.53a1.45 1.45 0 1 0 2.9 0a1.45 1.45 0 1 0 -2.9 0M537.75 39.58a1.45 1.45 0 1 0 2.9 0a1.45 1.45 0 1 0 -2.9 0M538.55 40.5a1.45 1.45 0 1 0 2.9 0a1.45 1.45 0 1 0 -2.9 0M539.35 41.17a1.45 1.45 0 1 0 2.9 0a1.45 1.45 0 1 0 -2.9 0M540.15 46.35a1.45 1.45 0 1 0 2.9 0a1.45 1.45 0 1 0 -2.9 0M540.95 51.17a1.45 1.45 0 1 0 2.9 0a1.45 1.45 0 1 0 -2.9 0M541.75 54.64a1.45 1.45 0 1 0 2.9 0a1.45 1.45 0 1 0 -2.9 0M542.55 55.24a1.45 1.45 0 1 0 2.9 0a1.45 1.45 0 1 0 -2.9 0M543.35 65.5a1.45 1.45 0 1 0 2.9 0a1.45 1.45 0 1 0 -2.9 0M544.15 65.23a1.45 1.45 0 1 0 2.9 0a1.45 1.45 0 1 0 -2.9 0M544.95 72.1a1.45 1.45 0 1 0 2.9 0a1.45 1.45 0 1 0 -2.9 0M545.75 76.29a1.45 1.45 0 1 0 2.9 0a1.45 1.45 0 1 0 -2.9 0M546.55 79.6a1.45 1.45 0 1 0 2.9 0a1.45 1.45 0 1 0 -2.9 0M547.35 82.33a1.45 1.45 0 1 0 2.9 0a1.45 1.45 0 1 0 -2.9 0M548.15 83.59a1.45 1.45 0 1 0 2.9 0a1.45 1.45 0 1 0 -2.9 0M548.95 88.53a1.45 1.45 0 1 0 2.9 0a1.45 1.45 0 1 0 -2.9 0M549.75 89.03a1.45 1.45 0 1 0 2.9 0a1.45 1.45 0 1 0 -2.9 0M550.55 88.77a1.45 1.45 0 1 0 2.9 0a1.45 1.45 0 1 0 -2.9 0M551.35 97.3a1.45 1.45 0 1 0 2.9 0a1.45 1.45 0 1 0 -2.9 0M552.15 96.27a1.45 1.45 0 1 0 2.9 0a1.45 1.45 0 1 0 -2.9 0M552.95 99.01a1.45 1.45 0 1 0 2.9 0a1.45 1.45 0 1 0 -2.9 0M553.75 96.65a1.45 1.45 0 1 0 2.9 0a1.45 1.45 0 1 0 -2.9 0M554.55 100.4a1.45 1.45 0 1 0 2.9 0a1.45 1.45 0 1 0 -2.9 0M555.35 101.27a1.45 1.45 0 1 0 2.9 0a1.45 1.45 0 1 0 -2.9 0M556.15 101.87a1.45 1.45 0 1 0 2.9 0a1.45 1.45 0 1 0 -2.9 0M556.95 100.42a1.45 1.45 0 1 0 2.9 0a1.45 1.45 0 1 0 -2.9 0M557.75 99.32a1.45 1.45 0 1 0 2.9 0a1.45 1.45 0 1 0 -2.9 0M558.55 100.77a1.45 1.45 0 1 0 2.9 0a1.45 1.45 0 1 0 -2.9 0M559.35 98.13a1.45 1.45 0 1 0 2.9 0a1.45 1.45 0 1 0 -2.9 0M560.15 98.28a1.45 1.45 0 1 0 2.9 0a1.45 1.45 0 1 0 -2.9 0M560.95 99.78a1.45 1.45 0 1 0 2.9 0a1.45 1.45 0 1 0 -2.9 0M561.75 97.53a1.45 1.45 0 1 0 2.9 0a1.45 1.45 0 1 0 -2.9 0M562.55 97.6a1.45 1.45 0 1 0 2.9 0a1.45 1.45 0 1 0 -2.9 0M563.35 93.52a1.45 1.45 0 1 0 2.9 0a1.45 1.45 0 1 0 -2.9 0M564.15 98.53a1.45 1.45 0 1 0 2.9 0a1.45 1.45 0 1 0 -2.9 0M564.95 97.21a1.45 1.45 0 1 0 2.9 0a1.45 1.45 0 1 0 -2.9 0M565.75 95.08a1.45 1.45 0 1 0 2.9 0a1.45 1.45 0 1 0 -2.9 0M566.55 96.19a1.45 1.45 0 1 0 2.9 0a1.45 1.45 0 1 0 -2.9 0M567.35 93.29a1.45 1.45 0 1 0 2.9 0a1.45 1.45 0 1 0 -2.9 0M568.15 94.08a1.45 1.45 0 1 0 2.9 0a1.45 1.45 0 1 0 -2.9 0M568.95 94.73a1.45 1.45 0 1 0 2.9 0a1.45 1.45 0 1 0 -2.9 0M569.75 91.83a1.45 1.45 0 1 0 2.9 0a1.45 1.45 0 1 0 -2.9 0M570.55 93.39a1.45 1.45 0 1 0 2.9 0a1.45 1.45 0 1 0 -2.9 0M571.35 91.75a1.45 1.45 0 1 0 2.9 0a1.45 1.45 0 1 0 -2.9 0M572.15 93.87a1.45 1.45 0 1 0 2.9 0a1.45 1.45 0 1 0 -2.9 0M572.95 96.29a1.45 1.45 0 1 0 2.9 0a1.45 1.45 0 1 0 -2.9 0M573.75 93.99a1.45 1.45 0 1 0 2.9 0a1.45 1.45 0 1 0 -2.9 0M574.55 96.01a1.45 1.45 0 1 0 2.9 0a1.45 1.45 0 1 0 -2.9 0M575.35 95.49a1.45 1.45 0 1 0 2.9 0a1.45 1.45 0 1 0 -2.9 0M576.15 96.09a1.45 1.45 0 1 0 2.9 0a1.45 1.45 0 1 0 -2.9 0M576.95 96.93a1.45 1.45 0 1 0 2.9 0a1.45 1.45 0 1 0 -2.9 0M577.75 101.51a1.45 1.45 0 1 0 2.9 0a1.45 1.45 0 1 0 -2.9 0M578.55 104.13a1.45 1.45 0 1 0 2.9 0a1.45 1.45 0 1 0 -2.9 0M579.35 103.47a1.45 1.45 0 1 0 2.9 0a1.45 1.45 0 1 0 -2.9 0M580.15 103.77a1.45 1.45 0 1 0 2.9 0a1.45 1.45 0 1 0 -2.9 0M580.95 104.79a1.45 1.45 0 1 0 2.9 0a1.45 1.45 0 1 0 -2.9 0M581.75 107.9a1.45 1.45 0 1 0 2.9 0a1.45 1.45 0 1 0 -2.9 0M582.55 111a1.45 1.45 0 1 0 2.9 0a1.45 1.45 0 1 0 -2.9 0M583.35 111.97a1.45 1.45 0 1 0 2.9 0a1.45 1.45 0 1 0 -2.9 0M584.15 113.56a1.45 1.45 0 1 0 2.9 0a1.45 1.45 0 1 0 -2.9 0M584.95 115.58a1.45 1.45 0 1 0 2.9 0a1.45 1.45 0 1 0 -2.9 0M585.75 115.7a1.45 1.45 0 1 0 2.9 0a1.45 1.45 0 1 0 -2.9 0M586.55 117.52a1.45 1.45 0 1 0 2.9 0a1.45 1.45 0 1 0 -2.9 0M587.35 117.47a1.45 1.45 0 1 0 2.9 0a1.45 1.45 0 1 0 -2.9 0M588.15 120.65a1.45 1.45 0 1 0 2.9 0a1.45 1.45 0 1 0 -2.9 0M588.95 120.98a1.45 1.45 0 1 0 2.9 0a1.45 1.45 0 1 0 -2.9 0M589.75 124.12a1.45 1.45 0 1 0 2.9 0a1.45 1.45 0 1 0 -2.9 0M590.55 124.66a1.45 1.45 0 1 0 2.9 0a1.45 1.45 0 1 0 -2.9 0M591.35 127.59a1.45 1.45 0 1 0 2.9 0a1.45 1.45 0 1 0 -2.9 0M592.15 129.64a1.45 1.45 0 1 0 2.9 0a1.45 1.45 0 1 0 -2.9 0M592.95 128.9a1.45 1.45 0 1 0 2.9 0a1.45 1.45 0 1 0 -2.9 0M593.75 131.22a1.45 1.45 0 1 0 2.9 0a1.45 1.45 0 1 0 -2.9 0M594.55 132.55a1.45 1.45 0 1 0 2.9 0a1.45 1.45 0 1 0 -2.9 0M595.35 134.87a1.45 1.45 0 1 0 2.9 0a1.45 1.45 0 1 0 -2.9 0M596.15 138.54a1.45 1.45 0 1 0 2.9 0a1.45 1.45 0 1 0 -2.9 0M596.95 138.6a1.45 1.45 0 1 0 2.9 0a1.45 1.45 0 1 0 -2.9 0M597.75 138.13a1.45 1.45 0 1 0 2.9 0a1.45 1.45 0 1 0 -2.9 0M598.55 141.38a1.45 1.45 0 1 0 2.9 0a1.45 1.45 0 1 0 -2.9 0M599.35 137.85a1.45 1.45 0 1 0 2.9 0a1.45 1.45 0 1 0 -2.9 0M600.15 143.22a1.45 1.45 0 1 0 2.9 0a1.45 1.45 0 1 0 -2.9 0M600.95 141.34a1.45 1.45 0 1 0 2.9 0a1.45 1.45 0 1 0 -2.9 0M601.75 139.44a1.45 1.45 0 1 0 2.9 0a1.45 1.45 0 1 0 -2.9 0M602.55 146.94a1.45 1.45 0 1 0 2.9 0a1.45 1.45 0 1 0 -2.9 0M603.35 146.24a1.45 1.45 0 1 0 2.9 0a1.45 1.45 0 1 0 -2.9 0M604.15 143.58a1.45 1.45 0 1 0 2.9 0a1.45 1.45 0 1 0 -2.9 0M604.95 145.63a1.45 1.45 0 1 0 2.9 0a1.45 1.45 0 1 0 -2.9 0M605.75 147.54a1.45 1.45 0 1 0 2.9 0a1.45 1.45 0 1 0 -2.9 0M606.55 146.4a1.45 1.45 0 1 0 2.9 0a1.45 1.45 0 1 0 -2.9 0M607.35 145.03a1.45 1.45 0 1 0 2.9 0a1.45 1.45 0 1 0 -2.9 0M608.15 146.47a1.45 1.45 0 1 0 2.9 0a1.45 1.45 0 1 0 -2.9 0M608.95 148.31a1.45 1.45 0 1 0 2.9 0a1.45 1.45 0 1 0 -2.9 0M609.75 148.4a1.45 1.45 0 1 0 2.9 0a1.45 1.45 0 1 0 -2.9 0M610.55 150a1.45 1.45 0 1 0 2.9 0a1.45 1.45 0 1 0 -2.9 0M611.35 148.96a1.45 1.45 0 1 0 2.9 0a1.45 1.45 0 1 0 -2.9 0M612.15 152.15a1.45 1.45 0 1 0 2.9 0a1.45 1.45 0 1 0 -2.9 0M612.95 148.65a1.45 1.45 0 1 0 2.9 0a1.45 1.45 0 1 0 -2.9 0M613.75 150.19a1.45 1.45 0 1 0 2.9 0a1.45 1.45 0 1 0 -2.9 0M614.55 148.19a1.45 1.45 0 1 0 2.9 0a1.45 1.45 0 1 0 -2.9 0M615.35 148.91a1.45 1.45 0 1 0 2.9 0a1.45 1.45 0 1 0 -2.9 0M616.15 152.42a1.45 1.45 0 1 0 2.9 0a1.45 1.45 0 1 0 -2.9 0M616.95 149.87a1.45 1.45 0 1 0 2.9 0a1.45 1.45 0 1 0 -2.9 0M617.75 151.99a1.45 1.45 0 1 0 2.9 0a1.45 1.45 0 1 0 -2.9 0M618.55 151.66a1.45 1.45 0 1 0 2.9 0a1.45 1.45 0 1 0 -2.9 0M619.35 150.58a1.45 1.45 0 1 0 2.9 0a1.45 1.45 0 1 0 -2.9 0M620.15 151.72a1.45 1.45 0 1 0 2.9 0a1.45 1.45 0 1 0 -2.9 0M620.95 151.79a1.45 1.45 0 1 0 2.9 0a1.45 1.45 0 1 0 -2.9 0M621.75 152.11a1.45 1.45 0 1 0 2.9 0a1.45 1.45 0 1 0 -2.9 0M622.55 153.94a1.45 1.45 0 1 0 2.9 0a1.45 1.45 0 1 0 -2.9 0M623.35 154.1a1.45 1.45 0 1 0 2.9 0a1.45 1.45 0 1 0 -2.9 0M624.15 152.85a1.45 1.45 0 1 0 2.9 0a1.45 1.45 0 1 0 -2.9 0M624.95 152.72a1.45 1.45 0 1 0 2.9 0a1.45 1.45 0 1 0 -2.9 0M625.75 154.49a1.45 1.45 0 1 0 2.9 0a1.45 1.45 0 1 0 -2.9 0M626.55 154.29a1.45 1.45 0 1 0 2.9 0a1.45 1.45 0 1 0 -2.9 0M627.35 155.98a1.45 1.45 0 1 0 2.9 0a1.45 1.45 0 1 0 -2.9 0M628.15 157.05a1.45 1.45 0 1 0 2.9 0a1.45 1.45 0 1 0 -2.9 0M628.95 155.24a1.45 1.45 0 1 0 2.9 0a1.45 1.45 0 1 0 -2.9 0M629.75 155.48a1.45 1.45 0 1 0 2.9 0a1.45 1.45 0 1 0 -2.9 0M630.55 155.58a1.45 1.45 0 1 0 2.9 0a1.45 1.45 0 1 0 -2.9 0M631.35 155a1.45 1.45 0 1 0 2.9 0a1.45 1.45 0 1 0 -2.9 0M632.15 157.8a1.45 1.45 0 1 0 2.9 0a1.45 1.45 0 1 0 -2.9 0M632.95 154.3a1.45 1.45 0 1 0 2.9 0a1.45 1.45 0 1 0 -2.9 0M633.75 156.39a1.45 1.45 0 1 0 2.9 0a1.45 1.45 0 1 0 -2.9 0M634.55 156.63a1.45 1.45 0 1 0 2.9 0a1.45 1.45 0 1 0 -2.9 0M635.35 158.36a1.45 1.45 0 1 0 2.9 0a1.45 1.45 0 1 0 -2.9 0M636.15 157.21a1.45 1.45 0 1 0 2.9 0a1.45 1.45 0 1 0 -2.9 0M636.95 157.73a1.45 1.45 0 1 0 2.9 0a1.45 1.45 0 1 0 -2.9 0M637.75 156.73a1.45 1.45 0 1 0 2.9 0a1.45 1.45 0 1 0 -2.9 0M638.55 160.59a1.45 1.45 0 1 0 2.9 0a1.45 1.45 0 1 0 -2.9 0M639.35 157.37a1.45 1.45 0 1 0 2.9 0a1.45 1.45 0 1 0 -2.9 0M640.15 161.33a1.45 1.45 0 1 0 2.9 0a1.45 1.45 0 1 0 -2.9 0M640.95 160.37a1.45 1.45 0 1 0 2.9 0a1.45 1.45 0 1 0 -2.9 0M641.75 161.51a1.45 1.45 0 1 0 2.9 0a1.45 1.45 0 1 0 -2.9 0M642.55 159.61a1.45 1.45 0 1 0 2.9 0a1.45 1.45 0 1 0 -2.9 0M643.35 161.09a1.45 1.45 0 1 0 2.9 0a1.45 1.45 0 1 0 -2.9 0M644.15 163.85a1.45 1.45 0 1 0 2.9 0a1.45 1.45 0 1 0 -2.9 0M644.95 159.21a1.45 1.45 0 1 0 2.9 0a1.45 1.45 0 1 0 -2.9 0M645.75 162.47a1.45 1.45 0 1 0 2.9 0a1.45 1.45 0 1 0 -2.9 0M646.55 164.11a1.45 1.45 0 1 0 2.9 0a1.45 1.45 0 1 0 -2.9 0M647.35 162.04a1.45 1.45 0 1 0 2.9 0a1.45 1.45 0 1 0 -2.9 0M648.15 162.73a1.45 1.45 0 1 0 2.9 0a1.45 1.45 0 1 0 -2.9 0M648.95 165.68a1.45 1.45 0 1 0 2.9 0a1.45 1.45 0 1 0 -2.9 0M649.75 160.68a1.45 1.45 0 1 0 2.9 0a1.45 1.45 0 1 0 -2.9 0M650.55 163.02a1.45 1.45 0 1 0 2.9 0a1.45 1.45 0 1 0 -2.9 0M651.35 161.63a1.45 1.45 0 1 0 2.9 0a1.45 1.45 0 1 0 -2.9 0M652.15 162.11a1.45 1.45 0 1 0 2.9 0a1.45 1.45 0 1 0 -2.9 0M652.95 162.41a1.45 1.45 0 1 0 2.9 0a1.45 1.45 0 1 0 -2.9 0M653.75 163.25a1.45 1.45 0 1 0 2.9 0a1.45 1.45 0 1 0 -2.9 0M654.55 163.85a1.45 1.45 0 1 0 2.9 0a1.45 1.45 0 1 0 -2.9 0M655.35 164.91a1.45 1.45 0 1 0 2.9 0a1.45 1.45 0 1 0 -2.9 0M656.15 162.3a1.45 1.45 0 1 0 2.9 0a1.45 1.45 0 1 0 -2.9 0M656.95 168.59a1.45 1.45 0 1 0 2.9 0a1.45 1.45 0 1 0 -2.9 0M657.75 166.03a1.45 1.45 0 1 0 2.9 0a1.45 1.45 0 1 0 -2.9 0M658.55 165.69a1.45 1.45 0 1 0 2.9 0a1.45 1.45 0 1 0 -2.9 0M659.35 164.51a1.45 1.45 0 1 0 2.9 0a1.45 1.45 0 1 0 -2.9 0M660.15 165.06a1.45 1.45 0 1 0 2.9 0a1.45 1.45 0 1 0 -2.9 0M660.95 166.08a1.45 1.45 0 1 0 2.9 0a1.45 1.45 0 1 0 -2.9 0M661.75 166.1a1.45 1.45 0 1 0 2.9 0a1.45 1.45 0 1 0 -2.9 0M662.55 163.61a1.45 1.45 0 1 0 2.9 0a1.45 1.45 0 1 0 -2.9 0M663.35 166.9a1.45 1.45 0 1 0 2.9 0a1.45 1.45 0 1 0 -2.9 0M664.15 171.27a1.45 1.45 0 1 0 2.9 0a1.45 1.45 0 1 0 -2.9 0M664.95 163.95a1.45 1.45 0 1 0 2.9 0a1.45 1.45 0 1 0 -2.9 0M665.75 167.78a1.45 1.45 0 1 0 2.9 0a1.45 1.45 0 1 0 -2.9 0M666.55 168.69a1.45 1.45 0 1 0 2.9 0a1.45 1.45 0 1 0 -2.9 0M667.35 165.63a1.45 1.45 0 1 0 2.9 0a1.45 1.45 0 1 0 -2.9 0M668.15 168.79a1.45 1.45 0 1 0 2.9 0a1.45 1.45 0 1 0 -2.9 0M668.95 165.69a1.45 1.45 0 1 0 2.9 0a1.45 1.45 0 1 0 -2.9 0M669.75 167.58a1.45 1.45 0 1 0 2.9 0a1.45 1.45 0 1 0 -2.9 0M670.55 169.42a1.45 1.45 0 1 0 2.9 0a1.45 1.45 0 1 0 -2.9 0M671.35 167.46a1.45 1.45 0 1 0 2.9 0a1.45 1.45 0 1 0 -2.9 0M672.15 167.33a1.45 1.45 0 1 0 2.9 0a1.45 1.45 0 1 0 -2.9 0M672.95 168.18a1.45 1.45 0 1 0 2.9 0a1.45 1.45 0 1 0 -2.9 0M673.75 167.62a1.45 1.45 0 1 0 2.9 0a1.45 1.45 0 1 0 -2.9 0M674.55 168.55a1.45 1.45 0 1 0 2.9 0a1.45 1.45 0 1 0 -2.9 0M675.35 167.33a1.45 1.45 0 1 0 2.9 0a1.45 1.45 0 1 0 -2.9 0M676.15 169.76a1.45 1.45 0 1 0 2.9 0a1.45 1.45 0 1 0 -2.9 0M676.95 167.18a1.45 1.45 0 1 0 2.9 0a1.45 1.45 0 1 0 -2.9 0M677.75 169.79a1.45 1.45 0 1 0 2.9 0a1.45 1.45 0 1 0 -2.9 0M678.55 168.93a1.45 1.45 0 1 0 2.9 0a1.45 1.45 0 1 0 -2.9 0M679.35 165.88a1.45 1.45 0 1 0 2.9 0a1.45 1.45 0 1 0 -2.9 0M680.15 169.33a1.45 1.45 0 1 0 2.9 0a1.45 1.45 0 1 0 -2.9 0" fill="none" stroke="#1b7398" stroke-width="0.9"/>
<path d="M489.5 158.03 490.4 157.56 491.3 156.95 492.2 155.62 493.1 153.82 494 152.1 494.9 150.86 495.8 149.79 496.7 148.81 497.6 147.9 498.5 147.04 499.4 146.23 500.3 145.44 501.2 144.68 502.1 143.94 503 143.22 503.9 142.54 504.8 141.89 505.7 141.27 506.6 140.69 507.5 140.14 508.4 139.69 509.3 139.33 510.2 138.99 511.1 138.61 512 138.13 512.9 137.48 513.8 136.39 514.7 134.57 515.6 132.19 516.5 128.51 517.4 123.21 518.3 117.98 519.2 114.07 520.1 110.58 521 106.09 521.9 99.79 522.8 93.1 523.7 87.4 524.6 82.19 525.5 77.37 526.4 72.91 527.3 68.62 528.2 64.34 529.1 59.87 530 54.95 530.9 50.18 531.8 46.32 532.7 42.94 533.6 40.29 534.5 38.7 535.4 37.5 536.3 37 537.2 37.2 538.1 37.71 539 38.66 539.9 40.91 540.8 43.84 541.7 47.12 542.6 51.17 543.5 55.52 544.4 60.07 545.3 64.99 546.2 69.87 547.1 74.3 548 78.37 548.9 82.27 549.8 85.77 550.7 88.6 551.6 90.94 552.5 93.1 553.4 95 554.3 96.59 555.2 97.79 556.1 98.66 557 99.45 557.9 100.14 558.8 100.66 559.7 100.95 560.6 100.95 561.5 100.48 562.4 99.67 563.3 98.65 564.2 97.57 565.1 96.58 566 95.82 566.9 95.3 567.8 94.79 568.7 94.31 569.6 93.89 570.5 93.56 571.4 93.35 572.3 93.31 573.2 93.54 574.1 94.03 575 94.75 575.9 95.63 576.8 96.61 577.7 97.64 578.6 98.74 579.5 100.22 580.4 102 581.3 103.98 582.2 106.05 583.1 108.09 584 110 584.9 111.81 585.8 113.62 586.7 115.43 587.6 117.23 588.5 119.02 589.4 120.8 590.3 122.56 591.2 124.3 592.1 126.06 593 127.86 593.9 129.68 594.8 131.46 595.7 133.18 596.6 134.79 597.5 136.25 598.4 137.53 599.3 138.69 600.2 139.78 601.1 140.8 602 141.76 602.9 142.64 603.8 143.45 604.7 144.19 605.6 144.87 606.5 145.49 607.4 146.06 608.3 146.6 609.2 147.1 610.1 147.58 611 148.03 611.9 148.45 612.8 148.86 613.7 149.25 614.6 149.62 615.5 149.98 616.4 150.32 617.3 150.65 618.2 150.98 619.1 151.29 620 151.61 620.9 151.92 621.8 152.23 622.7 152.54 623.6 152.86 624.5 153.18 625.4 153.5 626.3 153.82 627.2 154.14 628.1 154.45 629 154.76 629.9 155.07 630.8 155.38 631.7 155.69 632.6 156 633.5 156.31 634.4 156.61 635.3 156.92 636.2 157.23 637.1 157.53 638 157.84 638.9 158.15 639.8 158.47 640.7 158.78 641.6 159.09 642.5 159.4 643.4 159.71 644.3 160.02 645.2 160.33 646.1 160.63 647 160.93 647.9 161.23 648.8 161.52 649.7 161.8 650.6 162.08 651.5 162.35 652.4 162.62 653.3 162.88 654.2 163.15 655.1 163.41 656 163.66 656.9 163.92 657.8 164.17 658.7 164.41 659.6 164.65 660.5 164.89 661.4 165.12 662.3 165.35 663.2 165.57 664.1 165.79 665 166 665.9 166.21 666.8 166.41 667.7 166.61 668.6 166.81 669.5 167.01 670.4 167.2 671.3 167.4 672.2 167.58 673.1 167.77 674 167.95 674.9 168.13 675.8 168.3 676.7 168.47 677.6 168.64 678.5 168.8 679.4 168.96 680.3 169.12 681.2 169.27" stroke="#f2467c" stroke-width="1.25" fill="none"/>
</g>
<g clip-path="url(#clipf)">
<path d="M523.2 352.9L523.2 352.78L523.7 352.77L524.2 352.76L524.7 352.75L525.2 352.74L525.7 352.73L526.2 352.72L526.7 352.71L527.2 352.7L527.7 352.69L528.2 352.67L528.7 352.66L529.2 352.64L529.7 352.63L530.2 352.61L530.7 352.59L531.2 352.57L531.7 352.55L532.2 352.53L532.7 352.51L533.2 352.48L533.7 352.46L534.2 352.43L534.7 352.41L535.2 352.38L535.7 352.35L536.2 352.31L536.7 352.28L537.2 352.25L537.7 352.21L538.2 352.17L538.7 352.13L539.2 352.09L539.7 352.04L540.2 352L540.7 351.95L541.2 351.9L541.7 351.85L542.2 351.79L542.7 351.73L543.2 351.67L543.7 351.61L544.2 351.55L544.7 351.48L545.2 351.41L545.7 351.33L546.2 351.26L546.7 351.18L547.2 351.09L547.7 351.01L548.2 350.92L548.7 350.83L549.2 350.73L549.7 350.63L550.2 350.53L550.7 350.42L551.2 350.31L551.7 350.19L552.2 350.07L552.7 349.95L553.2 349.82L553.7 349.69L554.2 349.56L554.7 349.42L555.2 349.27L555.7 349.12L556.2 348.97L556.7 348.81L557.2 348.65L557.7 348.48L558.2 348.31L558.7 348.13L559.2 347.95L559.7 347.77L560.2 347.57L560.7 347.38L561.2 347.18L561.7 346.97L562.2 346.76L562.7 346.54L563.2 346.32L563.7 346.1L564.2 345.87L564.7 345.63L565.2 345.39L565.7 345.14L566.2 344.89L566.7 344.64L567.2 344.38L567.7 344.11L568.2 343.84L568.7 343.57L569.2 343.29L569.7 343.01L570.2 342.72L570.7 342.43L571.2 342.13L571.7 341.83L572.2 341.53L572.7 341.23L573.2 340.92L573.7 340.6L574.2 340.29L574.7 339.97L575.2 339.64L575.7 339.32L576.2 338.99L576.7 338.66L577.2 338.33L577.7 338L578.2 337.66L578.7 337.33L579.2 336.99L579.7 336.65L580.2 336.32L580.7 335.98L581.2 335.64L581.7 335.3L582.2 334.96L582.7 334.63L583.2 334.29L583.7 333.96L584.2 333.62L584.7 333.29L585.2 332.97L585.7 332.64L586.2 332.32L586.7 332L587.2 331.68L587.7 331.37L588.2 331.06L588.7 330.76L589.2 330.46L589.7 330.17L590.2 329.88L590.7 329.6L591.2 329.32L591.7 329.05L592.2 328.79L592.7 328.53L593.2 328.28L593.7 328.04L594.2 327.8L594.7 327.57L595.2 327.36L595.7 327.15L596.2 326.94L596.7 326.75L597.2 326.57L597.7 326.39L598.2 326.23L598.7 326.07L599.2 325.93L599.7 325.79L600.2 325.67L600.7 325.55L601.2 325.45L601.7 325.35L602.2 325.27L602.7 325.2L603.2 325.14L603.7 325.09L604.2 325.05L604.7 325.02L605.2 325.01L605.7 325L606.2 325.01L606.7 325.02L607.2 325.05L607.7 325.09L608.2 325.14L608.7 325.2L609.2 325.27L609.7 325.35L610.2 325.45L610.7 325.55L611.2 325.67L611.7 325.79L612.2 325.93L612.7 326.07L613.2 326.23L613.7 326.39L614.2 326.57L614.7 326.75L615.2 326.94L615.7 327.15L616.2 327.36L616.7 327.57L617.2 327.8L617.7 328.04L618.2 328.28L618.7 328.53L619.2 328.79L619.7 329.05L620.2 329.32L620.7 329.6L621.2 329.88L621.7 330.17L622.2 330.46L622.7 330.76L623.2 331.06L623.7 331.37L624.2 331.68L624.7 332L625.2 332.32L625.7 332.64L626.2 332.97L626.7 333.29L627.2 333.62L627.7 333.96L628.2 334.29L628.7 334.63L629.2 334.96L629.7 335.3L630.2 335.64L630.7 335.98L631.2 336.32L631.7 336.65L632.2 336.99L632.7 337.33L633.2 337.66L633.7 338L634.2 338.33L634.7 338.66L635.2 338.99L635.7 339.32L636.2 339.64L636.7 339.97L637.2 340.29L637.7 340.6L638.2 340.92L638.7 341.23L639.2 341.53L639.7 341.83L640.2 342.13L640.7 342.43L641.2 342.72L641.7 343.01L642.2 343.29L642.7 343.57L643.2 343.84L643.7 344.11L644.2 344.38L644.7 344.64L645.2 344.89L645.7 345.14L646.2 345.39L646.7 345.63L647.2 345.87L647.7 346.1L648.2 346.32L648.7 346.54L649.2 346.76L649.7 346.97L650.2 347.18L650.7 347.38L651.2 347.57L651.7 347.77L652.2 347.95L652.7 348.13L653.2 348.31L653.7 348.48L654.2 348.65L654.7 348.81L655.2 348.97L655.7 349.12L656.2 349.27L656.7 349.42L657.2 349.56L657.7 349.69L658.2 349.82L658.7 349.95L659.2 350.07L659.7 350.19L660.2 350.31L660.7 350.42L661.2 350.53L661.7 350.63L662.2 350.73L662.7 350.83L663.2 350.92L663.7 351.01L664.2 351.09L664.7 351.18L665.2 351.26L665.7 351.33L666.2 351.41L666.7 351.48L667.2 351.55L667.7 351.61L668.2 351.67L668.7 351.73L669.2 351.79L669.7 351.85L670.2 351.9L670.7 351.95L671.2 352L671.7 352.04L672.2 352.09L672.7 352.13L673.2 352.17L673.7 352.21L674.2 352.25L674.7 352.28L675.2 352.31L675.7 352.35L676.2 352.38L676.7 352.41L677.2 352.43L677.7 352.46L678.2 352.48L678.7 352.51L679.2 352.53L679.7 352.55L680.2 352.57L680.7 352.59L681.2 352.61L681.7 352.63L682.2 352.64L682.7 352.66L682.7 352.9Z" fill="url(#grfk)"/>
<path d="M480.3 352.9L480.3 352.35L480.8 352.25L481.3 352.14L481.8 352.02L482.3 351.88L482.8 351.72L483.3 351.54L483.8 351.33L484.3 351.1L484.8 350.84L485.3 350.56L485.8 350.24L486.3 349.89L486.8 349.5L487.3 349.07L487.8 348.6L488.3 348.08L488.8 347.53L489.3 346.92L489.8 346.27L490.3 345.57L490.8 344.82L491.3 344.02L491.8 343.16L492.3 342.26L492.8 341.31L493.3 340.32L493.8 339.28L494.3 338.2L494.8 337.08L495.3 335.93L495.8 334.75L496.3 333.54L496.8 332.32L497.3 331.08L497.8 329.84L498.3 328.6L498.8 327.38L499.3 326.17L499.8 324.99L500.3 323.85L500.8 322.75L501.3 321.71L501.8 320.72L502.3 319.8L502.8 318.96L503.3 318.21L503.8 317.54L504.3 316.97L504.8 316.5L505.3 316.14L505.8 315.88L506.3 315.74L506.8 315.7L507.3 315.78L507.8 315.97L508.3 316.27L508.8 316.68L509.3 317.19L509.8 317.8L510.3 318.5L510.8 319.29L511.3 320.16L511.8 321.11L512.3 322.12L512.8 323.19L513.3 324.3L513.8 325.46L514.3 326.65L514.8 327.87L515.3 329.1L515.8 330.34L516.3 331.58L516.8 332.81L517.3 334.02L517.8 335.22L518.3 336.39L518.8 337.53L519.3 338.64L519.8 339.7L520.3 340.72L520.8 341.7L521.3 342.63L521.8 343.51L522.3 344.34L522.8 345.12L523.3 345.85L523.8 346.54L524.3 347.17L524.8 347.75L525.3 348.29L525.8 348.79L526.3 349.24L526.8 349.66L527.3 350.03L527.8 350.37L528.3 350.68L528.8 350.95L529.3 351.2L529.8 351.42L530.3 351.61L530.8 351.78L531.3 351.94L531.8 352.07L532.3 352.19L532.8 352.29L533.3 352.38L533.8 352.46L534.3 352.53L534.8 352.58L535.3 352.63L535.8 352.68L536.3 352.71L536.3 352.9Z" fill="url(#grfg)"/>
<path d="M524.4 352.9L524.4 352.63L524.9 352.59L525.4 352.54L525.9 352.49L526.4 352.43L526.9 352.37L527.4 352.3L527.9 352.22L528.4 352.12L528.9 352.02L529.4 351.91L529.9 351.79L530.4 351.65L530.9 351.49L531.4 351.32L531.9 351.13L532.4 350.93L532.9 350.7L533.4 350.45L533.9 350.18L534.4 349.88L534.9 349.56L535.4 349.21L535.9 348.83L536.4 348.41L536.9 347.97L537.4 347.48L537.9 346.96L538.4 346.41L538.9 345.81L539.4 345.17L539.9 344.49L540.4 343.76L540.9 342.99L541.4 342.17L541.9 341.31L542.4 340.39L542.9 339.43L543.4 338.42L543.9 337.36L544.4 336.25L544.9 335.09L545.4 333.89L545.9 332.64L546.4 331.34L546.9 330L547.4 328.62L547.9 327.21L548.4 325.75L548.9 324.27L549.4 322.75L549.9 321.21L550.4 319.65L550.9 318.07L551.4 316.48L551.9 314.89L552.4 313.29L552.9 311.7L553.4 310.12L553.9 308.55L554.4 307.01L554.9 305.49L555.4 304.01L555.9 302.58L556.4 301.18L556.9 299.85L557.4 298.57L557.9 297.36L558.4 296.22L558.9 295.16L559.4 294.18L559.9 293.28L560.4 292.48L560.9 291.77L561.4 291.17L561.9 290.66L562.4 290.26L562.9 289.96L563.4 289.78L563.9 289.7L564.4 289.74L564.9 289.88L565.4 290.13L565.9 290.49L566.4 290.95L566.9 291.52L567.4 292.19L567.9 292.95L568.4 293.81L568.9 294.76L569.4 295.79L569.9 296.9L570.4 298.08L570.9 299.33L571.4 300.64L571.9 302.01L572.4 303.43L572.9 304.9L573.4 306.4L573.9 307.93L574.4 309.49L574.9 311.06L575.4 312.65L575.9 314.25L576.4 315.84L576.9 317.44L577.4 319.02L577.9 320.59L578.4 322.14L578.9 323.66L579.4 325.16L579.9 326.63L580.4 328.06L580.9 329.46L581.4 330.81L581.9 332.12L582.4 333.39L582.9 334.62L583.4 335.79L583.9 336.92L584.4 338L584.9 339.03L585.4 340.01L585.9 340.95L586.4 341.83L586.9 342.67L587.4 343.46L587.9 344.2L588.4 344.9L588.9 345.56L589.4 346.17L589.9 346.75L590.4 347.28L590.9 347.78L591.4 348.24L591.9 348.66L592.4 349.06L592.9 349.42L593.4 349.76L593.9 350.06L594.4 350.35L594.9 350.6L595.4 350.84L595.9 351.05L596.4 351.25L596.9 351.43L597.4 351.59L597.9 351.73L598.4 351.86L598.9 351.98L599.4 352.09L599.9 352.18L600.4 352.27L600.9 352.34L601.4 352.41L601.9 352.47L602.4 352.52L602.9 352.57L603.4 352.61L603.4 352.9Z" fill="url(#grfv)"/>
<path d="M503.32 352.9L503.32 352.47L503.82 352.39L504.32 352.3L504.82 352.19L505.32 352.07L505.82 351.93L506.32 351.76L506.82 351.57L507.32 351.35L507.82 351.11L508.32 350.82L508.82 350.5L509.32 350.14L509.82 349.73L510.32 349.28L510.82 348.76L511.32 348.19L511.82 347.55L512.32 346.84L512.82 346.06L513.32 345.19L513.82 344.24L514.32 343.2L514.82 342.07L515.32 340.83L515.82 339.49L516.32 338.04L516.82 336.47L517.32 334.79L517.82 333L518.32 331.08L518.82 329.05L519.32 326.9L519.82 324.63L520.32 322.24L520.82 319.74L521.32 317.14L521.82 314.44L522.32 311.64L522.82 308.77L523.32 305.82L523.82 302.8L524.32 299.74L524.82 296.65L525.32 293.53L525.82 290.42L526.32 287.32L526.82 284.25L527.32 281.23L527.82 278.28L528.32 275.42L528.82 272.67L529.32 270.05L529.82 267.57L530.32 265.26L530.82 263.13L531.32 261.19L531.82 259.47L532.32 257.97L532.82 256.71L533.32 255.7L533.82 254.94L534.32 254.45L534.82 254.22L535.32 254.25L535.82 254.56L536.32 255.13L536.82 255.96L537.32 257.04L537.82 258.37L538.32 259.93L538.82 261.71L539.32 263.7L539.82 265.89L540.32 268.25L540.82 270.77L541.32 273.43L541.82 276.21L542.32 279.1L542.82 282.07L543.32 285.1L543.82 288.18L544.32 291.29L544.82 294.41L545.32 297.52L545.82 300.6L546.32 303.65L546.82 306.65L547.32 309.58L547.82 312.44L548.32 315.21L548.82 317.88L549.32 320.45L549.82 322.92L550.32 325.27L550.82 327.51L551.32 329.63L551.82 331.63L552.32 333.51L552.82 335.28L553.32 336.92L553.82 338.45L554.32 339.87L554.82 341.19L555.32 342.39L555.82 343.5L556.32 344.52L556.82 345.44L557.32 346.29L557.82 347.05L558.32 347.74L558.82 348.36L559.32 348.91L559.82 349.41L560.32 349.85L560.82 350.25L561.32 350.6L561.82 350.91L562.32 351.18L562.82 351.42L563.32 351.63L563.82 351.81L564.32 351.97L564.82 352.11L565.32 352.23L565.82 352.33L566.32 352.42L566.32 352.9Z" fill="url(#grfp)"/>
<path d="M535.0 181.2V352.9" stroke="#a8c6e8" stroke-width="1" stroke-dasharray="4.2 3.2" fill="none"/>
<path d="M564.2 181.2V352.9" stroke="#a8c6e8" stroke-width="1" stroke-dasharray="4.2 3.2" fill="none"/>
<path d="M479.35 340.52a1.45 1.45 0 1 0 2.9 0a1.45 1.45 0 1 0 -2.9 0M480.15 338.28a1.45 1.45 0 1 0 2.9 0a1.45 1.45 0 1 0 -2.9 0M480.95 340.13a1.45 1.45 0 1 0 2.9 0a1.45 1.45 0 1 0 -2.9 0M481.75 336.02a1.45 1.45 0 1 0 2.9 0a1.45 1.45 0 1 0 -2.9 0M482.55 336.22a1.45 1.45 0 1 0 2.9 0a1.45 1.45 0 1 0 -2.9 0M483.35 334.06a1.45 1.45 0 1 0 2.9 0a1.45 1.45 0 1 0 -2.9 0M484.15 334.54a1.45 1.45 0 1 0 2.9 0a1.45 1.45 0 1 0 -2.9 0M484.95 334.76a1.45 1.45 0 1 0 2.9 0a1.45 1.45 0 1 0 -2.9 0M485.75 335.03a1.45 1.45 0 1 0 2.9 0a1.45 1.45 0 1 0 -2.9 0M486.55 331.39a1.45 1.45 0 1 0 2.9 0a1.45 1.45 0 1 0 -2.9 0M487.35 331.06a1.45 1.45 0 1 0 2.9 0a1.45 1.45 0 1 0 -2.9 0M488.15 328.71a1.45 1.45 0 1 0 2.9 0a1.45 1.45 0 1 0 -2.9 0M488.95 327.14a1.45 1.45 0 1 0 2.9 0a1.45 1.45 0 1 0 -2.9 0M489.75 325.38a1.45 1.45 0 1 0 2.9 0a1.45 1.45 0 1 0 -2.9 0M490.55 325.45a1.45 1.45 0 1 0 2.9 0a1.45 1.45 0 1 0 -2.9 0M491.35 321.73a1.45 1.45 0 1 0 2.9 0a1.45 1.45 0 1 0 -2.9 0M492.15 322.53a1.45 1.45 0 1 0 2.9 0a1.45 1.45 0 1 0 -2.9 0M492.95 320.82a1.45 1.45 0 1 0 2.9 0a1.45 1.45 0 1 0 -2.9 0M493.75 318.33a1.45 1.45 0 1 0 2.9 0a1.45 1.45 0 1 0 -2.9 0M494.55 317.66a1.45 1.45 0 1 0 2.9 0a1.45 1.45 0 1 0 -2.9 0M495.35 314.12a1.45 1.45 0 1 0 2.9 0a1.45 1.45 0 1 0 -2.9 0M496.15 316.62a1.45 1.45 0 1 0 2.9 0a1.45 1.45 0 1 0 -2.9 0M496.95 311.12a1.45 1.45 0 1 0 2.9 0a1.45 1.45 0 1 0 -2.9 0M497.75 313.3a1.45 1.45 0 1 0 2.9 0a1.45 1.45 0 1 0 -2.9 0M498.55 310.65a1.45 1.45 0 1 0 2.9 0a1.45 1.45 0 1 0 -2.9 0M499.35 308.04a1.45 1.45 0 1 0 2.9 0a1.45 1.45 0 1 0 -2.9 0M500.15 304.75a1.45 1.45 0 1 0 2.9 0a1.45 1.45 0 1 0 -2.9 0M500.95 307.39a1.45 1.45 0 1 0 2.9 0a1.45 1.45 0 1 0 -2.9 0M501.75 307.36a1.45 1.45 0 1 0 2.9 0a1.45 1.45 0 1 0 -2.9 0M502.55 303.19a1.45 1.45 0 1 0 2.9 0a1.45 1.45 0 1 0 -2.9 0M503.35 303.2a1.45 1.45 0 1 0 2.9 0a1.45 1.45 0 1 0 -2.9 0M504.15 304.28a1.45 1.45 0 1 0 2.9 0a1.45 1.45 0 1 0 -2.9 0M504.95 303.05a1.45 1.45 0 1 0 2.9 0a1.45 1.45 0 1 0 -2.9 0M505.75 305.94a1.45 1.45 0 1 0 2.9 0a1.45 1.45 0 1 0 -2.9 0M506.55 302.12a1.45 1.45 0 1 0 2.9 0a1.45 1.45 0 1 0 -2.9 0M507.35 303.83a1.45 1.45 0 1 0 2.9 0a1.45 1.45 0 1 0 -2.9 0M508.15 302.57a1.45 1.45 0 1 0 2.9 0a1.45 1.45 0 1 0 -2.9 0M508.95 306.58a1.45 1.45 0 1 0 2.9 0a1.45 1.45 0 1 0 -2.9 0M509.75 303.44a1.45 1.45 0 1 0 2.9 0a1.45 1.45 0 1 0 -2.9 0M510.55 302.02a1.45 1.45 0 1 0 2.9 0a1.45 1.45 0 1 0 -2.9 0M511.35 305.16a1.45 1.45 0 1 0 2.9 0a1.45 1.45 0 1 0 -2.9 0M512.15 305.66a1.45 1.45 0 1 0 2.9 0a1.45 1.45 0 1 0 -2.9 0M512.95 308.6a1.45 1.45 0 1 0 2.9 0a1.45 1.45 0 1 0 -2.9 0M513.75 305.86a1.45 1.45 0 1 0 2.9 0a1.45 1.45 0 1 0 -2.9 0M514.55 305.8a1.45 1.45 0 1 0 2.9 0a1.45 1.45 0 1 0 -2.9 0M515.35 303.46a1.45 1.45 0 1 0 2.9 0a1.45 1.45 0 1 0 -2.9 0M516.15 305.12a1.45 1.45 0 1 0 2.9 0a1.45 1.45 0 1 0 -2.9 0M516.95 302.15a1.45 1.45 0 1 0 2.9 0a1.45 1.45 0 1 0 -2.9 0M517.75 302.02a1.45 1.45 0 1 0 2.9 0a1.45 1.45 0 1 0 -2.9 0M518.55 301.13a1.45 1.45 0 1 0 2.9 0a1.45 1.45 0 1 0 -2.9 0M519.35 296a1.45 1.45 0 1 0 2.9 0a1.45 1.45 0 1 0 -2.9 0M520.15 293.73a1.45 1.45 0 1 0 2.9 0a1.45 1.45 0 1 0 -2.9 0M520.95 290.64a1.45 1.45 0 1 0 2.9 0a1.45 1.45 0 1 0 -2.9 0M521.75 285.72a1.45 1.45 0 1 0 2.9 0a1.45 1.45 0 1 0 -2.9 0M522.55 283.88a1.45 1.45 0 1 0 2.9 0a1.45 1.45 0 1 0 -2.9 0M523.35 275.86a1.45 1.45 0 1 0 2.9 0a1.45 1.45 0 1 0 -2.9 0M524.15 273.63a1.45 1.45 0 1 0 2.9 0a1.45 1.45 0 1 0 -2.9 0M524.95 267.94a1.45 1.45 0 1 0 2.9 0a1.45 1.45 0 1 0 -2.9 0M525.75 259.81a1.45 1.45 0 1 0 2.9 0a1.45 1.45 0 1 0 -2.9 0M526.55 252.09a1.45 1.45 0 1 0 2.9 0a1.45 1.45 0 1 0 -2.9 0M527.35 245.06a1.45 1.45 0 1 0 2.9 0a1.45 1.45 0 1 0 -2.9 0M528.15 241.04a1.45 1.45 0 1 0 2.9 0a1.45 1.45 0 1 0 -2.9 0M528.95 237.25a1.45 1.45 0 1 0 2.9 0a1.45 1.45 0 1 0 -2.9 0M529.75 233.36a1.45 1.45 0 1 0 2.9 0a1.45 1.45 0 1 0 -2.9 0M530.55 231.72a1.45 1.45 0 1 0 2.9 0a1.45 1.45 0 1 0 -2.9 0M531.35 227.73a1.45 1.45 0 1 0 2.9 0a1.45 1.45 0 1 0 -2.9 0M532.15 227.49a1.45 1.45 0 1 0 2.9 0a1.45 1.45 0 1 0 -2.9 0M532.95 224.55a1.45 1.45 0 1 0 2.9 0a1.45 1.45 0 1 0 -2.9 0M533.75 227.28a1.45 1.45 0 1 0 2.9 0a1.45 1.45 0 1 0 -2.9 0M534.55 227.01a1.45 1.45 0 1 0 2.9 0a1.45 1.45 0 1 0 -2.9 0M535.35 227.22a1.45 1.45 0 1 0 2.9 0a1.45 1.45 0 1 0 -2.9 0M536.15 230.66a1.45 1.45 0 1 0 2.9 0a1.45 1.45 0 1 0 -2.9 0M536.95 232.78a1.45 1.45 0 1 0 2.9 0a1.45 1.45 0 1 0 -2.9 0M537.75 231.34a1.45 1.45 0 1 0 2.9 0a1.45 1.45 0 1 0 -2.9 0M538.55 238.82a1.45 1.45 0 1 0 2.9 0a1.45 1.45 0 1 0 -2.9 0M539.35 239.17a1.45 1.45 0 1 0 2.9 0a1.45 1.45 0 1 0 -2.9 0M540.15 247.88a1.45 1.45 0 1 0 2.9 0a1.45 1.45 0 1 0 -2.9 0M540.95 251.79a1.45 1.45 0 1 0 2.9 0a1.45 1.45 0 1 0 -2.9 0M541.75 251.34a1.45 1.45 0 1 0 2.9 0a1.45 1.45 0 1 0 -2.9 0M542.55 255.3a1.45 1.45 0 1 0 2.9 0a1.45 1.45 0 1 0 -2.9 0M543.35 257.29a1.45 1.45 0 1 0 2.9 0a1.45 1.45 0 1 0 -2.9 0M544.15 262.87a1.45 1.45 0 1 0 2.9 0a1.45 1.45 0 1 0 -2.9 0M544.95 264.93a1.45 1.45 0 1 0 2.9 0a1.45 1.45 0 1 0 -2.9 0M545.75 268.41a1.45 1.45 0 1 0 2.9 0a1.45 1.45 0 1 0 -2.9 0M546.55 267.77a1.45 1.45 0 1 0 2.9 0a1.45 1.45 0 1 0 -2.9 0M547.35 272.92a1.45 1.45 0 1 0 2.9 0a1.45 1.45 0 1 0 -2.9 0M548.15 271.69a1.45 1.45 0 1 0 2.9 0a1.45 1.45 0 1 0 -2.9 0M548.95 274.73a1.45 1.45 0 1 0 2.9 0a1.45 1.45 0 1 0 -2.9 0M549.75 276.67a1.45 1.45 0 1 0 2.9 0a1.45 1.45 0 1 0 -2.9 0M550.55 276.81a1.45 1.45 0 1 0 2.9 0a1.45 1.45 0 1 0 -2.9 0M551.35 274.08a1.45 1.45 0 1 0 2.9 0a1.45 1.45 0 1 0 -2.9 0M552.15 274.31a1.45 1.45 0 1 0 2.9 0a1.45 1.45 0 1 0 -2.9 0M552.95 274.51a1.45 1.45 0 1 0 2.9 0a1.45 1.45 0 1 0 -2.9 0M553.75 274.88a1.45 1.45 0 1 0 2.9 0a1.45 1.45 0 1 0 -2.9 0M554.55 275.78a1.45 1.45 0 1 0 2.9 0a1.45 1.45 0 1 0 -2.9 0M555.35 271.69a1.45 1.45 0 1 0 2.9 0a1.45 1.45 0 1 0 -2.9 0M556.15 272.63a1.45 1.45 0 1 0 2.9 0a1.45 1.45 0 1 0 -2.9 0M556.95 271.56a1.45 1.45 0 1 0 2.9 0a1.45 1.45 0 1 0 -2.9 0M557.75 270.46a1.45 1.45 0 1 0 2.9 0a1.45 1.45 0 1 0 -2.9 0M558.55 269.29a1.45 1.45 0 1 0 2.9 0a1.45 1.45 0 1 0 -2.9 0M559.35 269.51a1.45 1.45 0 1 0 2.9 0a1.45 1.45 0 1 0 -2.9 0M560.15 267.26a1.45 1.45 0 1 0 2.9 0a1.45 1.45 0 1 0 -2.9 0M560.95 267.06a1.45 1.45 0 1 0 2.9 0a1.45 1.45 0 1 0 -2.9 0M561.75 266.45a1.45 1.45 0 1 0 2.9 0a1.45 1.45 0 1 0 -2.9 0M562.55 267.88a1.45 1.45 0 1 0 2.9 0a1.45 1.45 0 1 0 -2.9 0M563.35 263.18a1.45 1.45 0 1 0 2.9 0a1.45 1.45 0 1 0 -2.9 0M564.15 267.11a1.45 1.45 0 1 0 2.9 0a1.45 1.45 0 1 0 -2.9 0M564.95 265.23a1.45 1.45 0 1 0 2.9 0a1.45 1.45 0 1 0 -2.9 0M565.75 265.59a1.45 1.45 0 1 0 2.9 0a1.45 1.45 0 1 0 -2.9 0M566.55 265.38a1.45 1.45 0 1 0 2.9 0a1.45 1.45 0 1 0 -2.9 0M567.35 265.04a1.45 1.45 0 1 0 2.9 0a1.45 1.45 0 1 0 -2.9 0M568.15 271.4a1.45 1.45 0 1 0 2.9 0a1.45 1.45 0 1 0 -2.9 0M568.95 267.96a1.45 1.45 0 1 0 2.9 0a1.45 1.45 0 1 0 -2.9 0M569.75 270.08a1.45 1.45 0 1 0 2.9 0a1.45 1.45 0 1 0 -2.9 0M570.55 268.83a1.45 1.45 0 1 0 2.9 0a1.45 1.45 0 1 0 -2.9 0M571.35 272.57a1.45 1.45 0 1 0 2.9 0a1.45 1.45 0 1 0 -2.9 0M572.15 271.85a1.45 1.45 0 1 0 2.9 0a1.45 1.45 0 1 0 -2.9 0M572.95 272.01a1.45 1.45 0 1 0 2.9 0a1.45 1.45 0 1 0 -2.9 0M573.75 272.36a1.45 1.45 0 1 0 2.9 0a1.45 1.45 0 1 0 -2.9 0M574.55 273.44a1.45 1.45 0 1 0 2.9 0a1.45 1.45 0 1 0 -2.9 0M575.35 274.37a1.45 1.45 0 1 0 2.9 0a1.45 1.45 0 1 0 -2.9 0M576.15 276.49a1.45 1.45 0 1 0 2.9 0a1.45 1.45 0 1 0 -2.9 0M576.95 278.47a1.45 1.45 0 1 0 2.9 0a1.45 1.45 0 1 0 -2.9 0M577.75 279.43a1.45 1.45 0 1 0 2.9 0a1.45 1.45 0 1 0 -2.9 0M578.55 279.06a1.45 1.45 0 1 0 2.9 0a1.45 1.45 0 1 0 -2.9 0M579.35 281.77a1.45 1.45 0 1 0 2.9 0a1.45 1.45 0 1 0 -2.9 0M580.15 282.48a1.45 1.45 0 1 0 2.9 0a1.45 1.45 0 1 0 -2.9 0M580.95 285.67a1.45 1.45 0 1 0 2.9 0a1.45 1.45 0 1 0 -2.9 0M581.75 289.86a1.45 1.45 0 1 0 2.9 0a1.45 1.45 0 1 0 -2.9 0M582.55 290.29a1.45 1.45 0 1 0 2.9 0a1.45 1.45 0 1 0 -2.9 0M583.35 290.81a1.45 1.45 0 1 0 2.9 0a1.45 1.45 0 1 0 -2.9 0M584.15 292.51a1.45 1.45 0 1 0 2.9 0a1.45 1.45 0 1 0 -2.9 0M584.95 294.03a1.45 1.45 0 1 0 2.9 0a1.45 1.45 0 1 0 -2.9 0M585.75 296.11a1.45 1.45 0 1 0 2.9 0a1.45 1.45 0 1 0 -2.9 0M586.55 298a1.45 1.45 0 1 0 2.9 0a1.45 1.45 0 1 0 -2.9 0M587.35 297.25a1.45 1.45 0 1 0 2.9 0a1.45 1.45 0 1 0 -2.9 0M588.15 299.66a1.45 1.45 0 1 0 2.9 0a1.45 1.45 0 1 0 -2.9 0M588.95 299.91a1.45 1.45 0 1 0 2.9 0a1.45 1.45 0 1 0 -2.9 0M589.75 301.81a1.45 1.45 0 1 0 2.9 0a1.45 1.45 0 1 0 -2.9 0M590.55 304.41a1.45 1.45 0 1 0 2.9 0a1.45 1.45 0 1 0 -2.9 0M591.35 302.72a1.45 1.45 0 1 0 2.9 0a1.45 1.45 0 1 0 -2.9 0M592.15 300.87a1.45 1.45 0 1 0 2.9 0a1.45 1.45 0 1 0 -2.9 0M592.95 304.26a1.45 1.45 0 1 0 2.9 0a1.45 1.45 0 1 0 -2.9 0M593.75 307.1a1.45 1.45 0 1 0 2.9 0a1.45 1.45 0 1 0 -2.9 0M594.55 305.39a1.45 1.45 0 1 0 2.9 0a1.45 1.45 0 1 0 -2.9 0M595.35 305.83a1.45 1.45 0 1 0 2.9 0a1.45 1.45 0 1 0 -2.9 0M596.15 306a1.45 1.45 0 1 0 2.9 0a1.45 1.45 0 1 0 -2.9 0M596.95 306.4a1.45 1.45 0 1 0 2.9 0a1.45 1.45 0 1 0 -2.9 0M597.75 309.14a1.45 1.45 0 1 0 2.9 0a1.45 1.45 0 1 0 -2.9 0M598.55 312.11a1.45 1.45 0 1 0 2.9 0a1.45 1.45 0 1 0 -2.9 0M599.35 307.98a1.45 1.45 0 1 0 2.9 0a1.45 1.45 0 1 0 -2.9 0M600.15 310.71a1.45 1.45 0 1 0 2.9 0a1.45 1.45 0 1 0 -2.9 0M600.95 310.11a1.45 1.45 0 1 0 2.9 0a1.45 1.45 0 1 0 -2.9 0M601.75 308.69a1.45 1.45 0 1 0 2.9 0a1.45 1.45 0 1 0 -2.9 0M602.55 309.96a1.45 1.45 0 1 0 2.9 0a1.45 1.45 0 1 0 -2.9 0M603.35 310.23a1.45 1.45 0 1 0 2.9 0a1.45 1.45 0 1 0 -2.9 0M604.15 309.86a1.45 1.45 0 1 0 2.9 0a1.45 1.45 0 1 0 -2.9 0M604.95 313.33a1.45 1.45 0 1 0 2.9 0a1.45 1.45 0 1 0 -2.9 0M605.75 308.72a1.45 1.45 0 1 0 2.9 0a1.45 1.45 0 1 0 -2.9 0M606.55 311.77a1.45 1.45 0 1 0 2.9 0a1.45 1.45 0 1 0 -2.9 0M607.35 311.91a1.45 1.45 0 1 0 2.9 0a1.45 1.45 0 1 0 -2.9 0M608.15 310.99a1.45 1.45 0 1 0 2.9 0a1.45 1.45 0 1 0 -2.9 0M608.95 312.14a1.45 1.45 0 1 0 2.9 0a1.45 1.45 0 1 0 -2.9 0M609.75 313.29a1.45 1.45 0 1 0 2.9 0a1.45 1.45 0 1 0 -2.9 0M610.55 312.64a1.45 1.45 0 1 0 2.9 0a1.45 1.45 0 1 0 -2.9 0M611.35 313.23a1.45 1.45 0 1 0 2.9 0a1.45 1.45 0 1 0 -2.9 0M612.15 313.84a1.45 1.45 0 1 0 2.9 0a1.45 1.45 0 1 0 -2.9 0M612.95 307.87a1.45 1.45 0 1 0 2.9 0a1.45 1.45 0 1 0 -2.9 0M613.75 315.37a1.45 1.45 0 1 0 2.9 0a1.45 1.45 0 1 0 -2.9 0M614.55 316.65a1.45 1.45 0 1 0 2.9 0a1.45 1.45 0 1 0 -2.9 0M615.35 315.32a1.45 1.45 0 1 0 2.9 0a1.45 1.45 0 1 0 -2.9 0M616.15 315.65a1.45 1.45 0 1 0 2.9 0a1.45 1.45 0 1 0 -2.9 0M616.95 312.92a1.45 1.45 0 1 0 2.9 0a1.45 1.45 0 1 0 -2.9 0M617.75 314.74a1.45 1.45 0 1 0 2.9 0a1.45 1.45 0 1 0 -2.9 0M618.55 314.29a1.45 1.45 0 1 0 2.9 0a1.45 1.45 0 1 0 -2.9 0M619.35 314.85a1.45 1.45 0 1 0 2.9 0a1.45 1.45 0 1 0 -2.9 0M620.15 317.1a1.45 1.45 0 1 0 2.9 0a1.45 1.45 0 1 0 -2.9 0M620.95 315.2a1.45 1.45 0 1 0 2.9 0a1.45 1.45 0 1 0 -2.9 0M621.75 318.03a1.45 1.45 0 1 0 2.9 0a1.45 1.45 0 1 0 -2.9 0M622.55 315.13a1.45 1.45 0 1 0 2.9 0a1.45 1.45 0 1 0 -2.9 0M623.35 316.94a1.45 1.45 0 1 0 2.9 0a1.45 1.45 0 1 0 -2.9 0M624.15 317.57a1.45 1.45 0 1 0 2.9 0a1.45 1.45 0 1 0 -2.9 0M624.95 316.9a1.45 1.45 0 1 0 2.9 0a1.45 1.45 0 1 0 -2.9 0M625.75 317.22a1.45 1.45 0 1 0 2.9 0a1.45 1.45 0 1 0 -2.9 0M626.55 320.82a1.45 1.45 0 1 0 2.9 0a1.45 1.45 0 1 0 -2.9 0M627.35 317.3a1.45 1.45 0 1 0 2.9 0a1.45 1.45 0 1 0 -2.9 0M628.15 317.85a1.45 1.45 0 1 0 2.9 0a1.45 1.45 0 1 0 -2.9 0M628.95 318.68a1.45 1.45 0 1 0 2.9 0a1.45 1.45 0 1 0 -2.9 0M629.75 321.37a1.45 1.45 0 1 0 2.9 0a1.45 1.45 0 1 0 -2.9 0M630.55 322.86a1.45 1.45 0 1 0 2.9 0a1.45 1.45 0 1 0 -2.9 0M631.35 321.01a1.45 1.45 0 1 0 2.9 0a1.45 1.45 0 1 0 -2.9 0M632.15 322.07a1.45 1.45 0 1 0 2.9 0a1.45 1.45 0 1 0 -2.9 0M632.95 320.79a1.45 1.45 0 1 0 2.9 0a1.45 1.45 0 1 0 -2.9 0M633.75 323.02a1.45 1.45 0 1 0 2.9 0a1.45 1.45 0 1 0 -2.9 0M634.55 320.91a1.45 1.45 0 1 0 2.9 0a1.45 1.45 0 1 0 -2.9 0M635.35 324.22a1.45 1.45 0 1 0 2.9 0a1.45 1.45 0 1 0 -2.9 0M636.15 324.53a1.45 1.45 0 1 0 2.9 0a1.45 1.45 0 1 0 -2.9 0M636.95 323.2a1.45 1.45 0 1 0 2.9 0a1.45 1.45 0 1 0 -2.9 0M637.75 321.91a1.45 1.45 0 1 0 2.9 0a1.45 1.45 0 1 0 -2.9 0M638.55 324.74a1.45 1.45 0 1 0 2.9 0a1.45 1.45 0 1 0 -2.9 0M639.35 326.08a1.45 1.45 0 1 0 2.9 0a1.45 1.45 0 1 0 -2.9 0M640.15 323.15a1.45 1.45 0 1 0 2.9 0a1.45 1.45 0 1 0 -2.9 0M640.95 326.26a1.45 1.45 0 1 0 2.9 0a1.45 1.45 0 1 0 -2.9 0M641.75 324.63a1.45 1.45 0 1 0 2.9 0a1.45 1.45 0 1 0 -2.9 0M642.55 324.46a1.45 1.45 0 1 0 2.9 0a1.45 1.45 0 1 0 -2.9 0M643.35 325.87a1.45 1.45 0 1 0 2.9 0a1.45 1.45 0 1 0 -2.9 0M644.15 325.8a1.45 1.45 0 1 0 2.9 0a1.45 1.45 0 1 0 -2.9 0M644.95 325.15a1.45 1.45 0 1 0 2.9 0a1.45 1.45 0 1 0 -2.9 0M645.75 324.71a1.45 1.45 0 1 0 2.9 0a1.45 1.45 0 1 0 -2.9 0M646.55 325.84a1.45 1.45 0 1 0 2.9 0a1.45 1.45 0 1 0 -2.9 0M647.35 329.14a1.45 1.45 0 1 0 2.9 0a1.45 1.45 0 1 0 -2.9 0M648.15 330.09a1.45 1.45 0 1 0 2.9 0a1.45 1.45 0 1 0 -2.9 0M648.95 327.9a1.45 1.45 0 1 0 2.9 0a1.45 1.45 0 1 0 -2.9 0M649.75 329.73a1.45 1.45 0 1 0 2.9 0a1.45 1.45 0 1 0 -2.9 0M650.55 328.55a1.45 1.45 0 1 0 2.9 0a1.45 1.45 0 1 0 -2.9 0M651.35 328.74a1.45 1.45 0 1 0 2.9 0a1.45 1.45 0 1 0 -2.9 0M652.15 329.48a1.45 1.45 0 1 0 2.9 0a1.45 1.45 0 1 0 -2.9 0M652.95 328.06a1.45 1.45 0 1 0 2.9 0a1.45 1.45 0 1 0 -2.9 0M653.75 328.45a1.45 1.45 0 1 0 2.9 0a1.45 1.45 0 1 0 -2.9 0M654.55 330.08a1.45 1.45 0 1 0 2.9 0a1.45 1.45 0 1 0 -2.9 0M655.35 329.06a1.45 1.45 0 1 0 2.9 0a1.45 1.45 0 1 0 -2.9 0M656.15 329.16a1.45 1.45 0 1 0 2.9 0a1.45 1.45 0 1 0 -2.9 0M656.95 331.22a1.45 1.45 0 1 0 2.9 0a1.45 1.45 0 1 0 -2.9 0M657.75 330.65a1.45 1.45 0 1 0 2.9 0a1.45 1.45 0 1 0 -2.9 0M658.55 332.5a1.45 1.45 0 1 0 2.9 0a1.45 1.45 0 1 0 -2.9 0M659.35 331.46a1.45 1.45 0 1 0 2.9 0a1.45 1.45 0 1 0 -2.9 0M660.15 331.33a1.45 1.45 0 1 0 2.9 0a1.45 1.45 0 1 0 -2.9 0M660.95 332.1a1.45 1.45 0 1 0 2.9 0a1.45 1.45 0 1 0 -2.9 0M661.75 331.96a1.45 1.45 0 1 0 2.9 0a1.45 1.45 0 1 0 -2.9 0M662.55 331.58a1.45 1.45 0 1 0 2.9 0a1.45 1.45 0 1 0 -2.9 0M663.35 332.14a1.45 1.45 0 1 0 2.9 0a1.45 1.45 0 1 0 -2.9 0M664.15 333.8a1.45 1.45 0 1 0 2.9 0a1.45 1.45 0 1 0 -2.9 0M664.95 333.9a1.45 1.45 0 1 0 2.9 0a1.45 1.45 0 1 0 -2.9 0M665.75 334.92a1.45 1.45 0 1 0 2.9 0a1.45 1.45 0 1 0 -2.9 0M666.55 332.32a1.45 1.45 0 1 0 2.9 0a1.45 1.45 0 1 0 -2.9 0M667.35 333.26a1.45 1.45 0 1 0 2.9 0a1.45 1.45 0 1 0 -2.9 0M668.15 333.44a1.45 1.45 0 1 0 2.9 0a1.45 1.45 0 1 0 -2.9 0M668.95 334.39a1.45 1.45 0 1 0 2.9 0a1.45 1.45 0 1 0 -2.9 0M669.75 333.81a1.45 1.45 0 1 0 2.9 0a1.45 1.45 0 1 0 -2.9 0M670.55 334.62a1.45 1.45 0 1 0 2.9 0a1.45 1.45 0 1 0 -2.9 0M671.35 335.76a1.45 1.45 0 1 0 2.9 0a1.45 1.45 0 1 0 -2.9 0M672.15 335.2a1.45 1.45 0 1 0 2.9 0a1.45 1.45 0 1 0 -2.9 0M672.95 333.89a1.45 1.45 0 1 0 2.9 0a1.45 1.45 0 1 0 -2.9 0M673.75 337.03a1.45 1.45 0 1 0 2.9 0a1.45 1.45 0 1 0 -2.9 0M674.55 336.79a1.45 1.45 0 1 0 2.9 0a1.45 1.45 0 1 0 -2.9 0M675.35 335.01a1.45 1.45 0 1 0 2.9 0a1.45 1.45 0 1 0 -2.9 0M676.15 336.94a1.45 1.45 0 1 0 2.9 0a1.45 1.45 0 1 0 -2.9 0M676.95 335.16a1.45 1.45 0 1 0 2.9 0a1.45 1.45 0 1 0 -2.9 0M677.75 337.65a1.45 1.45 0 1 0 2.9 0a1.45 1.45 0 1 0 -2.9 0M678.55 336.14a1.45 1.45 0 1 0 2.9 0a1.45 1.45 0 1 0 -2.9 0M679.35 337.31a1.45 1.45 0 1 0 2.9 0a1.45 1.45 0 1 0 -2.9 0M680.15 336.26a1.45 1.45 0 1 0 2.9 0a1.45 1.45 0 1 0 -2.9 0" fill="none" stroke="#1b7398" stroke-width="0.9"/>
<path d="M480.8 338.7 481.7 338.25 482.6 337.67 483.5 336.97 484.4 336.17 485.3 335.28 486.2 334.33 487.1 333.33 488 332.22 488.9 330.89 489.8 329.4 490.7 327.79 491.6 326.12 492.5 324.45 493.4 322.78 494.3 321 495.2 319.15 496.1 317.28 497 315.45 497.9 313.71 498.8 312.08 499.7 310.44 500.6 308.84 501.5 307.36 502.4 306.09 503.3 305.09 504.2 304.15 505.1 303.32 506 302.75 506.9 302.61 507.8 302.77 508.7 303.11 509.6 303.54 510.5 304.01 511.4 304.45 512.3 304.98 513.2 305.59 514.1 306.09 515 306.3 515.9 305.91 516.8 304.88 517.7 303.46 518.6 301.88 519.5 300.04 520.4 297.61 521.3 294.7 522.2 291.38 523.1 287.39 524 282.36 524.9 276.97 525.8 271.06 526.7 264.41 527.6 256.05 528.5 247.67 529.4 241.59 530.3 236.79 531.2 233 532.1 230.2 533 228.03 533.9 226.91 534.8 226.33 535.7 226.57 536.6 227.49 537.5 228.96 538.4 231.79 539.3 235.25 540.2 238.86 541.1 242.97 542 247 542.9 250.76 543.8 254.41 544.7 257.89 545.6 261.21 546.5 264.48 547.4 267.4 548.3 269.72 549.2 271.93 550.1 273.87 551 275.1 551.9 275.3 552.8 275.25 553.7 275.17 554.6 275.06 555.5 274.79 556.4 273.87 557.3 272.53 558.2 271.09 559.1 269.88 560 268.71 560.9 267.48 561.8 266.45 562.7 265.85 563.6 265.69 564.5 265.58 565.4 265.51 566.3 265.53 567.2 265.94 568.1 266.69 569 267.57 569.9 268.42 570.8 269.14 571.7 269.86 572.6 270.61 573.5 271.42 574.4 272.32 575.3 273.38 576.2 274.75 577.1 276.3 578 277.84 578.9 279.21 579.8 280.53 580.7 281.94 581.6 283.6 582.5 285.72 583.4 288.04 584.3 290.18 585.2 291.99 586.1 293.71 587 295.36 587.9 296.93 588.8 298.39 589.7 299.73 590.6 300.95 591.5 302.06 592.4 303.12 593.3 304.13 594.2 305.07 595.1 305.92 596 306.67 596.9 307.31 597.8 307.84 598.7 308.31 599.6 308.73 600.5 309.11 601.4 309.45 602.3 309.77 603.2 310.06 604.1 310.33 605 310.57 605.9 310.8 606.8 311.01 607.7 311.22 608.6 311.44 609.5 311.68 610.4 311.95 611.3 312.23 612.2 312.51 613.1 312.81 614 313.11 614.9 313.42 615.8 313.73 616.7 314.05 617.6 314.38 618.5 314.72 619.4 315.05 620.3 315.39 621.2 315.74 622.1 316.09 623 316.44 623.9 316.79 624.8 317.14 625.7 317.5 626.6 317.87 627.5 318.25 628.4 318.63 629.3 319.03 630.2 319.43 631.1 319.83 632 320.24 632.9 320.64 633.8 321.05 634.7 321.46 635.6 321.87 636.5 322.27 637.4 322.67 638.3 323.07 639.2 323.46 640.1 323.84 641 324.22 641.9 324.58 642.8 324.94 643.7 325.3 644.6 325.67 645.5 326.03 646.4 326.38 647.3 326.74 648.2 327.1 649.1 327.45 650 327.79 650.9 328.13 651.8 328.47 652.7 328.8 653.6 329.13 654.5 329.45 655.4 329.76 656.3 330.06 657.2 330.36 658.1 330.65 659 330.92 659.9 331.2 660.8 331.47 661.7 331.74 662.6 332 663.5 332.27 664.4 332.53 665.3 332.78 666.2 333.04 667.1 333.29 668 333.53 668.9 333.78 669.8 334.01 670.7 334.25 671.6 334.48 672.5 334.71 673.4 334.93 674.3 335.15 675.2 335.36 676.1 335.57 677 335.77 677.9 335.97 678.8 336.16 679.7 336.35 680.6 336.53 681.5 336.7" stroke="#f2467c" stroke-width="1.25" fill="none"/>
</g>
<rect x="627.4" y="34.25" width="10.7" height="6.9" fill="#5cbf7c"/>
<rect x="627.4" y="47.2" width="10.7" height="6.9" fill="#f09a8c"/>
<rect x="627.4" y="62" width="10.7" height="6.9" fill="#b07ed8"/>
<rect x="627.4" y="76.7" width="10.7" height="6.9" fill="#9e9e9e"/>
<text x="647.2" y="40.75" font-size="10.2" fill="#111" font-family='"Liberation Sans", sans-serif' textLength="21.6" lengthAdjust="spacingAndGlyphs"  stroke="#111" stroke-width="0.22">Ni-Pr</text>
<text x="647.2" y="53.800000000000004" font-size="10.2" fill="#111" font-family='"Liberation Sans", sans-serif' stroke="#111" stroke-width="0.22">d<tspan font-size="7.2" dy="2.9">xy</tspan></text>
<text x="647.2" y="68.6" font-size="10.2" fill="#111" font-family='"Liberation Sans", sans-serif' stroke="#111" stroke-width="0.22">d<tspan font-size="7.2" dy="2.9">yz/xz</tspan></text>
<text x="647.2" y="83.3" font-size="10.2" fill="#111" font-family='"Liberation Sans", sans-serif' stroke="#111" stroke-width="0.22">d<tspan font-size="7.2" dy="2.9">3z2-r2</tspan></text>
<rect x="627.4" y="209.9" width="10.7" height="6.9" fill="#5cbf7c"/>
<rect x="627.4" y="222.7" width="10.7" height="6.9" fill="#f09a8c"/>
<rect x="627.4" y="237.2" width="10.7" height="6.9" fill="#b07ed8"/>
<rect x="627.4" y="252" width="10.7" height="6.9" fill="#9e9e9e"/>
<text x="647.2" y="216.4" font-size="10.2" fill="#111" font-family='"Liberation Sans", sans-serif' textLength="21.6" lengthAdjust="spacingAndGlyphs"  stroke="#111" stroke-width="0.22">Ni-Pr</text>
<text x="647.2" y="229.29999999999998" font-size="10.2" fill="#111" font-family='"Liberation Sans", sans-serif' stroke="#111" stroke-width="0.22">d<tspan font-size="7.2" dy="2.9">xy</tspan></text>
<text x="647.2" y="243.79999999999998" font-size="10.2" fill="#111" font-family='"Liberation Sans", sans-serif' stroke="#111" stroke-width="0.22">d<tspan font-size="7.2" dy="2.9">yz/xz</tspan></text>
<text x="647.2" y="258.6" font-size="10.2" fill="#111" font-family='"Liberation Sans", sans-serif' stroke="#111" stroke-width="0.22">d<tspan font-size="7.2" dy="2.9">3z2-r2</tspan></text>
<text x="581.9" y="22.4" font-size="10.2" fill="#111" font-family='"Liberation Sans", sans-serif' textLength="88.2" lengthAdjust="spacingAndGlyphs" stroke="#111" stroke-width="0.22">PrNiO<tspan font-size="7" dy="2.6">2</tspan><tspan dy="-2.6">/STO (0.47, 0)</tspan></text>
<text x="580.4" y="196.7" font-size="10.2" fill="#111" font-family='"Liberation Sans", sans-serif' textLength="92.5" lengthAdjust="spacingAndGlyphs" stroke="#111" stroke-width="0.22">PrNiO<tspan font-size="7" dy="2.6">2</tspan><tspan dy="-2.6">/LSAT (0.47, 0)</tspan></text>
<path d="M71.6 278.4L106 231M71.6 278.4L106 269M71.6 278.4L106 288.1M71.6 278.4L106 317.3" stroke="#9db5e6" stroke-width="0.7" fill="none"/>
<path d="M33.4 278.4H71.7" stroke="#111" stroke-width="1.4"/>
<path d="M106 231H143.8" stroke="#e3273a" stroke-width="1.9"/>
<path d="M106 269H143.8" stroke="#f39a9a" stroke-width="1.1"/>
<path d="M106 288.1H143.8" stroke="#b77ae2" stroke-width="1.2"/>
<path d="M106 317.3H143.6" stroke="#9c9c9c" stroke-width="1.2"/>
<path d="M33.4 359.6H71.5M106 359.6H143.6" stroke="#78a8f2" stroke-width="1.3"/>
<path d="M50.1 348V286" stroke="url(#redarrow)" stroke-width="0.9"/>
<path d="M50.1 283.6L48.1 288.4L52.1 288.4Z" fill="#ec6674" fill-opacity="0.85"/>
<text x="14.6" y="281.2" font-size="12.4" fill="#111" font-family='"Liberation Sans", sans-serif' textLength="13.6" lengthAdjust="spacingAndGlyphs"  stroke="#111" stroke-width="0.22">3d</text>
<text x="15" y="361.9" font-size="12.4" fill="#111" font-family='"Liberation Sans", sans-serif' textLength="13.6" lengthAdjust="spacingAndGlyphs"  stroke="#111" stroke-width="0.22">2p</text>
<text x="149.6" y="362.3" font-size="12.4" fill="#111" font-family='"Liberation Sans", sans-serif' textLength="14" lengthAdjust="spacingAndGlyphs"  stroke="#111" stroke-width="0.22">2p</text>
<text x="149.3" y="232.8" font-size="12.4" fill="#111" font-family='"Liberation Sans", sans-serif' stroke="#111" stroke-width="0.22">d<tspan font-size="7.4" dy="4.3" textLength="15.0" lengthAdjust="spacingAndGlyphs">x²-y²</tspan></text>
<text x="149.3" y="271.4" font-size="12.4" fill="#111" font-family='"Liberation Sans", sans-serif' stroke="#111" stroke-width="0.22">d<tspan font-size="7.4" dy="4.3" textLength="8.0" lengthAdjust="spacingAndGlyphs">xy</tspan></text>
<text x="149.3" y="290.6" font-size="12.4" fill="#111" font-family='"Liberation Sans", sans-serif' stroke="#111" stroke-width="0.22">d<tspan font-size="7.4" dy="4.3" textLength="16.8" lengthAdjust="spacingAndGlyphs">yz/xz</tspan></text>
<text x="149.6" y="320.9" font-size="12.4" fill="#111" font-family='"Liberation Sans", sans-serif' stroke="#111" stroke-width="0.22">d<tspan font-size="7.4" dy="4.3" textLength="17.6" lengthAdjust="spacingAndGlyphs">3z²-r²</tspan></text>
<g>
<polygon points="19.5,26 139.4,1.4 139.4,137.6 19.5,163.4" fill="#e9e9e9" fill-opacity="0.76"/>
<path d="M41.9 48.8L51.28 46.85" stroke="#5aa072" stroke-width="2.1"/><path d="M51.28 46.85L60.65 44.9" stroke="#9246cc" stroke-width="2.1"/><path d="M41.9 48.8L32.53 50.75" stroke="#5aa072" stroke-width="2.1"/><path d="M32.53 50.75L23.15 52.7" stroke="#9246cc" stroke-width="2.1"/><path d="M41.9 48.8L41.9 59.38" stroke="#5aa072" stroke-width="2.1"/><path d="M41.9 59.38L41.9 69.95" stroke="#9246cc" stroke-width="2.1"/><path d="M41.9 48.8L41.9 38.23" stroke="#5aa072" stroke-width="2.1"/><path d="M41.9 38.23L41.9 27.65" stroke="#9246cc" stroke-width="2.1"/><path d="M41.9 91.1L51.28 89.15" stroke="#5aa072" stroke-width="2.1"/><path d="M51.28 89.15L60.65 87.2" stroke="#9246cc" stroke-width="2.1"/><path d="M41.9 91.1L32.53 93.05" stroke="#5aa072" stroke-width="2.1"/><path d="M32.53 93.05L23.15 95" stroke="#9246cc" stroke-width="2.1"/><path d="M41.9 91.1L41.9 101.68" stroke="#5aa072" stroke-width="2.1"/><path d="M41.9 101.68L41.9 112.25" stroke="#9246cc" stroke-width="2.1"/><path d="M41.9 91.1L41.9 80.53" stroke="#5aa072" stroke-width="2.1"/><path d="M41.9 80.53L41.9 69.95" stroke="#9246cc" stroke-width="2.1"/><path d="M41.9 133.4L51.28 131.45" stroke="#5aa072" stroke-width="2.1"/><path d="M51.28 131.45L60.65 129.5" stroke="#9246cc" stroke-width="2.1"/><path d="M41.9 133.4L32.53 135.35" stroke="#5aa072" stroke-width="2.1"/><path d="M32.53 135.35L23.15 137.3" stroke="#9246cc" stroke-width="2.1"/><path d="M41.9 133.4L41.9 143.98" stroke="#5aa072" stroke-width="2.1"/><path d="M41.9 143.98L41.9 154.55" stroke="#9246cc" stroke-width="2.1"/><path d="M41.9 133.4L41.9 122.83" stroke="#5aa072" stroke-width="2.1"/><path d="M41.9 122.83L41.9 112.25" stroke="#9246cc" stroke-width="2.1"/><path d="M79.4 41L88.78 39.05" stroke="#5aa072" stroke-width="2.1"/><path d="M88.78 39.05L98.15 37.1" stroke="#9246cc" stroke-width="2.1"/><path d="M79.4 41L70.03 42.95" stroke="#5aa072" stroke-width="2.1"/><path d="M70.03 42.95L60.65 44.9" stroke="#9246cc" stroke-width="2.1"/><path d="M79.4 41L79.4 51.58" stroke="#5aa072" stroke-width="2.1"/><path d="M79.4 51.58L79.4 62.15" stroke="#9246cc" stroke-width="2.1"/><path d="M79.4 41L79.4 30.43" stroke="#5aa072" stroke-width="2.1"/><path d="M79.4 30.43L79.4 19.85" stroke="#9246cc" stroke-width="2.1"/><path d="M79.4 83.3L88.78 81.35" stroke="#5aa072" stroke-width="2.1"/><path d="M88.78 81.35L98.15 79.4" stroke="#9246cc" stroke-width="2.1"/><path d="M79.4 83.3L70.03 85.25" stroke="#5aa072" stroke-width="2.1"/><path d="M70.03 85.25L60.65 87.2" stroke="#9246cc" stroke-width="2.1"/><path d="M79.4 83.3L79.4 93.88" stroke="#5aa072" stroke-width="2.1"/><path d="M79.4 93.88L79.4 104.45" stroke="#9246cc" stroke-width="2.1"/><path d="M79.4 83.3L79.4 72.73" stroke="#5aa072" stroke-width="2.1"/><path d="M79.4 72.73L79.4 62.15" stroke="#9246cc" stroke-width="2.1"/><path d="M79.4 125.6L88.78 123.65" stroke="#5aa072" stroke-width="2.1"/><path d="M88.78 123.65L98.15 121.7" stroke="#9246cc" stroke-width="2.1"/><path d="M79.4 125.6L70.03 127.55" stroke="#5aa072" stroke-width="2.1"/><path d="M70.03 127.55L60.65 129.5" stroke="#9246cc" stroke-width="2.1"/><path d="M79.4 125.6L79.4 136.18" stroke="#5aa072" stroke-width="2.1"/><path d="M79.4 136.18L79.4 146.75" stroke="#9246cc" stroke-width="2.1"/><path d="M79.4 125.6L79.4 115.03" stroke="#5aa072" stroke-width="2.1"/><path d="M79.4 115.03L79.4 104.45" stroke="#9246cc" stroke-width="2.1"/><path d="M116.9 33.2L126.28 31.25" stroke="#5aa072" stroke-width="2.1"/><path d="M126.28 31.25L135.65 29.3" stroke="#9246cc" stroke-width="2.1"/><path d="M116.9 33.2L107.53 35.15" stroke="#5aa072" stroke-width="2.1"/><path d="M107.53 35.15L98.15 37.1" stroke="#9246cc" stroke-width="2.1"/><path d="M116.9 33.2L116.9 43.78" stroke="#5aa072" stroke-width="2.1"/><path d="M116.9 43.78L116.9 54.35" stroke="#9246cc" stroke-width="2.1"/><path d="M116.9 33.2L116.9 22.63" stroke="#5aa072" stroke-width="2.1"/><path d="M116.9 22.63L116.9 12.05" stroke="#9246cc" stroke-width="2.1"/><path d="M116.9 75.5L126.28 73.55" stroke="#5aa072" stroke-width="2.1"/><path d="M126.28 73.55L135.65 71.6" stroke="#9246cc" stroke-width="2.1"/><path d="M116.9 75.5L107.53 77.45" stroke="#5aa072" stroke-width="2.1"/><path d="M107.53 77.45L98.15 79.4" stroke="#9246cc" stroke-width="2.1"/><path d="M116.9 75.5L116.9 86.08" stroke="#5aa072" stroke-width="2.1"/><path d="M116.9 86.08L116.9 96.65" stroke="#9246cc" stroke-width="2.1"/><path d="M116.9 75.5L116.9 64.93" stroke="#5aa072" stroke-width="2.1"/><path d="M116.9 64.93L116.9 54.35" stroke="#9246cc" stroke-width="2.1"/><path d="M116.9 117.8L126.28 115.85" stroke="#5aa072" stroke-width="2.1"/><path d="M126.28 115.85L135.65 113.9" stroke="#9246cc" stroke-width="2.1"/><path d="M116.9 117.8L107.53 119.75" stroke="#5aa072" stroke-width="2.1"/><path d="M107.53 119.75L98.15 121.7" stroke="#9246cc" stroke-width="2.1"/><path d="M116.9 117.8L116.9 128.38" stroke="#5aa072" stroke-width="2.1"/><path d="M116.9 128.38L116.9 138.95" stroke="#9246cc" stroke-width="2.1"/><path d="M116.9 117.8L116.9 107.23" stroke="#5aa072" stroke-width="2.1"/><path d="M116.9 107.23L116.9 96.65" stroke="#9246cc" stroke-width="2.1"/><circle cx="23.15" cy="52.7" r="2.8" fill="url(#gO)"/><circle cx="60.65" cy="44.9" r="2.8" fill="url(#gO)"/><circle cx="98.15" cy="37.1" r="2.8" fill="url(#gO)"/><circle cx="135.65" cy="29.3" r="2.8" fill="url(#gO)"/><circle cx="23.15" cy="95" r="2.8" fill="url(#gO)"/><circle cx="60.65" cy="87.2" r="2.8" fill="url(#gO)"/><circle cx="98.15" cy="79.4" r="2.8" fill="url(#gO)"/><circle cx="135.65" cy="71.6" r="2.8" fill="url(#gO)"/><circle cx="23.15" cy="137.3" r="2.8" fill="url(#gO)"/><circle cx="60.65" cy="129.5" r="2.8" fill="url(#gO)"/><circle cx="98.15" cy="121.7" r="2.8" fill="url(#gO)"/><circle cx="135.65" cy="113.9" r="2.8" fill="url(#gO)"/><circle cx="41.9" cy="27.65" r="2.8" fill="url(#gO)"/><circle cx="41.9" cy="69.95" r="2.8" fill="url(#gO)"/><circle cx="41.9" cy="112.25" r="2.8" fill="url(#gO)"/><circle cx="41.9" cy="154.55" r="2.8" fill="url(#gO)"/><circle cx="79.4" cy="19.85" r="2.8" fill="url(#gO)"/><circle cx="79.4" cy="62.15" r="2.8" fill="url(#gO)"/><circle cx="79.4" cy="104.45" r="2.8" fill="url(#gO)"/><circle cx="79.4" cy="146.75" r="2.8" fill="url(#gO)"/><circle cx="116.9" cy="12.05" r="2.8" fill="url(#gO)"/><circle cx="116.9" cy="54.35" r="2.8" fill="url(#gO)"/><circle cx="116.9" cy="96.65" r="2.8" fill="url(#gO)"/><circle cx="116.9" cy="138.95" r="2.8" fill="url(#gO)"/><circle cx="41.9" cy="48.8" r="5.1" fill="url(#gNi)"/><circle cx="41.9" cy="91.1" r="5.1" fill="url(#gNi)"/><circle cx="41.9" cy="133.4" r="5.1" fill="url(#gNi)"/><circle cx="79.4" cy="41" r="5.1" fill="url(#gNi)"/><circle cx="79.4" cy="83.3" r="5.1" fill="url(#gNi)"/><circle cx="79.4" cy="125.6" r="5.1" fill="url(#gNi)"/><circle cx="116.9" cy="33.2" r="5.1" fill="url(#gNi)"/><circle cx="116.9" cy="75.5" r="5.1" fill="url(#gNi)"/><circle cx="116.9" cy="117.8" r="5.1" fill="url(#gNi)"/>
<polygon points="40.5,36.3 160.4,11.7 160.4,147.9 40.5,173.7" fill="#e9e9e9" fill-opacity="0.76"/>
<circle cx="71.15" cy="71.2" r="8" fill="url(#gPr)" fill-opacity="0.3"/><circle cx="71.15" cy="113.5" r="8" fill="url(#gPr)" fill-opacity="0.3"/><circle cx="108.65" cy="63.4" r="8" fill="url(#gPr)" fill-opacity="0.3"/><circle cx="108.65" cy="105.7" r="8" fill="url(#gPr)" fill-opacity="0.3"/>
<path d="M62.9 59.1L72.28 57.15" stroke="#5aa072" stroke-width="2.1"/><path d="M72.28 57.15L81.65 55.2" stroke="#9246cc" stroke-width="2.1"/><path d="M62.9 59.1L53.53 61.05" stroke="#5aa072" stroke-width="2.1"/><path d="M53.53 61.05L44.15 63" stroke="#9246cc" stroke-width="2.1"/><path d="M62.9 59.1L62.9 69.68" stroke="#5aa072" stroke-width="2.1"/><path d="M62.9 69.68L62.9 80.25" stroke="#9246cc" stroke-width="2.1"/><path d="M62.9 59.1L62.9 48.53" stroke="#5aa072" stroke-width="2.1"/><path d="M62.9 48.53L62.9 37.95" stroke="#9246cc" stroke-width="2.1"/><path d="M62.9 101.4L72.28 99.45" stroke="#5aa072" stroke-width="2.1"/><path d="M72.28 99.45L81.65 97.5" stroke="#9246cc" stroke-width="2.1"/><path d="M62.9 101.4L53.53 103.35" stroke="#5aa072" stroke-width="2.1"/><path d="M53.53 103.35L44.15 105.3" stroke="#9246cc" stroke-width="2.1"/><path d="M62.9 101.4L62.9 111.98" stroke="#5aa072" stroke-width="2.1"/><path d="M62.9 111.98L62.9 122.55" stroke="#9246cc" stroke-width="2.1"/><path d="M62.9 101.4L62.9 90.83" stroke="#5aa072" stroke-width="2.1"/><path d="M62.9 90.83L62.9 80.25" stroke="#9246cc" stroke-width="2.1"/><path d="M62.9 143.7L72.28 141.75" stroke="#5aa072" stroke-width="2.1"/><path d="M72.28 141.75L81.65 139.8" stroke="#9246cc" stroke-width="2.1"/><path d="M62.9 143.7L53.53 145.65" stroke="#5aa072" stroke-width="2.1"/><path d="M53.53 145.65L44.15 147.6" stroke="#9246cc" stroke-width="2.1"/><path d="M62.9 143.7L62.9 154.27" stroke="#5aa072" stroke-width="2.1"/><path d="M62.9 154.27L62.9 164.85" stroke="#9246cc" stroke-width="2.1"/><path d="M62.9 143.7L62.9 133.12" stroke="#5aa072" stroke-width="2.1"/><path d="M62.9 133.12L62.9 122.55" stroke="#9246cc" stroke-width="2.1"/><path d="M100.4 51.3L109.78 49.35" stroke="#5aa072" stroke-width="2.1"/><path d="M109.78 49.35L119.15 47.4" stroke="#9246cc" stroke-width="2.1"/><path d="M100.4 51.3L91.03 53.25" stroke="#5aa072" stroke-width="2.1"/><path d="M91.03 53.25L81.65 55.2" stroke="#9246cc" stroke-width="2.1"/><path d="M100.4 51.3L100.4 61.88" stroke="#5aa072" stroke-width="2.1"/><path d="M100.4 61.88L100.4 72.45" stroke="#9246cc" stroke-width="2.1"/><path d="M100.4 51.3L100.4 40.73" stroke="#5aa072" stroke-width="2.1"/><path d="M100.4 40.73L100.4 30.15" stroke="#9246cc" stroke-width="2.1"/><path d="M100.4 93.6L109.78 91.65" stroke="#5aa072" stroke-width="2.1"/><path d="M109.78 91.65L119.15 89.7" stroke="#9246cc" stroke-width="2.1"/><path d="M100.4 93.6L91.03 95.55" stroke="#5aa072" stroke-width="2.1"/><path d="M91.03 95.55L81.65 97.5" stroke="#9246cc" stroke-width="2.1"/><path d="M100.4 93.6L100.4 104.18" stroke="#5aa072" stroke-width="2.1"/><path d="M100.4 104.18L100.4 114.75" stroke="#9246cc" stroke-width="2.1"/><path d="M100.4 93.6L100.4 83.03" stroke="#5aa072" stroke-width="2.1"/><path d="M100.4 83.03L100.4 72.45" stroke="#9246cc" stroke-width="2.1"/><path d="M100.4 135.9L109.78 133.95" stroke="#5aa072" stroke-width="2.1"/><path d="M109.78 133.95L119.15 132" stroke="#9246cc" stroke-width="2.1"/><path d="M100.4 135.9L91.03 137.85" stroke="#5aa072" stroke-width="2.1"/><path d="M91.03 137.85L81.65 139.8" stroke="#9246cc" stroke-width="2.1"/><path d="M100.4 135.9L100.4 146.48" stroke="#5aa072" stroke-width="2.1"/><path d="M100.4 146.48L100.4 157.05" stroke="#9246cc" stroke-width="2.1"/><path d="M100.4 135.9L100.4 125.33" stroke="#5aa072" stroke-width="2.1"/><path d="M100.4 125.33L100.4 114.75" stroke="#9246cc" stroke-width="2.1"/><path d="M137.9 43.5L147.28 41.55" stroke="#5aa072" stroke-width="2.1"/><path d="M147.28 41.55L156.65 39.6" stroke="#9246cc" stroke-width="2.1"/><path d="M137.9 43.5L128.53 45.45" stroke="#5aa072" stroke-width="2.1"/><path d="M128.53 45.45L119.15 47.4" stroke="#9246cc" stroke-width="2.1"/><path d="M137.9 43.5L137.9 54.08" stroke="#5aa072" stroke-width="2.1"/><path d="M137.9 54.08L137.9 64.65" stroke="#9246cc" stroke-width="2.1"/><path d="M137.9 43.5L137.9 32.93" stroke="#5aa072" stroke-width="2.1"/><path d="M137.9 32.93L137.9 22.35" stroke="#9246cc" stroke-width="2.1"/><path d="M137.9 85.8L147.28 83.85" stroke="#5aa072" stroke-width="2.1"/><path d="M147.28 83.85L156.65 81.9" stroke="#9246cc" stroke-width="2.1"/><path d="M137.9 85.8L128.53 87.75" stroke="#5aa072" stroke-width="2.1"/><path d="M128.53 87.75L119.15 89.7" stroke="#9246cc" stroke-width="2.1"/><path d="M137.9 85.8L137.9 96.38" stroke="#5aa072" stroke-width="2.1"/><path d="M137.9 96.38L137.9 106.95" stroke="#9246cc" stroke-width="2.1"/><path d="M137.9 85.8L137.9 75.23" stroke="#5aa072" stroke-width="2.1"/><path d="M137.9 75.23L137.9 64.65" stroke="#9246cc" stroke-width="2.1"/><path d="M137.9 128.1L147.28 126.15" stroke="#5aa072" stroke-width="2.1"/><path d="M147.28 126.15L156.65 124.2" stroke="#9246cc" stroke-width="2.1"/><path d="M137.9 128.1L128.53 130.05" stroke="#5aa072" stroke-width="2.1"/><path d="M128.53 130.05L119.15 132" stroke="#9246cc" stroke-width="2.1"/><path d="M137.9 128.1L137.9 138.68" stroke="#5aa072" stroke-width="2.1"/><path d="M137.9 138.68L137.9 149.25" stroke="#9246cc" stroke-width="2.1"/><path d="M137.9 128.1L137.9 117.53" stroke="#5aa072" stroke-width="2.1"/><path d="M137.9 117.53L137.9 106.95" stroke="#9246cc" stroke-width="2.1"/><circle cx="44.15" cy="63" r="2.9" fill="url(#gO)"/><circle cx="81.65" cy="55.2" r="2.9" fill="url(#gO)"/><circle cx="119.15" cy="47.4" r="2.9" fill="url(#gO)"/><circle cx="156.65" cy="39.6" r="2.9" fill="url(#gO)"/><circle cx="44.15" cy="105.3" r="2.9" fill="url(#gO)"/><circle cx="81.65" cy="97.5" r="2.9" fill="url(#gO)"/><circle cx="119.15" cy="89.7" r="2.9" fill="url(#gO)"/><circle cx="156.65" cy="81.9" r="2.9" fill="url(#gO)"/><circle cx="44.15" cy="147.6" r="2.9" fill="url(#gO)"/><circle cx="81.65" cy="139.8" r="2.9" fill="url(#gO)"/><circle cx="119.15" cy="132" r="2.9" fill="url(#gO)"/><circle cx="156.65" cy="124.2" r="2.9" fill="url(#gO)"/><circle cx="62.9" cy="37.95" r="2.9" fill="url(#gO)"/><circle cx="62.9" cy="80.25" r="2.9" fill="url(#gO)"/><circle cx="62.9" cy="122.55" r="2.9" fill="url(#gO)"/><circle cx="62.9" cy="164.85" r="2.9" fill="url(#gO)"/><circle cx="100.4" cy="30.15" r="2.9" fill="url(#gO)"/><circle cx="100.4" cy="72.45" r="2.9" fill="url(#gO)"/><circle cx="100.4" cy="114.75" r="2.9" fill="url(#gO)"/><circle cx="100.4" cy="157.05" r="2.9" fill="url(#gO)"/><circle cx="137.9" cy="22.35" r="2.9" fill="url(#gO)"/><circle cx="137.9" cy="64.65" r="2.9" fill="url(#gO)"/><circle cx="137.9" cy="106.95" r="2.9" fill="url(#gO)"/><circle cx="137.9" cy="149.25" r="2.9" fill="url(#gO)"/><circle cx="62.9" cy="59.1" r="5.3" fill="url(#gNi)"/><circle cx="62.9" cy="101.4" r="5.3" fill="url(#gNi)"/><circle cx="62.9" cy="143.7" r="5.3" fill="url(#gNi)"/><circle cx="100.4" cy="51.3" r="5.3" fill="url(#gNi)"/><circle cx="100.4" cy="93.6" r="5.3" fill="url(#gNi)"/><circle cx="100.4" cy="135.9" r="5.3" fill="url(#gNi)"/><circle cx="137.9" cy="43.5" r="5.3" fill="url(#gNi)"/><circle cx="137.9" cy="85.8" r="5.3" fill="url(#gNi)"/><circle cx="137.9" cy="128.1" r="5.3" fill="url(#gNi)"/>
<polygon points="61.5,46.6 181.4,22 181.4,158.2 61.5,184" fill="#e9e9e9" fill-opacity="0.76"/>
<circle cx="92.15" cy="81.5" r="8" fill="url(#gPr)" fill-opacity="0.52"/><circle cx="92.15" cy="123.8" r="8" fill="url(#gPr)" fill-opacity="0.52"/><circle cx="129.65" cy="73.7" r="8" fill="url(#gPr)" fill-opacity="0.52"/><circle cx="129.65" cy="116" r="8" fill="url(#gPr)" fill-opacity="0.52"/>
<path d="M83.9 69.4L93.28 67.45" stroke="#5aa072" stroke-width="2.1"/><path d="M93.28 67.45L102.65 65.5" stroke="#9246cc" stroke-width="2.1"/><path d="M83.9 69.4L74.53 71.35" stroke="#5aa072" stroke-width="2.1"/><path d="M74.53 71.35L65.15 73.3" stroke="#9246cc" stroke-width="2.1"/><path d="M83.9 69.4L83.9 79.98" stroke="#5aa072" stroke-width="2.1"/><path d="M83.9 79.98L83.9 90.55" stroke="#9246cc" stroke-width="2.1"/><path d="M83.9 69.4L83.9 58.83" stroke="#5aa072" stroke-width="2.1"/><path d="M83.9 58.83L83.9 48.25" stroke="#9246cc" stroke-width="2.1"/><path d="M83.9 111.7L93.28 109.75" stroke="#5aa072" stroke-width="2.1"/><path d="M93.28 109.75L102.65 107.8" stroke="#9246cc" stroke-width="2.1"/><path d="M83.9 111.7L74.53 113.65" stroke="#5aa072" stroke-width="2.1"/><path d="M74.53 113.65L65.15 115.6" stroke="#9246cc" stroke-width="2.1"/><path d="M83.9 111.7L83.9 122.28" stroke="#5aa072" stroke-width="2.1"/><path d="M83.9 122.28L83.9 132.85" stroke="#9246cc" stroke-width="2.1"/><path d="M83.9 111.7L83.9 101.12" stroke="#5aa072" stroke-width="2.1"/><path d="M83.9 101.12L83.9 90.55" stroke="#9246cc" stroke-width="2.1"/><path d="M83.9 154L93.28 152.05" stroke="#5aa072" stroke-width="2.1"/><path d="M93.28 152.05L102.65 150.1" stroke="#9246cc" stroke-width="2.1"/><path d="M83.9 154L74.53 155.95" stroke="#5aa072" stroke-width="2.1"/><path d="M74.53 155.95L65.15 157.9" stroke="#9246cc" stroke-width="2.1"/><path d="M83.9 154L83.9 164.57" stroke="#5aa072" stroke-width="2.1"/><path d="M83.9 164.57L83.9 175.15" stroke="#9246cc" stroke-width="2.1"/><path d="M83.9 154L83.9 143.43" stroke="#5aa072" stroke-width="2.1"/><path d="M83.9 143.43L83.9 132.85" stroke="#9246cc" stroke-width="2.1"/><path d="M121.4 61.6L130.78 59.65" stroke="#5aa072" stroke-width="2.1"/><path d="M130.78 59.65L140.15 57.7" stroke="#9246cc" stroke-width="2.1"/><path d="M121.4 61.6L112.03 63.55" stroke="#5aa072" stroke-width="2.1"/><path d="M112.03 63.55L102.65 65.5" stroke="#9246cc" stroke-width="2.1"/><path d="M121.4 61.6L121.4 72.18" stroke="#5aa072" stroke-width="2.1"/><path d="M121.4 72.18L121.4 82.75" stroke="#9246cc" stroke-width="2.1"/><path d="M121.4 61.6L121.4 51.03" stroke="#5aa072" stroke-width="2.1"/><path d="M121.4 51.03L121.4 40.45" stroke="#9246cc" stroke-width="2.1"/><path d="M121.4 103.9L130.78 101.95" stroke="#5aa072" stroke-width="2.1"/><path d="M130.78 101.95L140.15 100" stroke="#9246cc" stroke-width="2.1"/><path d="M121.4 103.9L112.03 105.85" stroke="#5aa072" stroke-width="2.1"/><path d="M112.03 105.85L102.65 107.8" stroke="#9246cc" stroke-width="2.1"/><path d="M121.4 103.9L121.4 114.48" stroke="#5aa072" stroke-width="2.1"/><path d="M121.4 114.48L121.4 125.05" stroke="#9246cc" stroke-width="2.1"/><path d="M121.4 103.9L121.4 93.33" stroke="#5aa072" stroke-width="2.1"/><path d="M121.4 93.33L121.4 82.75" stroke="#9246cc" stroke-width="2.1"/><path d="M121.4 146.2L130.78 144.25" stroke="#5aa072" stroke-width="2.1"/><path d="M130.78 144.25L140.15 142.3" stroke="#9246cc" stroke-width="2.1"/><path d="M121.4 146.2L112.03 148.15" stroke="#5aa072" stroke-width="2.1"/><path d="M112.03 148.15L102.65 150.1" stroke="#9246cc" stroke-width="2.1"/><path d="M121.4 146.2L121.4 156.77" stroke="#5aa072" stroke-width="2.1"/><path d="M121.4 156.77L121.4 167.35" stroke="#9246cc" stroke-width="2.1"/><path d="M121.4 146.2L121.4 135.62" stroke="#5aa072" stroke-width="2.1"/><path d="M121.4 135.62L121.4 125.05" stroke="#9246cc" stroke-width="2.1"/><path d="M158.9 53.8L168.28 51.85" stroke="#5aa072" stroke-width="2.1"/><path d="M168.28 51.85L177.65 49.9" stroke="#9246cc" stroke-width="2.1"/><path d="M158.9 53.8L149.53 55.75" stroke="#5aa072" stroke-width="2.1"/><path d="M149.53 55.75L140.15 57.7" stroke="#9246cc" stroke-width="2.1"/><path d="M158.9 53.8L158.9 64.38" stroke="#5aa072" stroke-width="2.1"/><path d="M158.9 64.38L158.9 74.95" stroke="#9246cc" stroke-width="2.1"/><path d="M158.9 53.8L158.9 43.23" stroke="#5aa072" stroke-width="2.1"/><path d="M158.9 43.23L158.9 32.65" stroke="#9246cc" stroke-width="2.1"/><path d="M158.9 96.1L168.28 94.15" stroke="#5aa072" stroke-width="2.1"/><path d="M168.28 94.15L177.65 92.2" stroke="#9246cc" stroke-width="2.1"/><path d="M158.9 96.1L149.53 98.05" stroke="#5aa072" stroke-width="2.1"/><path d="M149.53 98.05L140.15 100" stroke="#9246cc" stroke-width="2.1"/><path d="M158.9 96.1L158.9 106.68" stroke="#5aa072" stroke-width="2.1"/><path d="M158.9 106.68L158.9 117.25" stroke="#9246cc" stroke-width="2.1"/><path d="M158.9 96.1L158.9 85.53" stroke="#5aa072" stroke-width="2.1"/><path d="M158.9 85.53L158.9 74.95" stroke="#9246cc" stroke-width="2.1"/><path d="M158.9 138.4L168.28 136.45" stroke="#5aa072" stroke-width="2.1"/><path d="M168.28 136.45L177.65 134.5" stroke="#9246cc" stroke-width="2.1"/><path d="M158.9 138.4L149.53 140.35" stroke="#5aa072" stroke-width="2.1"/><path d="M149.53 140.35L140.15 142.3" stroke="#9246cc" stroke-width="2.1"/><path d="M158.9 138.4L158.9 148.98" stroke="#5aa072" stroke-width="2.1"/><path d="M158.9 148.98L158.9 159.55" stroke="#9246cc" stroke-width="2.1"/><path d="M158.9 138.4L158.9 127.83" stroke="#5aa072" stroke-width="2.1"/><path d="M158.9 127.83L158.9 117.25" stroke="#9246cc" stroke-width="2.1"/><circle cx="65.15" cy="73.3" r="3.05" fill="url(#gO)"/><circle cx="102.65" cy="65.5" r="3.05" fill="url(#gO)"/><circle cx="140.15" cy="57.7" r="3.05" fill="url(#gO)"/><circle cx="177.65" cy="49.9" r="3.05" fill="url(#gO)"/><circle cx="65.15" cy="115.6" r="3.05" fill="url(#gO)"/><circle cx="102.65" cy="107.8" r="3.05" fill="url(#gO)"/><circle cx="140.15" cy="100" r="3.05" fill="url(#gO)"/><circle cx="177.65" cy="92.2" r="3.05" fill="url(#gO)"/><circle cx="65.15" cy="157.9" r="3.05" fill="url(#gO)"/><circle cx="102.65" cy="150.1" r="3.05" fill="url(#gO)"/><circle cx="140.15" cy="142.3" r="3.05" fill="url(#gO)"/><circle cx="177.65" cy="134.5" r="3.05" fill="url(#gO)"/><circle cx="83.9" cy="48.25" r="3.05" fill="url(#gO)"/><circle cx="83.9" cy="90.55" r="3.05" fill="url(#gO)"/><circle cx="83.9" cy="132.85" r="3.05" fill="url(#gO)"/><circle cx="83.9" cy="175.15" r="3.05" fill="url(#gO)"/><circle cx="121.4" cy="40.45" r="3.05" fill="url(#gO)"/><circle cx="121.4" cy="82.75" r="3.05" fill="url(#gO)"/><circle cx="121.4" cy="125.05" r="3.05" fill="url(#gO)"/><circle cx="121.4" cy="167.35" r="3.05" fill="url(#gO)"/><circle cx="158.9" cy="32.65" r="3.05" fill="url(#gO)"/><circle cx="158.9" cy="74.95" r="3.05" fill="url(#gO)"/><circle cx="158.9" cy="117.25" r="3.05" fill="url(#gO)"/><circle cx="158.9" cy="159.55" r="3.05" fill="url(#gO)"/><circle cx="83.9" cy="69.4" r="5.5" fill="url(#gNi)"/><circle cx="83.9" cy="111.7" r="5.5" fill="url(#gNi)"/><circle cx="83.9" cy="154" r="5.5" fill="url(#gNi)"/><circle cx="121.4" cy="61.6" r="5.5" fill="url(#gNi)"/><circle cx="121.4" cy="103.9" r="5.5" fill="url(#gNi)"/><circle cx="121.4" cy="146.2" r="5.5" fill="url(#gNi)"/><circle cx="158.9" cy="53.8" r="5.5" fill="url(#gNi)"/><circle cx="158.9" cy="96.1" r="5.5" fill="url(#gNi)"/><circle cx="158.9" cy="138.4" r="5.5" fill="url(#gNi)"/>
</g>
<polygon points="58,118.6 161,96.5 204,106.4 112,127.2" fill="#7aa6ea" fill-opacity="0.38" stroke="#7ea8e6" stroke-width="0.5"/>
<path d="M122.1 103.8V26.5" stroke="#222" stroke-width="0.85"/>
<path d="M122.1 24.6L120.6 28.6L123.6 28.6Z" fill="#111"/>
<path d="M121.2 103.8L41 120.4" stroke="#111" stroke-width="0.9"/>
<path d="M38.6 120.8L42.5 118.8L43.1 121.9Z" fill="#111"/>
<path d="M121.2 103.8L181 115.1" stroke="#111" stroke-width="0.9"/>
<path d="M184 115.5L180.1 113.5L179.6 116.7Z" fill="#111"/>
<path d="M121.2 103.8L50 119.3" stroke="#ee1c1c" stroke-width="1.3"/>
<path d="M46.6 120L51.4 117.4L52 121Z" fill="#ee1c1c"/>
<path d="M121.2 103.8L174 114.8" stroke="#ee1c1c" stroke-width="1.3"/>
<path d="M177.6 115.5L172.6 112.9L172 116.5Z" fill="#ee1c1c"/>
<path d="M47.5 120.3L102.4 130.8L177.2 115.6" stroke="#ee2a2a" stroke-width="0.9" stroke-dasharray="2.6 1.8" fill="none"/>
<path d="M121.2 103.8L104.2 128" stroke="#ee1c1c" stroke-width="1.2"/>
<path d="M102.4 130.9L103.2 125.6L106.3 127.8Z" fill="#ee1c1c"/>
<circle cx="102.4" cy="130.9" r="1.1" fill="#ee1c1c"/>
<path d="M121.2 103.8L104.6 114.2" stroke="#1d43e6" stroke-width="1.6"/>
<path d="M101.9 116.1L104.9 112.1L106.8 115.1Z" fill="#1d43e6"/>
<path d="M121.2 103.8L118 120.8" stroke="#1d43e6" stroke-width="1.5"/>
<path d="M117.5 124L116.3 119.4L119.6 120Z" fill="#1d43e6"/>
<path d="M121.2 103.8L137 93.3" stroke="#2a50e8" stroke-width="0.9" stroke-dasharray="2.4 1.6"/>
<path d="M124.0 99.4A5.6 5.6 0 0 1 125.9 107.6" stroke="#1d43e6" stroke-width="1.8" fill="none"/>
<path d="M105.2 116.2H100.2M103.3 112.4V119.6" stroke="#111" stroke-width="1.0"/>
<path d="M98.8 116.2L101.3 114.9L101.3 117.5Z" fill="#111"/><path d="M103.3 121.2L102.0 118.7L104.6 118.7Z" fill="#111"/>
<text x="119.4" y="20.6" font-size="12.5" fill="#111" font-family='"Liberation Serif", serif' stroke="#111" stroke-width="0.22">y</text>
<text x="31.8" y="123.6" font-size="13" fill="#111" font-family='"Liberation Serif", serif' stroke="#111" stroke-width="0.22">x</text>
<text x="185.0" y="121.0" font-size="14" fill="#111" font-family='"Liberation Serif", serif' stroke="#111" stroke-width="0.22">z</text>
<text x="93.7" y="117.0" font-size="10.5" fill="#111" font-family='"Liberation Sans", sans-serif' stroke="#111" stroke-width="0.22">π</text>
<text x="99.6" y="126.5" font-size="10.5" fill="#111" font-family='"Liberation Sans", sans-serif' stroke="#111" stroke-width="0.22">σ</text>
<text x="85.2" y="125.4" font-size="12" fill="#1d43e6" font-family='"Liberation Sans", sans-serif' stroke="#1d43e6" stroke-width="0.22">K<tspan font-size="7.6" dy="4.4">in</tspan></text>
<text x="112.0" y="133.9" font-size="12" fill="#1d43e6" font-family='"Liberation Sans", sans-serif' stroke="#1d43e6" stroke-width="0.22">K<tspan font-size="7.4" dy="4.0" textLength="9.6" lengthAdjust="spacingAndGlyphs">out</tspan></text>
<text x="128.8" y="112.6" font-size="10.5" fill="#1f2ff0" font-style="italic" font-family='"Liberation Serif", serif' stroke="#1f2ff0" stroke-width="0.22">2θ</text>
<text x="95.0" y="139.6" font-size="13.5" fill="#ee1c1c" font-weight="bold" font-style="italic" font-family='"Liberation Serif", serif' stroke="#ee1c1c" stroke-width="0.22">q</text>
<text x="40.8" y="129.4" font-size="13.5" fill="#ee1c1c" font-weight="bold" font-style="italic" font-family='"Liberation Serif", serif' stroke="#ee1c1c" stroke-width="0.22">q<tspan font-size="9" dy="2.6" font-weight="normal" font-style="italic">//</tspan></text>
<text x="168.6" y="124.9" font-size="13.5" fill="#ee1c1c" font-weight="bold" font-style="italic" font-family='"Liberation Serif", serif' stroke="#ee1c1c" stroke-width="0.22">q</text>
<path d="M178.3 122.8V128.3M175.1 128.4H181.4" stroke="#ee1c1c" stroke-width="1"/>
<circle cx="177.9" cy="164.3" r="3.2" fill="url(#gNiL)"/>
<circle cx="177.9" cy="174.2" r="3.2" fill="url(#gOL)"/>
<circle cx="177.9" cy="183.9" r="3.2" fill="url(#gPrL)"/>
<text x="189.3" y="167.5" font-size="7.6" fill="#111" font-family='"Liberation Sans", sans-serif' textLength="8" lengthAdjust="spacingAndGlyphs"  stroke="#111" stroke-width="0.22">Ni</text>
<text x="190.2" y="178" font-size="7.6" fill="#111" font-family='"Liberation Sans", sans-serif' textLength="6.1" lengthAdjust="spacingAndGlyphs"  stroke="#111" stroke-width="0.22">O</text>
<text x="190.2" y="187.6" font-size="7.6" fill="#111" font-family='"Liberation Sans", sans-serif' textLength="6.6" lengthAdjust="spacingAndGlyphs"  stroke="#111" stroke-width="0.22">Pr</text>
</svg></body></html>
